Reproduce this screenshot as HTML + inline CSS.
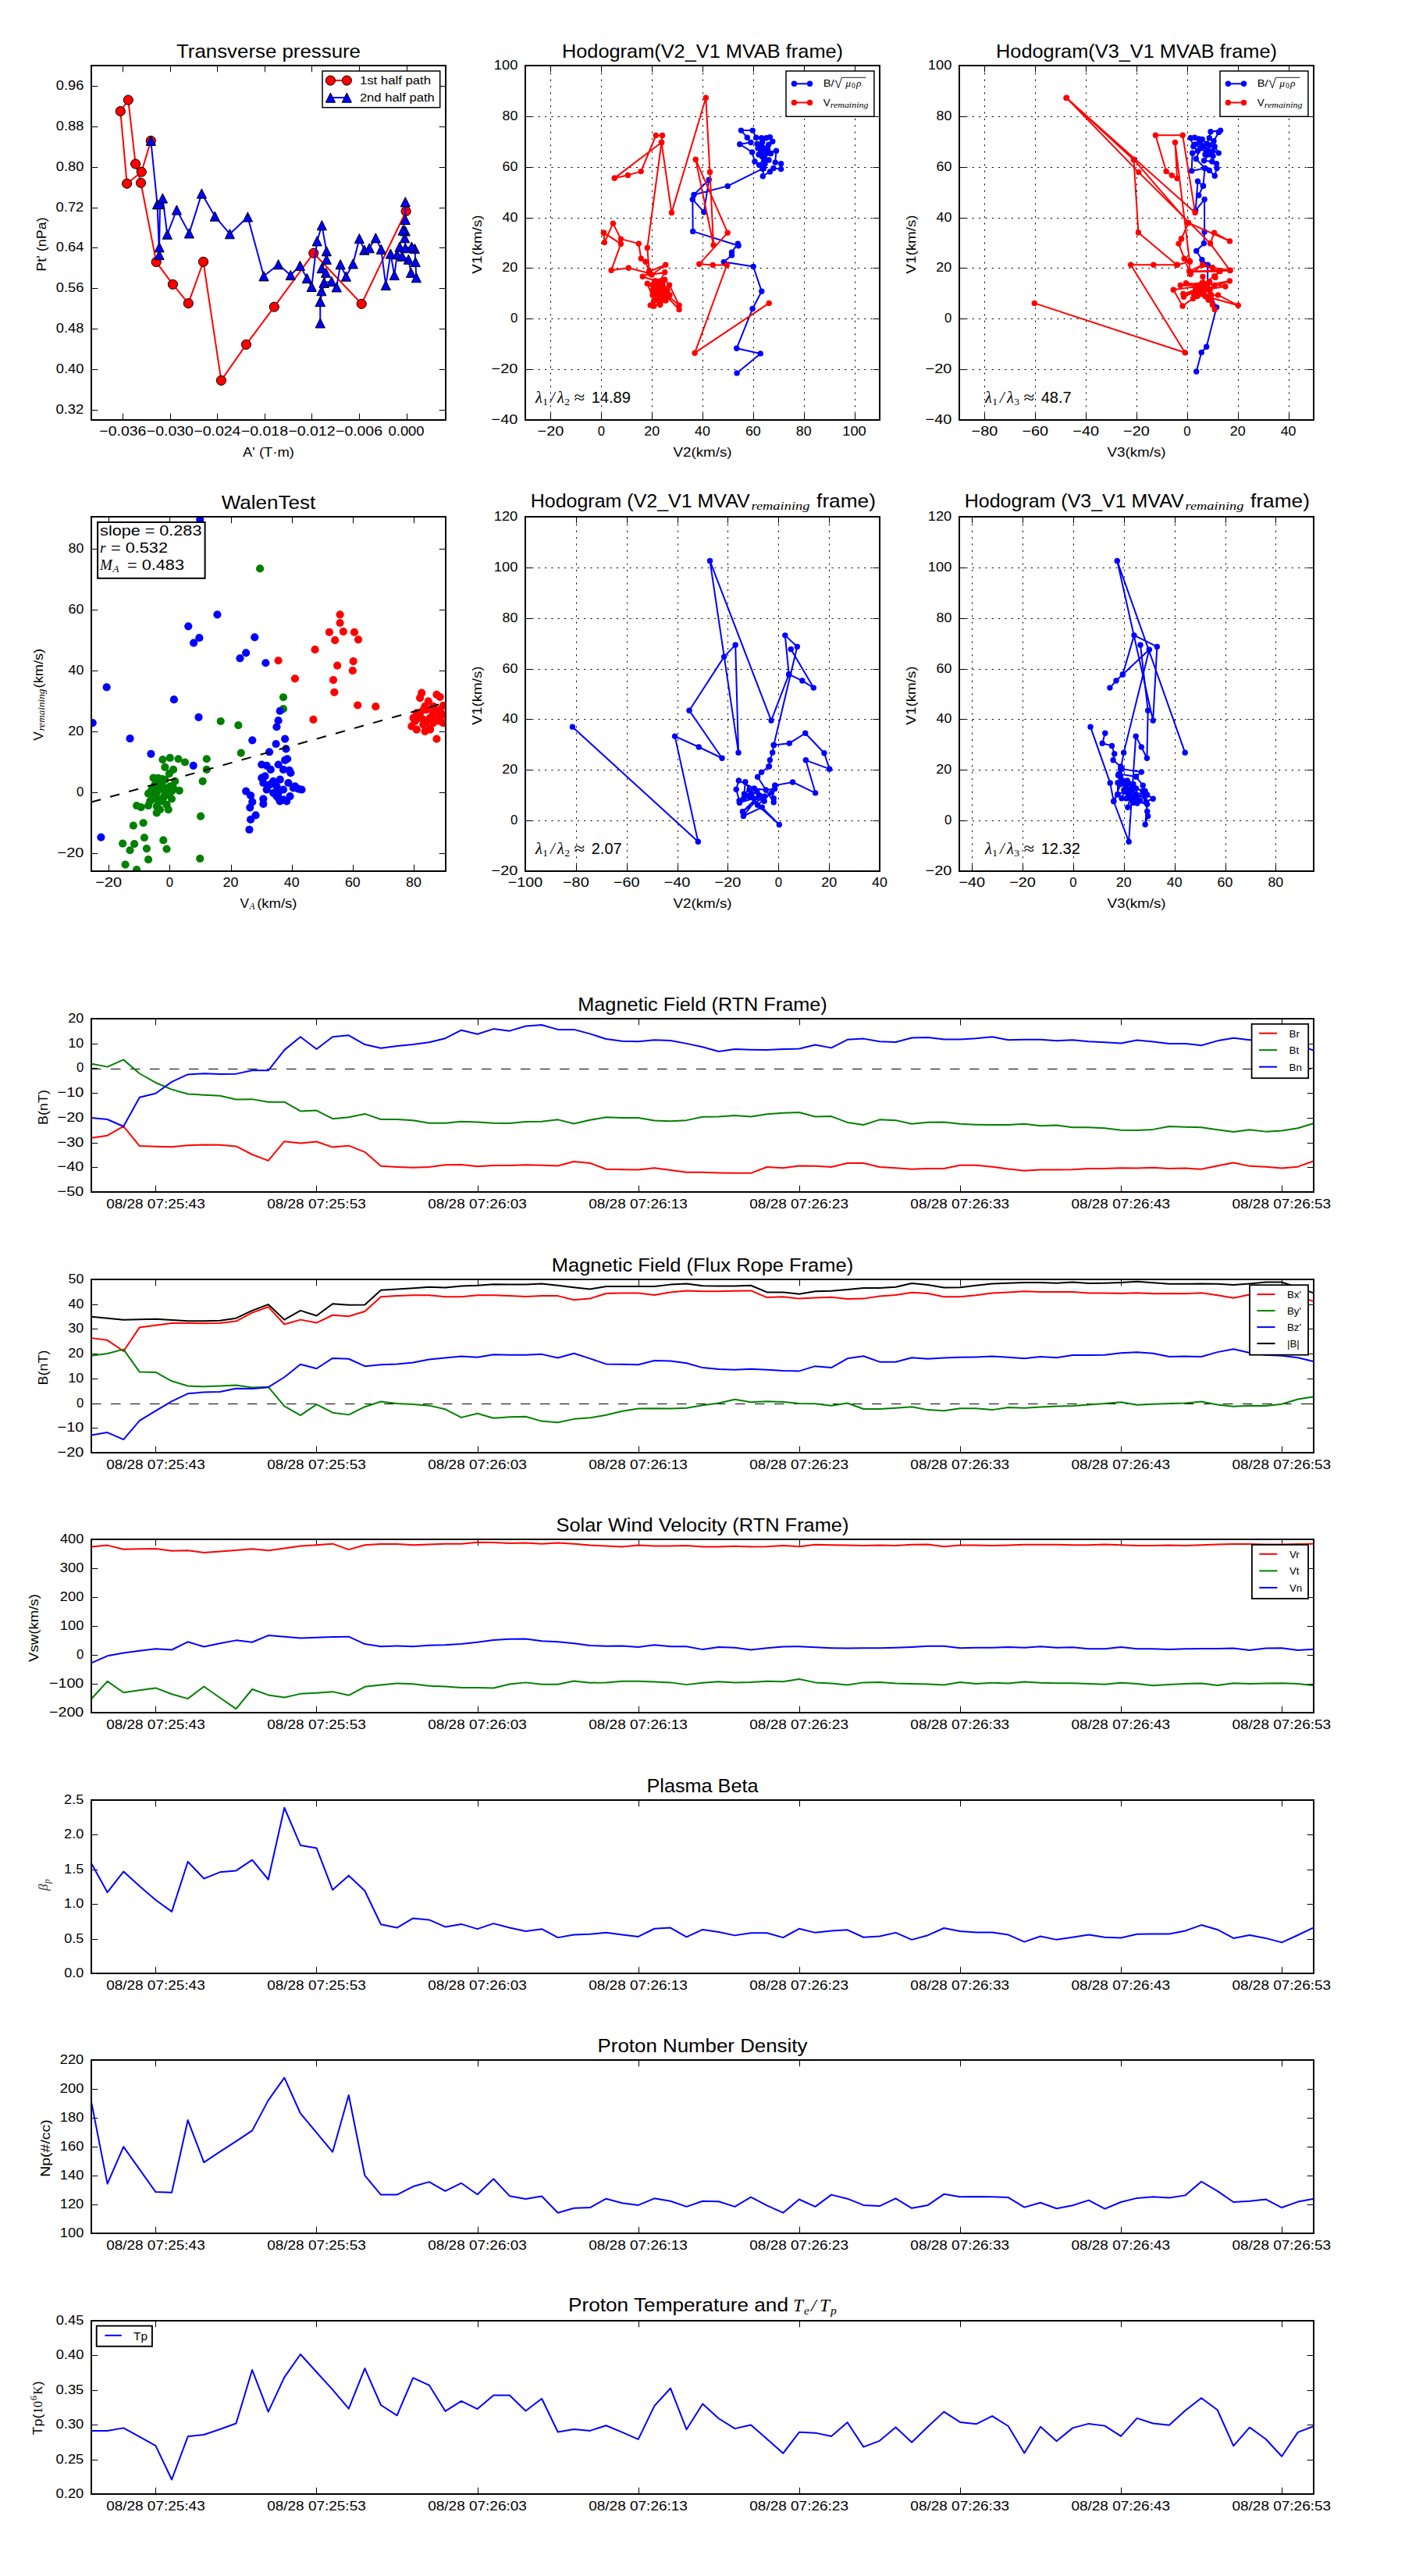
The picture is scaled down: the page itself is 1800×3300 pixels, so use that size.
<!DOCTYPE html><html><head><meta charset="utf-8"><style>html,body{margin:0;padding:0;background:#fff}svg{display:block}svg{font-family:"Liberation Sans",sans-serif}</style></head><body><svg width="1800" height="3300" viewBox="0 0 1800 3300"><defs><clipPath id="c_tp"><rect x="117" y="84" width="454" height="454"/></clipPath><clipPath id="c_h1"><rect x="673" y="84" width="454" height="454"/></clipPath><clipPath id="c_h2"><rect x="1229" y="84" width="454" height="454"/></clipPath><clipPath id="c_wt"><rect x="117" y="662" width="454" height="454"/></clipPath><clipPath id="c_h3"><rect x="673" y="662" width="454" height="454"/></clipPath><clipPath id="c_h4"><rect x="1229" y="662" width="454" height="454"/></clipPath><clipPath id="c_ts0"><rect x="117" y="1305" width="1566" height="222"/></clipPath><clipPath id="c_ts1"><rect x="117" y="1639" width="1566" height="222"/></clipPath><clipPath id="c_ts2"><rect x="117" y="1972" width="1566" height="222"/></clipPath><clipPath id="c_ts3"><rect x="117" y="2306" width="1566" height="222"/></clipPath><clipPath id="c_ts4"><rect x="117" y="2639" width="1566" height="222"/></clipPath><clipPath id="c_ts5"><rect x="117" y="2973" width="1566" height="222"/></clipPath></defs>
<rect x="0" y="0" width="1800" height="3300" fill="#fff"/>
<line x1="157.5" y1="538" x2="157.5" y2="529.7" stroke="#000" stroke-width="1.0" />
<line x1="157.5" y1="84" x2="157.5" y2="92.3" stroke="#000" stroke-width="1.0" />
<line x1="218.5" y1="538" x2="218.5" y2="529.7" stroke="#000" stroke-width="1.0" />
<line x1="218.5" y1="84" x2="218.5" y2="92.3" stroke="#000" stroke-width="1.0" />
<line x1="278.5" y1="538" x2="278.5" y2="529.7" stroke="#000" stroke-width="1.0" />
<line x1="278.5" y1="84" x2="278.5" y2="92.3" stroke="#000" stroke-width="1.0" />
<line x1="339.5" y1="538" x2="339.5" y2="529.7" stroke="#000" stroke-width="1.0" />
<line x1="339.5" y1="84" x2="339.5" y2="92.3" stroke="#000" stroke-width="1.0" />
<line x1="399.5" y1="538" x2="399.5" y2="529.7" stroke="#000" stroke-width="1.0" />
<line x1="399.5" y1="84" x2="399.5" y2="92.3" stroke="#000" stroke-width="1.0" />
<line x1="460.5" y1="538" x2="460.5" y2="529.7" stroke="#000" stroke-width="1.0" />
<line x1="460.5" y1="84" x2="460.5" y2="92.3" stroke="#000" stroke-width="1.0" />
<line x1="521.5" y1="538" x2="521.5" y2="529.7" stroke="#000" stroke-width="1.0" />
<line x1="521.5" y1="84" x2="521.5" y2="92.3" stroke="#000" stroke-width="1.0" />
<line x1="117" y1="525.5" x2="125.3" y2="525.5" stroke="#000" stroke-width="1.0" />
<line x1="571" y1="525.5" x2="562.7" y2="525.5" stroke="#000" stroke-width="1.0" />
<line x1="117" y1="473.5" x2="125.3" y2="473.5" stroke="#000" stroke-width="1.0" />
<line x1="571" y1="473.5" x2="562.7" y2="473.5" stroke="#000" stroke-width="1.0" />
<line x1="117" y1="421.5" x2="125.3" y2="421.5" stroke="#000" stroke-width="1.0" />
<line x1="571" y1="421.5" x2="562.7" y2="421.5" stroke="#000" stroke-width="1.0" />
<line x1="117" y1="369.5" x2="125.3" y2="369.5" stroke="#000" stroke-width="1.0" />
<line x1="571" y1="369.5" x2="562.7" y2="369.5" stroke="#000" stroke-width="1.0" />
<line x1="117" y1="317.5" x2="125.3" y2="317.5" stroke="#000" stroke-width="1.0" />
<line x1="571" y1="317.5" x2="562.7" y2="317.5" stroke="#000" stroke-width="1.0" />
<line x1="117" y1="266.5" x2="125.3" y2="266.5" stroke="#000" stroke-width="1.0" />
<line x1="571" y1="266.5" x2="562.7" y2="266.5" stroke="#000" stroke-width="1.0" />
<line x1="117" y1="214.5" x2="125.3" y2="214.5" stroke="#000" stroke-width="1.0" />
<line x1="571" y1="214.5" x2="562.7" y2="214.5" stroke="#000" stroke-width="1.0" />
<line x1="117" y1="162.5" x2="125.3" y2="162.5" stroke="#000" stroke-width="1.0" />
<line x1="571" y1="162.5" x2="562.7" y2="162.5" stroke="#000" stroke-width="1.0" />
<line x1="117" y1="110.5" x2="125.3" y2="110.5" stroke="#000" stroke-width="1.0" />
<line x1="571" y1="110.5" x2="562.7" y2="110.5" stroke="#000" stroke-width="1.0" />
<text x="157.36" y="558.3" font-size="17" text-anchor="middle" textLength="60.05" lengthAdjust="spacingAndGlyphs">−0.036</text>
<text x="217.89" y="558.3" font-size="17" text-anchor="middle" textLength="60.05" lengthAdjust="spacingAndGlyphs">−0.030</text>
<text x="278.42" y="558.3" font-size="17" text-anchor="middle" textLength="60.05" lengthAdjust="spacingAndGlyphs">−0.024</text>
<text x="338.96" y="558.3" font-size="17" text-anchor="middle" textLength="60.05" lengthAdjust="spacingAndGlyphs">−0.018</text>
<text x="399.49" y="558.3" font-size="17" text-anchor="middle" textLength="60.17" lengthAdjust="spacingAndGlyphs">−0.012</text>
<text x="460.02" y="558.3" font-size="17" text-anchor="middle" textLength="59.92" lengthAdjust="spacingAndGlyphs">−0.006</text>
<text x="520.56" y="558.3" font-size="17" text-anchor="middle" textLength="46.05" lengthAdjust="spacingAndGlyphs">0.000</text>
<text x="107.3" y="530.03" font-size="17" text-anchor="end" textLength="35.8" lengthAdjust="spacingAndGlyphs">0.32</text>
<text x="107.3" y="478.14" font-size="17" text-anchor="end" textLength="35.55" lengthAdjust="spacingAndGlyphs">0.40</text>
<text x="107.3" y="426.26" font-size="17" text-anchor="end" textLength="35.55" lengthAdjust="spacingAndGlyphs">0.48</text>
<text x="107.3" y="374.37" font-size="17" text-anchor="end" textLength="35.55" lengthAdjust="spacingAndGlyphs">0.56</text>
<text x="107.3" y="322.49" font-size="17" text-anchor="end" textLength="35.55" lengthAdjust="spacingAndGlyphs">0.64</text>
<text x="107.3" y="270.6" font-size="17" text-anchor="end" textLength="35.67" lengthAdjust="spacingAndGlyphs">0.72</text>
<text x="107.3" y="218.71" font-size="17" text-anchor="end" textLength="35.55" lengthAdjust="spacingAndGlyphs">0.80</text>
<text x="107.3" y="166.83" font-size="17" text-anchor="end" textLength="35.55" lengthAdjust="spacingAndGlyphs">0.88</text>
<text x="107.3" y="114.94" font-size="17" text-anchor="end" textLength="35.55" lengthAdjust="spacingAndGlyphs">0.96</text>
<text x="344" y="74.2" font-size="24.2" text-anchor="middle" textLength="236" lengthAdjust="spacingAndGlyphs">Transverse pressure</text>
<text x="344" y="585.2" font-size="17.2" text-anchor="middle" textLength="65.88" lengthAdjust="spacingAndGlyphs">A' (T·m)</text>
<text x="59" y="313" font-size="17.2" text-anchor="middle" textLength="69.38" lengthAdjust="spacingAndGlyphs" transform="rotate(-90 59 313)">Pt' (nPa)</text>
<line x1="705.5" y1="538" x2="705.5" y2="84" stroke="#000" stroke-width="1.0" stroke-dasharray="2.1 6.25"/>
<line x1="770.5" y1="538" x2="770.5" y2="84" stroke="#000" stroke-width="1.0" stroke-dasharray="2.1 6.25"/>
<line x1="835.5" y1="538" x2="835.5" y2="84" stroke="#000" stroke-width="1.0" stroke-dasharray="2.1 6.25"/>
<line x1="900.5" y1="538" x2="900.5" y2="84" stroke="#000" stroke-width="1.0" stroke-dasharray="2.1 6.25"/>
<line x1="965.5" y1="538" x2="965.5" y2="84" stroke="#000" stroke-width="1.0" stroke-dasharray="2.1 6.25"/>
<line x1="1030.5" y1="538" x2="1030.5" y2="84" stroke="#000" stroke-width="1.0" stroke-dasharray="2.1 6.25"/>
<line x1="1095.5" y1="538" x2="1095.5" y2="84" stroke="#000" stroke-width="1.0" stroke-dasharray="2.1 6.25"/>
<line x1="673" y1="538.5" x2="1127" y2="538.5" stroke="#000" stroke-width="1.0" stroke-dasharray="2.1 6.25"/>
<line x1="673" y1="473.5" x2="1127" y2="473.5" stroke="#000" stroke-width="1.0" stroke-dasharray="2.1 6.25"/>
<line x1="673" y1="408.5" x2="1127" y2="408.5" stroke="#000" stroke-width="1.0" stroke-dasharray="2.1 6.25"/>
<line x1="673" y1="343.5" x2="1127" y2="343.5" stroke="#000" stroke-width="1.0" stroke-dasharray="2.1 6.25"/>
<line x1="673" y1="279.5" x2="1127" y2="279.5" stroke="#000" stroke-width="1.0" stroke-dasharray="2.1 6.25"/>
<line x1="673" y1="214.5" x2="1127" y2="214.5" stroke="#000" stroke-width="1.0" stroke-dasharray="2.1 6.25"/>
<line x1="673" y1="149.5" x2="1127" y2="149.5" stroke="#000" stroke-width="1.0" stroke-dasharray="2.1 6.25"/>
<line x1="673" y1="84.5" x2="1127" y2="84.5" stroke="#000" stroke-width="1.0" stroke-dasharray="2.1 6.25"/>
<line x1="705.5" y1="538" x2="705.5" y2="529.7" stroke="#000" stroke-width="1.0" />
<line x1="705.5" y1="84" x2="705.5" y2="92.3" stroke="#000" stroke-width="1.0" />
<line x1="770.5" y1="538" x2="770.5" y2="529.7" stroke="#000" stroke-width="1.0" />
<line x1="770.5" y1="84" x2="770.5" y2="92.3" stroke="#000" stroke-width="1.0" />
<line x1="835.5" y1="538" x2="835.5" y2="529.7" stroke="#000" stroke-width="1.0" />
<line x1="835.5" y1="84" x2="835.5" y2="92.3" stroke="#000" stroke-width="1.0" />
<line x1="900.5" y1="538" x2="900.5" y2="529.7" stroke="#000" stroke-width="1.0" />
<line x1="900.5" y1="84" x2="900.5" y2="92.3" stroke="#000" stroke-width="1.0" />
<line x1="965.5" y1="538" x2="965.5" y2="529.7" stroke="#000" stroke-width="1.0" />
<line x1="965.5" y1="84" x2="965.5" y2="92.3" stroke="#000" stroke-width="1.0" />
<line x1="1030.5" y1="538" x2="1030.5" y2="529.7" stroke="#000" stroke-width="1.0" />
<line x1="1030.5" y1="84" x2="1030.5" y2="92.3" stroke="#000" stroke-width="1.0" />
<line x1="1095.5" y1="538" x2="1095.5" y2="529.7" stroke="#000" stroke-width="1.0" />
<line x1="1095.5" y1="84" x2="1095.5" y2="92.3" stroke="#000" stroke-width="1.0" />
<line x1="673" y1="538.5" x2="681.3" y2="538.5" stroke="#000" stroke-width="1.0" />
<line x1="1127" y1="538.5" x2="1118.7" y2="538.5" stroke="#000" stroke-width="1.0" />
<line x1="673" y1="473.5" x2="681.3" y2="473.5" stroke="#000" stroke-width="1.0" />
<line x1="1127" y1="473.5" x2="1118.7" y2="473.5" stroke="#000" stroke-width="1.0" />
<line x1="673" y1="408.5" x2="681.3" y2="408.5" stroke="#000" stroke-width="1.0" />
<line x1="1127" y1="408.5" x2="1118.7" y2="408.5" stroke="#000" stroke-width="1.0" />
<line x1="673" y1="343.5" x2="681.3" y2="343.5" stroke="#000" stroke-width="1.0" />
<line x1="1127" y1="343.5" x2="1118.7" y2="343.5" stroke="#000" stroke-width="1.0" />
<line x1="673" y1="279.5" x2="681.3" y2="279.5" stroke="#000" stroke-width="1.0" />
<line x1="1127" y1="279.5" x2="1118.7" y2="279.5" stroke="#000" stroke-width="1.0" />
<line x1="673" y1="214.5" x2="681.3" y2="214.5" stroke="#000" stroke-width="1.0" />
<line x1="1127" y1="214.5" x2="1118.7" y2="214.5" stroke="#000" stroke-width="1.0" />
<line x1="673" y1="149.5" x2="681.3" y2="149.5" stroke="#000" stroke-width="1.0" />
<line x1="1127" y1="149.5" x2="1118.7" y2="149.5" stroke="#000" stroke-width="1.0" />
<line x1="673" y1="84.5" x2="681.3" y2="84.5" stroke="#000" stroke-width="1.0" />
<line x1="1127" y1="84.5" x2="1118.7" y2="84.5" stroke="#000" stroke-width="1.0" />
<text x="705.43" y="558.3" font-size="17" text-anchor="middle" textLength="33.8" lengthAdjust="spacingAndGlyphs">−20</text>
<text x="770.29" y="558.3" font-size="17" text-anchor="middle" textLength="9.3" lengthAdjust="spacingAndGlyphs">0</text>
<text x="835.14" y="558.3" font-size="17" text-anchor="middle" textLength="19.93" lengthAdjust="spacingAndGlyphs">20</text>
<text x="900" y="558.3" font-size="17" text-anchor="middle" textLength="19.8" lengthAdjust="spacingAndGlyphs">40</text>
<text x="964.86" y="558.3" font-size="17" text-anchor="middle" textLength="19.8" lengthAdjust="spacingAndGlyphs">60</text>
<text x="1029.71" y="558.3" font-size="17" text-anchor="middle" textLength="19.8" lengthAdjust="spacingAndGlyphs">80</text>
<text x="1094.57" y="558.3" font-size="17" text-anchor="middle" textLength="30.43" lengthAdjust="spacingAndGlyphs">100</text>
<text x="663.3" y="543" font-size="17" text-anchor="end" textLength="33.67" lengthAdjust="spacingAndGlyphs">−40</text>
<text x="663.3" y="478.14" font-size="17" text-anchor="end" textLength="33.8" lengthAdjust="spacingAndGlyphs">−20</text>
<text x="663.3" y="413.29" font-size="17" text-anchor="end" textLength="9.3" lengthAdjust="spacingAndGlyphs">0</text>
<text x="663.3" y="348.43" font-size="17" text-anchor="end" textLength="19.93" lengthAdjust="spacingAndGlyphs">20</text>
<text x="663.3" y="283.57" font-size="17" text-anchor="end" textLength="19.8" lengthAdjust="spacingAndGlyphs">40</text>
<text x="663.3" y="218.71" font-size="17" text-anchor="end" textLength="19.8" lengthAdjust="spacingAndGlyphs">60</text>
<text x="663.3" y="153.86" font-size="17" text-anchor="end" textLength="19.8" lengthAdjust="spacingAndGlyphs">80</text>
<text x="663.3" y="89" font-size="17" text-anchor="end" textLength="30.43" lengthAdjust="spacingAndGlyphs">100</text>
<text x="900" y="585.2" font-size="17.2" text-anchor="middle" textLength="75.25" lengthAdjust="spacingAndGlyphs">V2(km/s)</text>
<text x="617" y="313" font-size="17.2" text-anchor="middle" textLength="75.25" lengthAdjust="spacingAndGlyphs" transform="rotate(-90 617 313)">V1(km/s)</text>
<text x="900" y="74.2" font-size="24.2" text-anchor="middle" textLength="360.1" lengthAdjust="spacingAndGlyphs">Hodogram(V2_V1 MVAB frame)</text>
<line x1="1261.5" y1="538" x2="1261.5" y2="84" stroke="#000" stroke-width="1.0" stroke-dasharray="2.1 6.25"/>
<line x1="1326.5" y1="538" x2="1326.5" y2="84" stroke="#000" stroke-width="1.0" stroke-dasharray="2.1 6.25"/>
<line x1="1391.5" y1="538" x2="1391.5" y2="84" stroke="#000" stroke-width="1.0" stroke-dasharray="2.1 6.25"/>
<line x1="1456.5" y1="538" x2="1456.5" y2="84" stroke="#000" stroke-width="1.0" stroke-dasharray="2.1 6.25"/>
<line x1="1521.5" y1="538" x2="1521.5" y2="84" stroke="#000" stroke-width="1.0" stroke-dasharray="2.1 6.25"/>
<line x1="1586.5" y1="538" x2="1586.5" y2="84" stroke="#000" stroke-width="1.0" stroke-dasharray="2.1 6.25"/>
<line x1="1651.5" y1="538" x2="1651.5" y2="84" stroke="#000" stroke-width="1.0" stroke-dasharray="2.1 6.25"/>
<line x1="1229" y1="538.5" x2="1683" y2="538.5" stroke="#000" stroke-width="1.0" stroke-dasharray="2.1 6.25"/>
<line x1="1229" y1="473.5" x2="1683" y2="473.5" stroke="#000" stroke-width="1.0" stroke-dasharray="2.1 6.25"/>
<line x1="1229" y1="408.5" x2="1683" y2="408.5" stroke="#000" stroke-width="1.0" stroke-dasharray="2.1 6.25"/>
<line x1="1229" y1="343.5" x2="1683" y2="343.5" stroke="#000" stroke-width="1.0" stroke-dasharray="2.1 6.25"/>
<line x1="1229" y1="279.5" x2="1683" y2="279.5" stroke="#000" stroke-width="1.0" stroke-dasharray="2.1 6.25"/>
<line x1="1229" y1="214.5" x2="1683" y2="214.5" stroke="#000" stroke-width="1.0" stroke-dasharray="2.1 6.25"/>
<line x1="1229" y1="149.5" x2="1683" y2="149.5" stroke="#000" stroke-width="1.0" stroke-dasharray="2.1 6.25"/>
<line x1="1229" y1="84.5" x2="1683" y2="84.5" stroke="#000" stroke-width="1.0" stroke-dasharray="2.1 6.25"/>
<line x1="1261.5" y1="538" x2="1261.5" y2="529.7" stroke="#000" stroke-width="1.0" />
<line x1="1261.5" y1="84" x2="1261.5" y2="92.3" stroke="#000" stroke-width="1.0" />
<line x1="1326.5" y1="538" x2="1326.5" y2="529.7" stroke="#000" stroke-width="1.0" />
<line x1="1326.5" y1="84" x2="1326.5" y2="92.3" stroke="#000" stroke-width="1.0" />
<line x1="1391.5" y1="538" x2="1391.5" y2="529.7" stroke="#000" stroke-width="1.0" />
<line x1="1391.5" y1="84" x2="1391.5" y2="92.3" stroke="#000" stroke-width="1.0" />
<line x1="1456.5" y1="538" x2="1456.5" y2="529.7" stroke="#000" stroke-width="1.0" />
<line x1="1456.5" y1="84" x2="1456.5" y2="92.3" stroke="#000" stroke-width="1.0" />
<line x1="1521.5" y1="538" x2="1521.5" y2="529.7" stroke="#000" stroke-width="1.0" />
<line x1="1521.5" y1="84" x2="1521.5" y2="92.3" stroke="#000" stroke-width="1.0" />
<line x1="1586.5" y1="538" x2="1586.5" y2="529.7" stroke="#000" stroke-width="1.0" />
<line x1="1586.5" y1="84" x2="1586.5" y2="92.3" stroke="#000" stroke-width="1.0" />
<line x1="1651.5" y1="538" x2="1651.5" y2="529.7" stroke="#000" stroke-width="1.0" />
<line x1="1651.5" y1="84" x2="1651.5" y2="92.3" stroke="#000" stroke-width="1.0" />
<line x1="1229" y1="538.5" x2="1237.3" y2="538.5" stroke="#000" stroke-width="1.0" />
<line x1="1683" y1="538.5" x2="1674.7" y2="538.5" stroke="#000" stroke-width="1.0" />
<line x1="1229" y1="473.5" x2="1237.3" y2="473.5" stroke="#000" stroke-width="1.0" />
<line x1="1683" y1="473.5" x2="1674.7" y2="473.5" stroke="#000" stroke-width="1.0" />
<line x1="1229" y1="408.5" x2="1237.3" y2="408.5" stroke="#000" stroke-width="1.0" />
<line x1="1683" y1="408.5" x2="1674.7" y2="408.5" stroke="#000" stroke-width="1.0" />
<line x1="1229" y1="343.5" x2="1237.3" y2="343.5" stroke="#000" stroke-width="1.0" />
<line x1="1683" y1="343.5" x2="1674.7" y2="343.5" stroke="#000" stroke-width="1.0" />
<line x1="1229" y1="279.5" x2="1237.3" y2="279.5" stroke="#000" stroke-width="1.0" />
<line x1="1683" y1="279.5" x2="1674.7" y2="279.5" stroke="#000" stroke-width="1.0" />
<line x1="1229" y1="214.5" x2="1237.3" y2="214.5" stroke="#000" stroke-width="1.0" />
<line x1="1683" y1="214.5" x2="1674.7" y2="214.5" stroke="#000" stroke-width="1.0" />
<line x1="1229" y1="149.5" x2="1237.3" y2="149.5" stroke="#000" stroke-width="1.0" />
<line x1="1683" y1="149.5" x2="1674.7" y2="149.5" stroke="#000" stroke-width="1.0" />
<line x1="1229" y1="84.5" x2="1237.3" y2="84.5" stroke="#000" stroke-width="1.0" />
<line x1="1683" y1="84.5" x2="1674.7" y2="84.5" stroke="#000" stroke-width="1.0" />
<text x="1261.43" y="558.3" font-size="17" text-anchor="middle" textLength="33.67" lengthAdjust="spacingAndGlyphs">−80</text>
<text x="1326.29" y="558.3" font-size="17" text-anchor="middle" textLength="33.67" lengthAdjust="spacingAndGlyphs">−60</text>
<text x="1391.14" y="558.3" font-size="17" text-anchor="middle" textLength="33.67" lengthAdjust="spacingAndGlyphs">−40</text>
<text x="1456" y="558.3" font-size="17" text-anchor="middle" textLength="33.8" lengthAdjust="spacingAndGlyphs">−20</text>
<text x="1520.86" y="558.3" font-size="17" text-anchor="middle" textLength="9.3" lengthAdjust="spacingAndGlyphs">0</text>
<text x="1585.71" y="558.3" font-size="17" text-anchor="middle" textLength="19.93" lengthAdjust="spacingAndGlyphs">20</text>
<text x="1650.57" y="558.3" font-size="17" text-anchor="middle" textLength="19.8" lengthAdjust="spacingAndGlyphs">40</text>
<text x="1219.3" y="543" font-size="17" text-anchor="end" textLength="33.67" lengthAdjust="spacingAndGlyphs">−40</text>
<text x="1219.3" y="478.14" font-size="17" text-anchor="end" textLength="33.8" lengthAdjust="spacingAndGlyphs">−20</text>
<text x="1219.3" y="413.29" font-size="17" text-anchor="end" textLength="9.3" lengthAdjust="spacingAndGlyphs">0</text>
<text x="1219.3" y="348.43" font-size="17" text-anchor="end" textLength="19.93" lengthAdjust="spacingAndGlyphs">20</text>
<text x="1219.3" y="283.57" font-size="17" text-anchor="end" textLength="19.8" lengthAdjust="spacingAndGlyphs">40</text>
<text x="1219.3" y="218.71" font-size="17" text-anchor="end" textLength="19.8" lengthAdjust="spacingAndGlyphs">60</text>
<text x="1219.3" y="153.86" font-size="17" text-anchor="end" textLength="19.8" lengthAdjust="spacingAndGlyphs">80</text>
<text x="1219.3" y="89" font-size="17" text-anchor="end" textLength="30.43" lengthAdjust="spacingAndGlyphs">100</text>
<text x="1456" y="585.2" font-size="17.2" text-anchor="middle" textLength="75.25" lengthAdjust="spacingAndGlyphs">V3(km/s)</text>
<text x="1173" y="313" font-size="17.2" text-anchor="middle" textLength="75.25" lengthAdjust="spacingAndGlyphs" transform="rotate(-90 1173 313)">V1(km/s)</text>
<text x="1456" y="74.2" font-size="24.2" text-anchor="middle" textLength="359.9" lengthAdjust="spacingAndGlyphs">Hodogram(V3_V1 MVAB frame)</text>
<line x1="139.5" y1="1116" x2="139.5" y2="1107.7" stroke="#000" stroke-width="1.0" />
<line x1="139.5" y1="662" x2="139.5" y2="670.3" stroke="#000" stroke-width="1.0" />
<line x1="217.5" y1="1116" x2="217.5" y2="1107.7" stroke="#000" stroke-width="1.0" />
<line x1="217.5" y1="662" x2="217.5" y2="670.3" stroke="#000" stroke-width="1.0" />
<line x1="296.5" y1="1116" x2="296.5" y2="1107.7" stroke="#000" stroke-width="1.0" />
<line x1="296.5" y1="662" x2="296.5" y2="670.3" stroke="#000" stroke-width="1.0" />
<line x1="374.5" y1="1116" x2="374.5" y2="1107.7" stroke="#000" stroke-width="1.0" />
<line x1="374.5" y1="662" x2="374.5" y2="670.3" stroke="#000" stroke-width="1.0" />
<line x1="452.5" y1="1116" x2="452.5" y2="1107.7" stroke="#000" stroke-width="1.0" />
<line x1="452.5" y1="662" x2="452.5" y2="670.3" stroke="#000" stroke-width="1.0" />
<line x1="530.5" y1="1116" x2="530.5" y2="1107.7" stroke="#000" stroke-width="1.0" />
<line x1="530.5" y1="662" x2="530.5" y2="670.3" stroke="#000" stroke-width="1.0" />
<line x1="117" y1="1093.5" x2="125.3" y2="1093.5" stroke="#000" stroke-width="1.0" />
<line x1="571" y1="1093.5" x2="562.7" y2="1093.5" stroke="#000" stroke-width="1.0" />
<line x1="117" y1="1015.5" x2="125.3" y2="1015.5" stroke="#000" stroke-width="1.0" />
<line x1="571" y1="1015.5" x2="562.7" y2="1015.5" stroke="#000" stroke-width="1.0" />
<line x1="117" y1="937.5" x2="125.3" y2="937.5" stroke="#000" stroke-width="1.0" />
<line x1="571" y1="937.5" x2="562.7" y2="937.5" stroke="#000" stroke-width="1.0" />
<line x1="117" y1="859.5" x2="125.3" y2="859.5" stroke="#000" stroke-width="1.0" />
<line x1="571" y1="859.5" x2="562.7" y2="859.5" stroke="#000" stroke-width="1.0" />
<line x1="117" y1="781.5" x2="125.3" y2="781.5" stroke="#000" stroke-width="1.0" />
<line x1="571" y1="781.5" x2="562.7" y2="781.5" stroke="#000" stroke-width="1.0" />
<line x1="117" y1="703.5" x2="125.3" y2="703.5" stroke="#000" stroke-width="1.0" />
<line x1="571" y1="703.5" x2="562.7" y2="703.5" stroke="#000" stroke-width="1.0" />
<text x="139.27" y="1136.3" font-size="17" text-anchor="middle" textLength="33.8" lengthAdjust="spacingAndGlyphs">−20</text>
<text x="217.41" y="1136.3" font-size="17" text-anchor="middle" textLength="9.3" lengthAdjust="spacingAndGlyphs">0</text>
<text x="295.55" y="1136.3" font-size="17" text-anchor="middle" textLength="19.93" lengthAdjust="spacingAndGlyphs">20</text>
<text x="373.69" y="1136.3" font-size="17" text-anchor="middle" textLength="19.8" lengthAdjust="spacingAndGlyphs">40</text>
<text x="451.83" y="1136.3" font-size="17" text-anchor="middle" textLength="19.8" lengthAdjust="spacingAndGlyphs">60</text>
<text x="529.98" y="1136.3" font-size="17" text-anchor="middle" textLength="19.8" lengthAdjust="spacingAndGlyphs">80</text>
<text x="107.3" y="1097.6" font-size="17" text-anchor="end" textLength="33.8" lengthAdjust="spacingAndGlyphs">−20</text>
<text x="107.3" y="1019.59" font-size="17" text-anchor="end" textLength="9.3" lengthAdjust="spacingAndGlyphs">0</text>
<text x="107.3" y="941.58" font-size="17" text-anchor="end" textLength="19.93" lengthAdjust="spacingAndGlyphs">20</text>
<text x="107.3" y="863.58" font-size="17" text-anchor="end" textLength="19.8" lengthAdjust="spacingAndGlyphs">40</text>
<text x="107.3" y="785.57" font-size="17" text-anchor="end" textLength="19.8" lengthAdjust="spacingAndGlyphs">60</text>
<text x="107.3" y="707.56" font-size="17" text-anchor="end" textLength="19.8" lengthAdjust="spacingAndGlyphs">80</text>
<text x="344" y="652.2" font-size="24.2" text-anchor="middle" textLength="120.6" lengthAdjust="spacingAndGlyphs">WalenTest</text>
<line x1="738.5" y1="1116" x2="738.5" y2="662" stroke="#000" stroke-width="1.0" stroke-dasharray="2.1 6.25"/>
<line x1="803.5" y1="1116" x2="803.5" y2="662" stroke="#000" stroke-width="1.0" stroke-dasharray="2.1 6.25"/>
<line x1="868.5" y1="1116" x2="868.5" y2="662" stroke="#000" stroke-width="1.0" stroke-dasharray="2.1 6.25"/>
<line x1="932.5" y1="1116" x2="932.5" y2="662" stroke="#000" stroke-width="1.0" stroke-dasharray="2.1 6.25"/>
<line x1="997.5" y1="1116" x2="997.5" y2="662" stroke="#000" stroke-width="1.0" stroke-dasharray="2.1 6.25"/>
<line x1="1062.5" y1="1116" x2="1062.5" y2="662" stroke="#000" stroke-width="1.0" stroke-dasharray="2.1 6.25"/>
<line x1="673" y1="1116.5" x2="1127" y2="1116.5" stroke="#000" stroke-width="1.0" stroke-dasharray="2.1 6.25"/>
<line x1="673" y1="1051.5" x2="1127" y2="1051.5" stroke="#000" stroke-width="1.0" stroke-dasharray="2.1 6.25"/>
<line x1="673" y1="986.5" x2="1127" y2="986.5" stroke="#000" stroke-width="1.0" stroke-dasharray="2.1 6.25"/>
<line x1="673" y1="921.5" x2="1127" y2="921.5" stroke="#000" stroke-width="1.0" stroke-dasharray="2.1 6.25"/>
<line x1="673" y1="857.5" x2="1127" y2="857.5" stroke="#000" stroke-width="1.0" stroke-dasharray="2.1 6.25"/>
<line x1="673" y1="792.5" x2="1127" y2="792.5" stroke="#000" stroke-width="1.0" stroke-dasharray="2.1 6.25"/>
<line x1="673" y1="727.5" x2="1127" y2="727.5" stroke="#000" stroke-width="1.0" stroke-dasharray="2.1 6.25"/>
<line x1="673" y1="662.5" x2="1127" y2="662.5" stroke="#000" stroke-width="1.0" stroke-dasharray="2.1 6.25"/>
<line x1="673.5" y1="1116" x2="673.5" y2="1107.7" stroke="#000" stroke-width="1.0" />
<line x1="673.5" y1="662" x2="673.5" y2="670.3" stroke="#000" stroke-width="1.0" />
<line x1="738.5" y1="1116" x2="738.5" y2="1107.7" stroke="#000" stroke-width="1.0" />
<line x1="738.5" y1="662" x2="738.5" y2="670.3" stroke="#000" stroke-width="1.0" />
<line x1="803.5" y1="1116" x2="803.5" y2="1107.7" stroke="#000" stroke-width="1.0" />
<line x1="803.5" y1="662" x2="803.5" y2="670.3" stroke="#000" stroke-width="1.0" />
<line x1="868.5" y1="1116" x2="868.5" y2="1107.7" stroke="#000" stroke-width="1.0" />
<line x1="868.5" y1="662" x2="868.5" y2="670.3" stroke="#000" stroke-width="1.0" />
<line x1="932.5" y1="1116" x2="932.5" y2="1107.7" stroke="#000" stroke-width="1.0" />
<line x1="932.5" y1="662" x2="932.5" y2="670.3" stroke="#000" stroke-width="1.0" />
<line x1="997.5" y1="1116" x2="997.5" y2="1107.7" stroke="#000" stroke-width="1.0" />
<line x1="997.5" y1="662" x2="997.5" y2="670.3" stroke="#000" stroke-width="1.0" />
<line x1="1062.5" y1="1116" x2="1062.5" y2="1107.7" stroke="#000" stroke-width="1.0" />
<line x1="1062.5" y1="662" x2="1062.5" y2="670.3" stroke="#000" stroke-width="1.0" />
<line x1="1127.5" y1="1116" x2="1127.5" y2="1107.7" stroke="#000" stroke-width="1.0" />
<line x1="1127.5" y1="662" x2="1127.5" y2="670.3" stroke="#000" stroke-width="1.0" />
<line x1="673" y1="1116.5" x2="681.3" y2="1116.5" stroke="#000" stroke-width="1.0" />
<line x1="1127" y1="1116.5" x2="1118.7" y2="1116.5" stroke="#000" stroke-width="1.0" />
<line x1="673" y1="1051.5" x2="681.3" y2="1051.5" stroke="#000" stroke-width="1.0" />
<line x1="1127" y1="1051.5" x2="1118.7" y2="1051.5" stroke="#000" stroke-width="1.0" />
<line x1="673" y1="986.5" x2="681.3" y2="986.5" stroke="#000" stroke-width="1.0" />
<line x1="1127" y1="986.5" x2="1118.7" y2="986.5" stroke="#000" stroke-width="1.0" />
<line x1="673" y1="921.5" x2="681.3" y2="921.5" stroke="#000" stroke-width="1.0" />
<line x1="1127" y1="921.5" x2="1118.7" y2="921.5" stroke="#000" stroke-width="1.0" />
<line x1="673" y1="857.5" x2="681.3" y2="857.5" stroke="#000" stroke-width="1.0" />
<line x1="1127" y1="857.5" x2="1118.7" y2="857.5" stroke="#000" stroke-width="1.0" />
<line x1="673" y1="792.5" x2="681.3" y2="792.5" stroke="#000" stroke-width="1.0" />
<line x1="1127" y1="792.5" x2="1118.7" y2="792.5" stroke="#000" stroke-width="1.0" />
<line x1="673" y1="727.5" x2="681.3" y2="727.5" stroke="#000" stroke-width="1.0" />
<line x1="1127" y1="727.5" x2="1118.7" y2="727.5" stroke="#000" stroke-width="1.0" />
<line x1="673" y1="662.5" x2="681.3" y2="662.5" stroke="#000" stroke-width="1.0" />
<line x1="1127" y1="662.5" x2="1118.7" y2="662.5" stroke="#000" stroke-width="1.0" />
<text x="673" y="1136.3" font-size="17" text-anchor="middle" textLength="44.3" lengthAdjust="spacingAndGlyphs">−100</text>
<text x="737.86" y="1136.3" font-size="17" text-anchor="middle" textLength="33.67" lengthAdjust="spacingAndGlyphs">−80</text>
<text x="802.71" y="1136.3" font-size="17" text-anchor="middle" textLength="33.67" lengthAdjust="spacingAndGlyphs">−60</text>
<text x="867.57" y="1136.3" font-size="17" text-anchor="middle" textLength="33.67" lengthAdjust="spacingAndGlyphs">−40</text>
<text x="932.43" y="1136.3" font-size="17" text-anchor="middle" textLength="33.8" lengthAdjust="spacingAndGlyphs">−20</text>
<text x="997.29" y="1136.3" font-size="17" text-anchor="middle" textLength="9.3" lengthAdjust="spacingAndGlyphs">0</text>
<text x="1062.14" y="1136.3" font-size="17" text-anchor="middle" textLength="19.93" lengthAdjust="spacingAndGlyphs">20</text>
<text x="1127" y="1136.3" font-size="17" text-anchor="middle" textLength="19.8" lengthAdjust="spacingAndGlyphs">40</text>
<text x="663.3" y="1121" font-size="17" text-anchor="end" textLength="33.8" lengthAdjust="spacingAndGlyphs">−20</text>
<text x="663.3" y="1056.14" font-size="17" text-anchor="end" textLength="9.3" lengthAdjust="spacingAndGlyphs">0</text>
<text x="663.3" y="991.29" font-size="17" text-anchor="end" textLength="19.93" lengthAdjust="spacingAndGlyphs">20</text>
<text x="663.3" y="926.43" font-size="17" text-anchor="end" textLength="19.8" lengthAdjust="spacingAndGlyphs">40</text>
<text x="663.3" y="861.57" font-size="17" text-anchor="end" textLength="19.8" lengthAdjust="spacingAndGlyphs">60</text>
<text x="663.3" y="796.71" font-size="17" text-anchor="end" textLength="19.8" lengthAdjust="spacingAndGlyphs">80</text>
<text x="663.3" y="731.86" font-size="17" text-anchor="end" textLength="30.43" lengthAdjust="spacingAndGlyphs">100</text>
<text x="663.3" y="667" font-size="17" text-anchor="end" textLength="30.55" lengthAdjust="spacingAndGlyphs">120</text>
<text x="900" y="1163.2" font-size="17.2" text-anchor="middle" textLength="75.25" lengthAdjust="spacingAndGlyphs">V2(km/s)</text>
<text x="617" y="891" font-size="17.2" text-anchor="middle" textLength="75.25" lengthAdjust="spacingAndGlyphs" transform="rotate(-90 617 891)">V1(km/s)</text>
<line x1="1245.5" y1="1116" x2="1245.5" y2="662" stroke="#000" stroke-width="1.0" stroke-dasharray="2.1 6.25"/>
<line x1="1310.5" y1="1116" x2="1310.5" y2="662" stroke="#000" stroke-width="1.0" stroke-dasharray="2.1 6.25"/>
<line x1="1375.5" y1="1116" x2="1375.5" y2="662" stroke="#000" stroke-width="1.0" stroke-dasharray="2.1 6.25"/>
<line x1="1440.5" y1="1116" x2="1440.5" y2="662" stroke="#000" stroke-width="1.0" stroke-dasharray="2.1 6.25"/>
<line x1="1505.5" y1="1116" x2="1505.5" y2="662" stroke="#000" stroke-width="1.0" stroke-dasharray="2.1 6.25"/>
<line x1="1570.5" y1="1116" x2="1570.5" y2="662" stroke="#000" stroke-width="1.0" stroke-dasharray="2.1 6.25"/>
<line x1="1634.5" y1="1116" x2="1634.5" y2="662" stroke="#000" stroke-width="1.0" stroke-dasharray="2.1 6.25"/>
<line x1="1229" y1="1116.5" x2="1683" y2="1116.5" stroke="#000" stroke-width="1.0" stroke-dasharray="2.1 6.25"/>
<line x1="1229" y1="1051.5" x2="1683" y2="1051.5" stroke="#000" stroke-width="1.0" stroke-dasharray="2.1 6.25"/>
<line x1="1229" y1="986.5" x2="1683" y2="986.5" stroke="#000" stroke-width="1.0" stroke-dasharray="2.1 6.25"/>
<line x1="1229" y1="921.5" x2="1683" y2="921.5" stroke="#000" stroke-width="1.0" stroke-dasharray="2.1 6.25"/>
<line x1="1229" y1="857.5" x2="1683" y2="857.5" stroke="#000" stroke-width="1.0" stroke-dasharray="2.1 6.25"/>
<line x1="1229" y1="792.5" x2="1683" y2="792.5" stroke="#000" stroke-width="1.0" stroke-dasharray="2.1 6.25"/>
<line x1="1229" y1="727.5" x2="1683" y2="727.5" stroke="#000" stroke-width="1.0" stroke-dasharray="2.1 6.25"/>
<line x1="1229" y1="662.5" x2="1683" y2="662.5" stroke="#000" stroke-width="1.0" stroke-dasharray="2.1 6.25"/>
<line x1="1245.5" y1="1116" x2="1245.5" y2="1107.7" stroke="#000" stroke-width="1.0" />
<line x1="1245.5" y1="662" x2="1245.5" y2="670.3" stroke="#000" stroke-width="1.0" />
<line x1="1310.5" y1="1116" x2="1310.5" y2="1107.7" stroke="#000" stroke-width="1.0" />
<line x1="1310.5" y1="662" x2="1310.5" y2="670.3" stroke="#000" stroke-width="1.0" />
<line x1="1375.5" y1="1116" x2="1375.5" y2="1107.7" stroke="#000" stroke-width="1.0" />
<line x1="1375.5" y1="662" x2="1375.5" y2="670.3" stroke="#000" stroke-width="1.0" />
<line x1="1440.5" y1="1116" x2="1440.5" y2="1107.7" stroke="#000" stroke-width="1.0" />
<line x1="1440.5" y1="662" x2="1440.5" y2="670.3" stroke="#000" stroke-width="1.0" />
<line x1="1505.5" y1="1116" x2="1505.5" y2="1107.7" stroke="#000" stroke-width="1.0" />
<line x1="1505.5" y1="662" x2="1505.5" y2="670.3" stroke="#000" stroke-width="1.0" />
<line x1="1570.5" y1="1116" x2="1570.5" y2="1107.7" stroke="#000" stroke-width="1.0" />
<line x1="1570.5" y1="662" x2="1570.5" y2="670.3" stroke="#000" stroke-width="1.0" />
<line x1="1634.5" y1="1116" x2="1634.5" y2="1107.7" stroke="#000" stroke-width="1.0" />
<line x1="1634.5" y1="662" x2="1634.5" y2="670.3" stroke="#000" stroke-width="1.0" />
<line x1="1229" y1="1116.5" x2="1237.3" y2="1116.5" stroke="#000" stroke-width="1.0" />
<line x1="1683" y1="1116.5" x2="1674.7" y2="1116.5" stroke="#000" stroke-width="1.0" />
<line x1="1229" y1="1051.5" x2="1237.3" y2="1051.5" stroke="#000" stroke-width="1.0" />
<line x1="1683" y1="1051.5" x2="1674.7" y2="1051.5" stroke="#000" stroke-width="1.0" />
<line x1="1229" y1="986.5" x2="1237.3" y2="986.5" stroke="#000" stroke-width="1.0" />
<line x1="1683" y1="986.5" x2="1674.7" y2="986.5" stroke="#000" stroke-width="1.0" />
<line x1="1229" y1="921.5" x2="1237.3" y2="921.5" stroke="#000" stroke-width="1.0" />
<line x1="1683" y1="921.5" x2="1674.7" y2="921.5" stroke="#000" stroke-width="1.0" />
<line x1="1229" y1="857.5" x2="1237.3" y2="857.5" stroke="#000" stroke-width="1.0" />
<line x1="1683" y1="857.5" x2="1674.7" y2="857.5" stroke="#000" stroke-width="1.0" />
<line x1="1229" y1="792.5" x2="1237.3" y2="792.5" stroke="#000" stroke-width="1.0" />
<line x1="1683" y1="792.5" x2="1674.7" y2="792.5" stroke="#000" stroke-width="1.0" />
<line x1="1229" y1="727.5" x2="1237.3" y2="727.5" stroke="#000" stroke-width="1.0" />
<line x1="1683" y1="727.5" x2="1674.7" y2="727.5" stroke="#000" stroke-width="1.0" />
<line x1="1229" y1="662.5" x2="1237.3" y2="662.5" stroke="#000" stroke-width="1.0" />
<line x1="1683" y1="662.5" x2="1674.7" y2="662.5" stroke="#000" stroke-width="1.0" />
<text x="1245.21" y="1136.3" font-size="17" text-anchor="middle" textLength="33.67" lengthAdjust="spacingAndGlyphs">−40</text>
<text x="1310.07" y="1136.3" font-size="17" text-anchor="middle" textLength="33.8" lengthAdjust="spacingAndGlyphs">−20</text>
<text x="1374.93" y="1136.3" font-size="17" text-anchor="middle" textLength="9.3" lengthAdjust="spacingAndGlyphs">0</text>
<text x="1439.79" y="1136.3" font-size="17" text-anchor="middle" textLength="19.93" lengthAdjust="spacingAndGlyphs">20</text>
<text x="1504.64" y="1136.3" font-size="17" text-anchor="middle" textLength="19.8" lengthAdjust="spacingAndGlyphs">40</text>
<text x="1569.5" y="1136.3" font-size="17" text-anchor="middle" textLength="19.8" lengthAdjust="spacingAndGlyphs">60</text>
<text x="1634.36" y="1136.3" font-size="17" text-anchor="middle" textLength="19.8" lengthAdjust="spacingAndGlyphs">80</text>
<text x="1219.3" y="1121" font-size="17" text-anchor="end" textLength="33.8" lengthAdjust="spacingAndGlyphs">−20</text>
<text x="1219.3" y="1056.14" font-size="17" text-anchor="end" textLength="9.3" lengthAdjust="spacingAndGlyphs">0</text>
<text x="1219.3" y="991.29" font-size="17" text-anchor="end" textLength="19.93" lengthAdjust="spacingAndGlyphs">20</text>
<text x="1219.3" y="926.43" font-size="17" text-anchor="end" textLength="19.8" lengthAdjust="spacingAndGlyphs">40</text>
<text x="1219.3" y="861.57" font-size="17" text-anchor="end" textLength="19.8" lengthAdjust="spacingAndGlyphs">60</text>
<text x="1219.3" y="796.71" font-size="17" text-anchor="end" textLength="19.8" lengthAdjust="spacingAndGlyphs">80</text>
<text x="1219.3" y="731.86" font-size="17" text-anchor="end" textLength="30.43" lengthAdjust="spacingAndGlyphs">100</text>
<text x="1219.3" y="667" font-size="17" text-anchor="end" textLength="30.55" lengthAdjust="spacingAndGlyphs">120</text>
<text x="1456" y="1163.2" font-size="17.2" text-anchor="middle" textLength="75.25" lengthAdjust="spacingAndGlyphs">V3(km/s)</text>
<text x="1173" y="891" font-size="17.2" text-anchor="middle" textLength="75.25" lengthAdjust="spacingAndGlyphs" transform="rotate(-90 1173 891)">V1(km/s)</text>
<line x1="199.5" y1="1527" x2="199.5" y2="1518.7" stroke="#000" stroke-width="1.0" />
<line x1="199.5" y1="1305" x2="199.5" y2="1313.3" stroke="#000" stroke-width="1.0" />
<line x1="405.5" y1="1527" x2="405.5" y2="1518.7" stroke="#000" stroke-width="1.0" />
<line x1="405.5" y1="1305" x2="405.5" y2="1313.3" stroke="#000" stroke-width="1.0" />
<line x1="612.5" y1="1527" x2="612.5" y2="1518.7" stroke="#000" stroke-width="1.0" />
<line x1="612.5" y1="1305" x2="612.5" y2="1313.3" stroke="#000" stroke-width="1.0" />
<line x1="818.5" y1="1527" x2="818.5" y2="1518.7" stroke="#000" stroke-width="1.0" />
<line x1="818.5" y1="1305" x2="818.5" y2="1313.3" stroke="#000" stroke-width="1.0" />
<line x1="1024.5" y1="1527" x2="1024.5" y2="1518.7" stroke="#000" stroke-width="1.0" />
<line x1="1024.5" y1="1305" x2="1024.5" y2="1313.3" stroke="#000" stroke-width="1.0" />
<line x1="1230.5" y1="1527" x2="1230.5" y2="1518.7" stroke="#000" stroke-width="1.0" />
<line x1="1230.5" y1="1305" x2="1230.5" y2="1313.3" stroke="#000" stroke-width="1.0" />
<line x1="1436.5" y1="1527" x2="1436.5" y2="1518.7" stroke="#000" stroke-width="1.0" />
<line x1="1436.5" y1="1305" x2="1436.5" y2="1313.3" stroke="#000" stroke-width="1.0" />
<line x1="1642.5" y1="1527" x2="1642.5" y2="1518.7" stroke="#000" stroke-width="1.0" />
<line x1="1642.5" y1="1305" x2="1642.5" y2="1313.3" stroke="#000" stroke-width="1.0" />
<line x1="117" y1="1527.5" x2="125.3" y2="1527.5" stroke="#000" stroke-width="1.0" />
<line x1="1683" y1="1527.5" x2="1674.7" y2="1527.5" stroke="#000" stroke-width="1.0" />
<line x1="117" y1="1495.5" x2="125.3" y2="1495.5" stroke="#000" stroke-width="1.0" />
<line x1="1683" y1="1495.5" x2="1674.7" y2="1495.5" stroke="#000" stroke-width="1.0" />
<line x1="117" y1="1464.5" x2="125.3" y2="1464.5" stroke="#000" stroke-width="1.0" />
<line x1="1683" y1="1464.5" x2="1674.7" y2="1464.5" stroke="#000" stroke-width="1.0" />
<line x1="117" y1="1432.5" x2="125.3" y2="1432.5" stroke="#000" stroke-width="1.0" />
<line x1="1683" y1="1432.5" x2="1674.7" y2="1432.5" stroke="#000" stroke-width="1.0" />
<line x1="117" y1="1400.5" x2="125.3" y2="1400.5" stroke="#000" stroke-width="1.0" />
<line x1="1683" y1="1400.5" x2="1674.7" y2="1400.5" stroke="#000" stroke-width="1.0" />
<line x1="117" y1="1368.5" x2="125.3" y2="1368.5" stroke="#000" stroke-width="1.0" />
<line x1="1683" y1="1368.5" x2="1674.7" y2="1368.5" stroke="#000" stroke-width="1.0" />
<line x1="117" y1="1337.5" x2="125.3" y2="1337.5" stroke="#000" stroke-width="1.0" />
<line x1="1683" y1="1337.5" x2="1674.7" y2="1337.5" stroke="#000" stroke-width="1.0" />
<line x1="117" y1="1305.5" x2="125.3" y2="1305.5" stroke="#000" stroke-width="1.0" />
<line x1="1683" y1="1305.5" x2="1674.7" y2="1305.5" stroke="#000" stroke-width="1.0" />
<text x="199.42" y="1547.8" font-size="17" text-anchor="middle" textLength="126.55" lengthAdjust="spacingAndGlyphs">08/28 07:25:43</text>
<text x="405.47" y="1547.8" font-size="17" text-anchor="middle" textLength="126.55" lengthAdjust="spacingAndGlyphs">08/28 07:25:53</text>
<text x="611.53" y="1547.8" font-size="17" text-anchor="middle" textLength="126.55" lengthAdjust="spacingAndGlyphs">08/28 07:26:03</text>
<text x="817.58" y="1547.8" font-size="17" text-anchor="middle" textLength="126.67" lengthAdjust="spacingAndGlyphs">08/28 07:26:13</text>
<text x="1023.63" y="1547.8" font-size="17" text-anchor="middle" textLength="126.67" lengthAdjust="spacingAndGlyphs">08/28 07:26:23</text>
<text x="1229.68" y="1547.8" font-size="17" text-anchor="middle" textLength="126.67" lengthAdjust="spacingAndGlyphs">08/28 07:26:33</text>
<text x="1435.74" y="1547.8" font-size="17" text-anchor="middle" textLength="126.55" lengthAdjust="spacingAndGlyphs">08/28 07:26:43</text>
<text x="1641.79" y="1547.8" font-size="17" text-anchor="middle" textLength="126.55" lengthAdjust="spacingAndGlyphs">08/28 07:26:53</text>
<text x="107.3" y="1532" font-size="17" text-anchor="end" textLength="33.67" lengthAdjust="spacingAndGlyphs">−50</text>
<text x="107.3" y="1500.29" font-size="17" text-anchor="end" textLength="33.67" lengthAdjust="spacingAndGlyphs">−40</text>
<text x="107.3" y="1468.57" font-size="17" text-anchor="end" textLength="33.8" lengthAdjust="spacingAndGlyphs">−30</text>
<text x="107.3" y="1436.86" font-size="17" text-anchor="end" textLength="33.8" lengthAdjust="spacingAndGlyphs">−20</text>
<text x="107.3" y="1405.14" font-size="17" text-anchor="end" textLength="33.8" lengthAdjust="spacingAndGlyphs">−10</text>
<text x="107.3" y="1373.43" font-size="17" text-anchor="end" textLength="9.3" lengthAdjust="spacingAndGlyphs">0</text>
<text x="107.3" y="1341.71" font-size="17" text-anchor="end" textLength="19.93" lengthAdjust="spacingAndGlyphs">10</text>
<text x="107.3" y="1310" font-size="17" text-anchor="end" textLength="19.93" lengthAdjust="spacingAndGlyphs">20</text>
<text x="900" y="1295.2" font-size="24.2" text-anchor="middle" textLength="319.4" lengthAdjust="spacingAndGlyphs">Magnetic Field (RTN Frame)</text>
<line x1="117" y1="1369.5" x2="1683" y2="1369.5" stroke="#000" stroke-width="1.0" stroke-dasharray="12.5 12.5"/>
<polyline points="117,1457.85 137.61,1454.72 158.22,1442.97 178.83,1468.03 199.44,1468.81 220.05,1469.2 240.66,1467.25 261.27,1466.46 281.88,1466.85 302.49,1468.42 323.1,1478.99 343.71,1486.82 364.32,1462.16 384.93,1464.5 405.54,1462.55 426.15,1469.59 446.76,1467.64 467.37,1475.86 487.98,1493.86 508.59,1495.04 529.2,1495.82 549.81,1495.04 570.42,1492.3 591.03,1491.91 611.64,1494.26 632.25,1493.08 652.86,1492.89 673.47,1492.3 694.08,1492.69 714.69,1493.47 735.3,1487.99 755.91,1489.95 776.52,1497.78 797.13,1498.17 817.74,1498.56 838.35,1496.21 858.96,1498.95 879.57,1501.69 900.18,1501.69 920.79,1502.48 941.4,1502.87 962.01,1502.87 982.62,1495.04 1003.23,1496.21 1023.84,1493.47 1044.45,1493.86 1065.06,1495.04 1085.67,1489.95 1106.28,1489.95 1126.89,1495.04 1147.5,1496.21 1168.11,1497.78 1188.72,1497 1209.33,1497 1229.94,1492.69 1250.55,1492.69 1271.16,1494.65 1291.77,1497.39 1312.38,1499.74 1332.99,1498.56 1353.6,1498.56 1374.21,1498.17 1394.82,1497 1415.43,1497 1436.04,1496.21 1456.65,1496.61 1477.26,1495.82 1497.87,1497 1518.48,1496.61 1539.09,1497.78 1559.7,1493.47 1580.31,1489.56 1600.92,1493.86 1621.53,1494.65 1642.14,1496.61 1662.75,1494.65 1683.36,1487.21" fill="none" stroke="#ff0000" stroke-width="2.0" stroke-linejoin="round" />
<polyline points="117,1362.72 137.61,1366.64 158.22,1357.63 178.83,1375.25 199.44,1386.99 220.05,1395.61 240.66,1401.48 261.27,1402.65 281.88,1403.83 302.49,1408.53 323.1,1408.13 343.71,1411.66 364.32,1411.66 384.93,1423.4 405.54,1422.62 426.15,1433.19 446.76,1431.23 467.37,1426.92 487.98,1433.97 508.59,1433.97 529.2,1435.14 549.81,1438.67 570.42,1438.67 591.03,1436.71 611.64,1437.49 632.25,1438.67 652.86,1439.06 673.47,1437.1 694.08,1436.71 714.69,1434.36 735.3,1439.45 755.91,1434.75 776.52,1431.23 797.13,1432.01 817.74,1432.01 838.35,1435.54 858.96,1436.32 879.57,1435.14 900.18,1430.84 920.79,1430.45 941.4,1428.88 962.01,1430.45 982.62,1427.32 1003.23,1425.75 1023.84,1424.97 1044.45,1430.45 1065.06,1430.06 1085.67,1437.89 1106.28,1441.02 1126.89,1434.36 1147.5,1435.14 1168.11,1439.84 1188.72,1437.69 1209.33,1437.49 1229.94,1439.84 1250.55,1440.63 1271.16,1441.02 1291.77,1441.02 1312.38,1439.84 1332.99,1442.19 1353.6,1441.41 1374.21,1444.15 1394.82,1444.15 1415.43,1445.32 1436.04,1447.67 1456.65,1448.06 1477.26,1446.89 1497.87,1442.97 1518.48,1443.76 1539.09,1444.15 1559.7,1447.28 1580.31,1450.02 1600.92,1447.28 1621.53,1449.63 1642.14,1448.45 1662.75,1445.32 1683.36,1439.06" fill="none" stroke="#008000" stroke-width="2.0" stroke-linejoin="round" />
<polyline points="117,1432.01 137.61,1433.97 158.22,1442.97 178.83,1405.78 199.44,1400.7 220.05,1385.82 240.66,1376.42 261.27,1375.25 281.88,1376.03 302.49,1375.64 323.1,1371.34 343.71,1371.34 364.32,1345.11 384.93,1328.27 405.54,1343.93 426.15,1328.27 446.76,1326.32 467.37,1338.06 487.98,1342.76 508.59,1340.02 529.2,1338.06 549.81,1335.32 570.42,1330.23 591.03,1319.66 611.64,1324.75 632.25,1318.1 652.86,1320.64 673.47,1314.57 694.08,1313.01 714.69,1318.88 735.3,1318.88 755.91,1324.36 776.52,1331.01 797.13,1333.76 817.74,1334.15 838.35,1332.19 858.96,1332.97 879.57,1336.89 900.18,1341.19 920.79,1347.06 941.4,1343.93 962.01,1344.72 982.62,1345.11 1003.23,1343.93 1023.84,1343.54 1044.45,1338.45 1065.06,1342.37 1085.67,1331.8 1106.28,1330.62 1126.89,1334.15 1147.5,1334.93 1168.11,1329.45 1188.72,1329.06 1209.33,1331.41 1229.94,1331.41 1250.55,1330.23 1271.16,1328.27 1291.77,1332.19 1312.38,1331.8 1332.99,1331.8 1353.6,1333.36 1374.21,1332.19 1394.82,1334.15 1415.43,1335.32 1436.04,1336.5 1456.65,1332.58 1477.26,1334.54 1497.87,1336.89 1518.48,1336.89 1539.09,1339.24 1559.7,1333.36 1580.31,1329.84 1600.92,1332.19 1621.53,1331.41 1642.14,1331.41 1662.75,1338.06 1683.36,1345.89" fill="none" stroke="#0000ff" stroke-width="2.0" stroke-linejoin="round" />
<line x1="199.5" y1="1861" x2="199.5" y2="1852.7" stroke="#000" stroke-width="1.0" />
<line x1="199.5" y1="1639" x2="199.5" y2="1647.3" stroke="#000" stroke-width="1.0" />
<line x1="405.5" y1="1861" x2="405.5" y2="1852.7" stroke="#000" stroke-width="1.0" />
<line x1="405.5" y1="1639" x2="405.5" y2="1647.3" stroke="#000" stroke-width="1.0" />
<line x1="612.5" y1="1861" x2="612.5" y2="1852.7" stroke="#000" stroke-width="1.0" />
<line x1="612.5" y1="1639" x2="612.5" y2="1647.3" stroke="#000" stroke-width="1.0" />
<line x1="818.5" y1="1861" x2="818.5" y2="1852.7" stroke="#000" stroke-width="1.0" />
<line x1="818.5" y1="1639" x2="818.5" y2="1647.3" stroke="#000" stroke-width="1.0" />
<line x1="1024.5" y1="1861" x2="1024.5" y2="1852.7" stroke="#000" stroke-width="1.0" />
<line x1="1024.5" y1="1639" x2="1024.5" y2="1647.3" stroke="#000" stroke-width="1.0" />
<line x1="1230.5" y1="1861" x2="1230.5" y2="1852.7" stroke="#000" stroke-width="1.0" />
<line x1="1230.5" y1="1639" x2="1230.5" y2="1647.3" stroke="#000" stroke-width="1.0" />
<line x1="1436.5" y1="1861" x2="1436.5" y2="1852.7" stroke="#000" stroke-width="1.0" />
<line x1="1436.5" y1="1639" x2="1436.5" y2="1647.3" stroke="#000" stroke-width="1.0" />
<line x1="1642.5" y1="1861" x2="1642.5" y2="1852.7" stroke="#000" stroke-width="1.0" />
<line x1="1642.5" y1="1639" x2="1642.5" y2="1647.3" stroke="#000" stroke-width="1.0" />
<line x1="117" y1="1861.5" x2="125.3" y2="1861.5" stroke="#000" stroke-width="1.0" />
<line x1="1683" y1="1861.5" x2="1674.7" y2="1861.5" stroke="#000" stroke-width="1.0" />
<line x1="117" y1="1829.5" x2="125.3" y2="1829.5" stroke="#000" stroke-width="1.0" />
<line x1="1683" y1="1829.5" x2="1674.7" y2="1829.5" stroke="#000" stroke-width="1.0" />
<line x1="117" y1="1798.5" x2="125.3" y2="1798.5" stroke="#000" stroke-width="1.0" />
<line x1="1683" y1="1798.5" x2="1674.7" y2="1798.5" stroke="#000" stroke-width="1.0" />
<line x1="117" y1="1766.5" x2="125.3" y2="1766.5" stroke="#000" stroke-width="1.0" />
<line x1="1683" y1="1766.5" x2="1674.7" y2="1766.5" stroke="#000" stroke-width="1.0" />
<line x1="117" y1="1734.5" x2="125.3" y2="1734.5" stroke="#000" stroke-width="1.0" />
<line x1="1683" y1="1734.5" x2="1674.7" y2="1734.5" stroke="#000" stroke-width="1.0" />
<line x1="117" y1="1702.5" x2="125.3" y2="1702.5" stroke="#000" stroke-width="1.0" />
<line x1="1683" y1="1702.5" x2="1674.7" y2="1702.5" stroke="#000" stroke-width="1.0" />
<line x1="117" y1="1671.5" x2="125.3" y2="1671.5" stroke="#000" stroke-width="1.0" />
<line x1="1683" y1="1671.5" x2="1674.7" y2="1671.5" stroke="#000" stroke-width="1.0" />
<line x1="117" y1="1639.5" x2="125.3" y2="1639.5" stroke="#000" stroke-width="1.0" />
<line x1="1683" y1="1639.5" x2="1674.7" y2="1639.5" stroke="#000" stroke-width="1.0" />
<text x="199.42" y="1881.8" font-size="17" text-anchor="middle" textLength="126.55" lengthAdjust="spacingAndGlyphs">08/28 07:25:43</text>
<text x="405.47" y="1881.8" font-size="17" text-anchor="middle" textLength="126.55" lengthAdjust="spacingAndGlyphs">08/28 07:25:53</text>
<text x="611.53" y="1881.8" font-size="17" text-anchor="middle" textLength="126.55" lengthAdjust="spacingAndGlyphs">08/28 07:26:03</text>
<text x="817.58" y="1881.8" font-size="17" text-anchor="middle" textLength="126.67" lengthAdjust="spacingAndGlyphs">08/28 07:26:13</text>
<text x="1023.63" y="1881.8" font-size="17" text-anchor="middle" textLength="126.67" lengthAdjust="spacingAndGlyphs">08/28 07:26:23</text>
<text x="1229.68" y="1881.8" font-size="17" text-anchor="middle" textLength="126.67" lengthAdjust="spacingAndGlyphs">08/28 07:26:33</text>
<text x="1435.74" y="1881.8" font-size="17" text-anchor="middle" textLength="126.55" lengthAdjust="spacingAndGlyphs">08/28 07:26:43</text>
<text x="1641.79" y="1881.8" font-size="17" text-anchor="middle" textLength="126.55" lengthAdjust="spacingAndGlyphs">08/28 07:26:53</text>
<text x="107.3" y="1866" font-size="17" text-anchor="end" textLength="33.8" lengthAdjust="spacingAndGlyphs">−20</text>
<text x="107.3" y="1834.29" font-size="17" text-anchor="end" textLength="33.8" lengthAdjust="spacingAndGlyphs">−10</text>
<text x="107.3" y="1802.57" font-size="17" text-anchor="end" textLength="9.3" lengthAdjust="spacingAndGlyphs">0</text>
<text x="107.3" y="1770.86" font-size="17" text-anchor="end" textLength="19.93" lengthAdjust="spacingAndGlyphs">10</text>
<text x="107.3" y="1739.14" font-size="17" text-anchor="end" textLength="19.93" lengthAdjust="spacingAndGlyphs">20</text>
<text x="107.3" y="1707.43" font-size="17" text-anchor="end" textLength="19.93" lengthAdjust="spacingAndGlyphs">30</text>
<text x="107.3" y="1675.71" font-size="17" text-anchor="end" textLength="19.8" lengthAdjust="spacingAndGlyphs">40</text>
<text x="107.3" y="1644" font-size="17" text-anchor="end" textLength="19.8" lengthAdjust="spacingAndGlyphs">50</text>
<text x="900" y="1629.2" font-size="24.2" text-anchor="middle" textLength="386.3" lengthAdjust="spacingAndGlyphs">Magnetic Field (Flux Rope Frame)</text>
<line x1="117" y1="1798.5" x2="1683" y2="1798.5" stroke="#000" stroke-width="1.0" stroke-dasharray="12.5 12.5"/>
<polyline points="117,1714.12 137.61,1716.86 158.22,1730.96 178.83,1700.42 199.44,1697.68 220.05,1694.94 240.66,1694.94 261.27,1695.33 281.88,1694.94 302.49,1692.59 323.1,1681.63 343.71,1674.19 364.32,1696.51 384.93,1690.63 405.54,1694.55 426.15,1684.76 446.76,1686.33 467.37,1680.06 487.98,1661.27 508.59,1660.1 529.2,1659.32 549.81,1659.32 570.42,1661.27 591.03,1661.27 611.64,1659.32 632.25,1659.32 652.86,1660.1 673.47,1660.88 694.08,1660.1 714.69,1660.1 735.3,1665.19 755.91,1663.62 776.52,1656.97 797.13,1656.58 817.74,1656.58 838.35,1658.93 858.96,1655.4 879.57,1653.45 900.18,1654.23 920.79,1654.23 941.4,1653.84 962.01,1653.45 982.62,1662.06 1003.23,1661.27 1023.84,1663.62 1044.45,1662.45 1065.06,1661.67 1085.67,1664.01 1106.28,1663.62 1126.89,1660.49 1147.5,1658.93 1168.11,1655.79 1188.72,1656.97 1209.33,1661.27 1229.94,1661.27 1250.55,1659.32 1271.16,1656.58 1291.77,1655.4 1312.38,1654.23 1332.99,1655.01 1353.6,1655.01 1374.21,1655.01 1394.82,1656.58 1415.43,1656.58 1436.04,1656.97 1456.65,1656.19 1477.26,1657.36 1497.87,1656.97 1518.48,1657.36 1539.09,1656.19 1559.7,1659.32 1580.31,1662.84 1600.92,1658.53 1621.53,1656.19 1642.14,1656.97 1662.75,1661.27 1683.36,1667.15" fill="none" stroke="#ff0000" stroke-width="2.0" stroke-linejoin="round" />
<polyline points="117,1736.83 137.61,1734.09 158.22,1728.61 178.83,1757.58 199.44,1757.97 220.05,1769.32 240.66,1775.58 261.27,1776.37 281.88,1775.58 302.49,1774.41 323.1,1777.54 343.71,1776.76 364.32,1801.42 384.93,1813.16 405.54,1799.07 426.15,1809.64 446.76,1812.38 467.37,1802.2 487.98,1795.55 508.59,1797.9 529.2,1799.07 549.81,1800.64 570.42,1805.33 591.03,1815.9 611.64,1810.81 632.25,1816.69 652.86,1815.32 673.47,1814.73 694.08,1820.6 714.69,1822.17 735.3,1817.86 755.91,1816.3 776.52,1812.77 797.13,1807.68 817.74,1804.55 838.35,1804.16 858.96,1804.55 879.57,1803.77 900.18,1800.25 920.79,1797.5 941.4,1792.81 962.01,1796.33 982.62,1795.16 1003.23,1795.94 1023.84,1797.9 1044.45,1798.29 1065.06,1800.64 1085.67,1797.5 1106.28,1804.94 1126.89,1804.94 1147.5,1803.77 1168.11,1802.2 1188.72,1806.12 1209.33,1807.29 1229.94,1804.16 1250.55,1804.16 1271.16,1806.12 1291.77,1802.99 1312.38,1803.77 1332.99,1802.59 1353.6,1801.42 1374.21,1801.03 1394.82,1799.46 1415.43,1797.9 1436.04,1796.33 1456.65,1799.85 1477.26,1798.68 1497.87,1797.9 1518.48,1797.5 1539.09,1795.55 1559.7,1799.46 1580.31,1801.81 1600.92,1800.64 1621.53,1801.03 1642.14,1798.68 1662.75,1792.42 1683.36,1789.28" fill="none" stroke="#008000" stroke-width="2.0" stroke-linejoin="round" />
<polyline points="117,1838.61 137.61,1835.09 158.22,1844.09 178.83,1819.82 199.44,1807.29 220.05,1795.16 240.66,1785.37 261.27,1783.41 281.88,1783.02 302.49,1778.71 323.1,1779.11 343.71,1777.15 364.32,1764.23 384.93,1747.79 405.54,1753.27 426.15,1739.96 446.76,1740.74 467.37,1750.14 487.98,1748.18 508.59,1747.4 529.2,1745.44 549.81,1741.53 570.42,1739.57 591.03,1737.61 611.64,1738.78 632.25,1735.26 652.86,1735.65 673.47,1735.65 694.08,1734.87 714.69,1739.57 735.3,1733.7 755.91,1740.35 776.52,1747.4 797.13,1747.79 817.74,1748.18 838.35,1743.09 858.96,1743.48 879.57,1746.22 900.18,1752.09 920.79,1754.05 941.4,1754.83 962.01,1753.66 982.62,1754.83 1003.23,1756.01 1023.84,1756.4 1044.45,1750.14 1065.06,1752.09 1085.67,1740.35 1106.28,1737.22 1126.89,1744.66 1147.5,1744.66 1168.11,1739.18 1188.72,1740.74 1209.33,1739.57 1229.94,1738.78 1250.55,1738.39 1271.16,1737.61 1291.77,1738.78 1312.38,1740.35 1332.99,1738 1353.6,1739.18 1374.21,1736.04 1394.82,1736.04 1415.43,1735.65 1436.04,1733.3 1456.65,1732.13 1477.26,1733.7 1497.87,1738 1518.48,1737.61 1539.09,1738 1559.7,1732.13 1580.31,1728.22 1600.92,1732.91 1621.53,1735.65 1642.14,1736.83 1662.75,1739.18 1683.36,1744.27" fill="none" stroke="#0000ff" stroke-width="2.0" stroke-linejoin="round" />
<polyline points="117,1686.72 137.61,1688.68 158.22,1690.63 178.83,1690.24 199.44,1689.85 220.05,1691.03 240.66,1692.2 261.27,1692.2 281.88,1691.81 302.49,1688.68 323.1,1678.89 343.71,1671.06 364.32,1690.63 384.93,1678.89 405.54,1685.55 426.15,1670.28 446.76,1671.84 467.37,1671.45 487.98,1652.66 508.59,1651.49 529.2,1650.31 549.81,1648.75 570.42,1649.53 591.03,1647.57 611.64,1646.79 632.25,1645.22 652.86,1645.62 673.47,1645.62 694.08,1644.44 714.69,1646.79 735.3,1649.14 755.91,1651.49 776.52,1647.96 797.13,1647.96 817.74,1647.96 838.35,1647.96 858.96,1645.62 879.57,1644.44 900.18,1647.18 920.79,1647.57 941.4,1647.57 962.01,1646.79 982.62,1655.4 1003.23,1655.4 1023.84,1657.75 1044.45,1654.23 1065.06,1653.84 1085.67,1651.88 1106.28,1649.92 1126.89,1649.92 1147.5,1648.75 1168.11,1644.05 1188.72,1646.01 1209.33,1649.53 1229.94,1649.14 1250.55,1646.79 1271.16,1644.44 1291.77,1643.66 1312.38,1642.88 1332.99,1642.88 1353.6,1643.66 1374.21,1642.48 1394.82,1644.05 1415.43,1643.66 1436.04,1642.88 1456.65,1641.7 1477.26,1643.27 1497.87,1644.83 1518.48,1644.83 1539.09,1644.44 1559.7,1644.83 1580.31,1646.01 1600.92,1644.44 1621.53,1642.48 1642.14,1642.48 1662.75,1649.53 1683.36,1656.58" fill="none" stroke="#000000" stroke-width="2.0" stroke-linejoin="round" />
<line x1="199.5" y1="2194" x2="199.5" y2="2185.7" stroke="#000" stroke-width="1.0" />
<line x1="199.5" y1="1972" x2="199.5" y2="1980.3" stroke="#000" stroke-width="1.0" />
<line x1="405.5" y1="2194" x2="405.5" y2="2185.7" stroke="#000" stroke-width="1.0" />
<line x1="405.5" y1="1972" x2="405.5" y2="1980.3" stroke="#000" stroke-width="1.0" />
<line x1="612.5" y1="2194" x2="612.5" y2="2185.7" stroke="#000" stroke-width="1.0" />
<line x1="612.5" y1="1972" x2="612.5" y2="1980.3" stroke="#000" stroke-width="1.0" />
<line x1="818.5" y1="2194" x2="818.5" y2="2185.7" stroke="#000" stroke-width="1.0" />
<line x1="818.5" y1="1972" x2="818.5" y2="1980.3" stroke="#000" stroke-width="1.0" />
<line x1="1024.5" y1="2194" x2="1024.5" y2="2185.7" stroke="#000" stroke-width="1.0" />
<line x1="1024.5" y1="1972" x2="1024.5" y2="1980.3" stroke="#000" stroke-width="1.0" />
<line x1="1230.5" y1="2194" x2="1230.5" y2="2185.7" stroke="#000" stroke-width="1.0" />
<line x1="1230.5" y1="1972" x2="1230.5" y2="1980.3" stroke="#000" stroke-width="1.0" />
<line x1="1436.5" y1="2194" x2="1436.5" y2="2185.7" stroke="#000" stroke-width="1.0" />
<line x1="1436.5" y1="1972" x2="1436.5" y2="1980.3" stroke="#000" stroke-width="1.0" />
<line x1="1642.5" y1="2194" x2="1642.5" y2="2185.7" stroke="#000" stroke-width="1.0" />
<line x1="1642.5" y1="1972" x2="1642.5" y2="1980.3" stroke="#000" stroke-width="1.0" />
<line x1="117" y1="2194.5" x2="125.3" y2="2194.5" stroke="#000" stroke-width="1.0" />
<line x1="1683" y1="2194.5" x2="1674.7" y2="2194.5" stroke="#000" stroke-width="1.0" />
<line x1="117" y1="2157.5" x2="125.3" y2="2157.5" stroke="#000" stroke-width="1.0" />
<line x1="1683" y1="2157.5" x2="1674.7" y2="2157.5" stroke="#000" stroke-width="1.0" />
<line x1="117" y1="2120.5" x2="125.3" y2="2120.5" stroke="#000" stroke-width="1.0" />
<line x1="1683" y1="2120.5" x2="1674.7" y2="2120.5" stroke="#000" stroke-width="1.0" />
<line x1="117" y1="2083.5" x2="125.3" y2="2083.5" stroke="#000" stroke-width="1.0" />
<line x1="1683" y1="2083.5" x2="1674.7" y2="2083.5" stroke="#000" stroke-width="1.0" />
<line x1="117" y1="2046.5" x2="125.3" y2="2046.5" stroke="#000" stroke-width="1.0" />
<line x1="1683" y1="2046.5" x2="1674.7" y2="2046.5" stroke="#000" stroke-width="1.0" />
<line x1="117" y1="2009.5" x2="125.3" y2="2009.5" stroke="#000" stroke-width="1.0" />
<line x1="1683" y1="2009.5" x2="1674.7" y2="2009.5" stroke="#000" stroke-width="1.0" />
<line x1="117" y1="1972.5" x2="125.3" y2="1972.5" stroke="#000" stroke-width="1.0" />
<line x1="1683" y1="1972.5" x2="1674.7" y2="1972.5" stroke="#000" stroke-width="1.0" />
<text x="199.42" y="2214.8" font-size="17" text-anchor="middle" textLength="126.55" lengthAdjust="spacingAndGlyphs">08/28 07:25:43</text>
<text x="405.47" y="2214.8" font-size="17" text-anchor="middle" textLength="126.55" lengthAdjust="spacingAndGlyphs">08/28 07:25:53</text>
<text x="611.53" y="2214.8" font-size="17" text-anchor="middle" textLength="126.55" lengthAdjust="spacingAndGlyphs">08/28 07:26:03</text>
<text x="817.58" y="2214.8" font-size="17" text-anchor="middle" textLength="126.67" lengthAdjust="spacingAndGlyphs">08/28 07:26:13</text>
<text x="1023.63" y="2214.8" font-size="17" text-anchor="middle" textLength="126.67" lengthAdjust="spacingAndGlyphs">08/28 07:26:23</text>
<text x="1229.68" y="2214.8" font-size="17" text-anchor="middle" textLength="126.67" lengthAdjust="spacingAndGlyphs">08/28 07:26:33</text>
<text x="1435.74" y="2214.8" font-size="17" text-anchor="middle" textLength="126.55" lengthAdjust="spacingAndGlyphs">08/28 07:26:43</text>
<text x="1641.79" y="2214.8" font-size="17" text-anchor="middle" textLength="126.55" lengthAdjust="spacingAndGlyphs">08/28 07:26:53</text>
<text x="107.3" y="2199" font-size="17" text-anchor="end" textLength="44.3" lengthAdjust="spacingAndGlyphs">−200</text>
<text x="107.3" y="2162" font-size="17" text-anchor="end" textLength="44.3" lengthAdjust="spacingAndGlyphs">−100</text>
<text x="107.3" y="2125" font-size="17" text-anchor="end" textLength="9.3" lengthAdjust="spacingAndGlyphs">0</text>
<text x="107.3" y="2088" font-size="17" text-anchor="end" textLength="30.43" lengthAdjust="spacingAndGlyphs">100</text>
<text x="107.3" y="2051" font-size="17" text-anchor="end" textLength="30.43" lengthAdjust="spacingAndGlyphs">200</text>
<text x="107.3" y="2014" font-size="17" text-anchor="end" textLength="30.43" lengthAdjust="spacingAndGlyphs">300</text>
<text x="107.3" y="1977" font-size="17" text-anchor="end" textLength="30.3" lengthAdjust="spacingAndGlyphs">400</text>
<text x="900" y="1962.2" font-size="24.2" text-anchor="middle" textLength="374.9" lengthAdjust="spacingAndGlyphs">Solar Wind Velocity (RTN Frame)</text>
<polyline points="117,1981.57 137.61,1979.62 158.22,1984.71 178.83,1984.31 199.44,1983.92 220.05,1986.66 240.66,1986.27 261.27,1989.01 281.88,1987.45 302.49,1985.88 323.1,1984.31 343.71,1986.27 364.32,1983.53 384.93,1980.4 405.54,1979.22 426.15,1977.66 446.76,1985.1 467.37,1979.22 487.98,1978.05 508.59,1978.05 529.2,1979.22 549.81,1978.44 570.42,1977.66 591.03,1977.66 611.64,1975.7 632.25,1976.09 652.86,1976.88 673.47,1976.48 694.08,1977.66 714.69,1976.48 735.3,1977.66 755.91,1979.62 776.52,1980.4 797.13,1981.57 817.74,1979.62 838.35,1980.4 858.96,1980.4 879.57,1980.01 900.18,1981.57 920.79,1981.57 941.4,1980.79 962.01,1981.57 982.62,1981.18 1003.23,1980.01 1023.84,1981.18 1044.45,1978.83 1065.06,1979.22 1085.67,1979.62 1106.28,1980.01 1126.89,1979.62 1147.5,1980.01 1168.11,1978.83 1188.72,1978.44 1209.33,1981.18 1229.94,1979.62 1250.55,1979.62 1271.16,1980.01 1291.77,1979.62 1312.38,1978.83 1332.99,1978.83 1353.6,1978.83 1374.21,1979.22 1394.82,1979.22 1415.43,1978.44 1436.04,1979.22 1456.65,1980.01 1477.26,1980.01 1497.87,1979.62 1518.48,1980.01 1539.09,1979.22 1559.7,1978.44 1580.31,1978.05 1600.92,1978.05 1621.53,1978.44 1642.14,1978.44 1662.75,1978.05 1683.36,1977.66" fill="none" stroke="#ff0000" stroke-width="2.0" stroke-linejoin="round" />
<polyline points="117,2176.52 137.61,2153.82 158.22,2168.3 178.83,2165.17 199.44,2162.43 220.05,2170.26 240.66,2176.13 261.27,2160.47 281.88,2174.96 302.49,2189.05 323.1,2164 343.71,2171.43 364.32,2174.57 384.93,2169.87 405.54,2168.69 426.15,2167.13 446.76,2171.83 467.37,2160.86 487.98,2158.52 508.59,2156.56 529.2,2157.34 549.81,2159.69 570.42,2160.47 591.03,2162.04 611.64,2162.04 632.25,2162.43 652.86,2157.54 673.47,2155.38 694.08,2157.73 714.69,2157.73 735.3,2153.43 755.91,2155.78 776.52,2155.38 797.13,2153.82 817.74,2153.82 838.35,2154.6 858.96,2155.38 879.57,2158.12 900.18,2155.78 920.79,2154.21 941.4,2155.38 962.01,2154.99 982.62,2153.82 1003.23,2154.21 1023.84,2151.08 1044.45,2155.38 1065.06,2156.56 1085.67,2158.52 1106.28,2155.38 1126.89,2154.99 1147.5,2156.56 1168.11,2156.95 1188.72,2157.54 1209.33,2158.52 1229.94,2154.99 1250.55,2156.95 1271.16,2155.78 1291.77,2156.56 1312.38,2154.6 1332.99,2155.78 1353.6,2156.17 1374.21,2156.17 1394.82,2156.95 1415.43,2157.73 1436.04,2155.78 1456.65,2156.95 1477.26,2159.3 1497.87,2158.12 1518.48,2156.95 1539.09,2156.56 1559.7,2158.91 1580.31,2156.17 1600.92,2156.95 1621.53,2156.56 1642.14,2156.17 1662.75,2156.95 1683.36,2159.3" fill="none" stroke="#008000" stroke-width="2.0" stroke-linejoin="round" />
<polyline points="117,2130.33 137.61,2121.33 158.22,2117.41 178.83,2114.67 199.44,2112.32 220.05,2113.5 240.66,2103.32 261.27,2109.58 281.88,2105.28 302.49,2101.36 323.1,2103.71 343.71,2095.1 364.32,2096.66 384.93,2098.62 405.54,2097.84 426.15,2097.06 446.76,2096.66 467.37,2106.06 487.98,2109.19 508.59,2108.41 529.2,2109.19 549.81,2107.63 570.42,2107.23 591.03,2106.06 611.64,2103.71 632.25,2100.97 652.86,2099.8 673.47,2099.4 694.08,2102.14 714.69,2103.32 735.3,2105.28 755.91,2108.02 776.52,2108.8 797.13,2108.41 817.74,2109.97 838.35,2107.23 858.96,2109.19 879.57,2109.19 900.18,2113.11 920.79,2109.97 941.4,2110.76 962.01,2113.5 982.62,2111.15 1003.23,2109.58 1023.84,2109.19 1044.45,2110.37 1065.06,2111.15 1085.67,2111.54 1106.28,2111.15 1126.89,2111.15 1147.5,2110.76 1168.11,2109.97 1188.72,2108.8 1209.33,2108.8 1229.94,2111.15 1250.55,2110.76 1271.16,2110.76 1291.77,2109.97 1312.38,2110.76 1332.99,2109.19 1353.6,2110.76 1374.21,2110.37 1394.82,2112.32 1415.43,2112.32 1436.04,2109.97 1456.65,2112.32 1477.26,2112.32 1497.87,2113.11 1518.48,2112.32 1539.09,2111.93 1559.7,2111.93 1580.31,2111.54 1600.92,2113.89 1621.53,2111.54 1642.14,2111.15 1662.75,2113.89 1683.36,2112.71" fill="none" stroke="#0000ff" stroke-width="2.0" stroke-linejoin="round" />
<line x1="199.5" y1="2528" x2="199.5" y2="2519.7" stroke="#000" stroke-width="1.0" />
<line x1="199.5" y1="2306" x2="199.5" y2="2314.3" stroke="#000" stroke-width="1.0" />
<line x1="405.5" y1="2528" x2="405.5" y2="2519.7" stroke="#000" stroke-width="1.0" />
<line x1="405.5" y1="2306" x2="405.5" y2="2314.3" stroke="#000" stroke-width="1.0" />
<line x1="612.5" y1="2528" x2="612.5" y2="2519.7" stroke="#000" stroke-width="1.0" />
<line x1="612.5" y1="2306" x2="612.5" y2="2314.3" stroke="#000" stroke-width="1.0" />
<line x1="818.5" y1="2528" x2="818.5" y2="2519.7" stroke="#000" stroke-width="1.0" />
<line x1="818.5" y1="2306" x2="818.5" y2="2314.3" stroke="#000" stroke-width="1.0" />
<line x1="1024.5" y1="2528" x2="1024.5" y2="2519.7" stroke="#000" stroke-width="1.0" />
<line x1="1024.5" y1="2306" x2="1024.5" y2="2314.3" stroke="#000" stroke-width="1.0" />
<line x1="1230.5" y1="2528" x2="1230.5" y2="2519.7" stroke="#000" stroke-width="1.0" />
<line x1="1230.5" y1="2306" x2="1230.5" y2="2314.3" stroke="#000" stroke-width="1.0" />
<line x1="1436.5" y1="2528" x2="1436.5" y2="2519.7" stroke="#000" stroke-width="1.0" />
<line x1="1436.5" y1="2306" x2="1436.5" y2="2314.3" stroke="#000" stroke-width="1.0" />
<line x1="1642.5" y1="2528" x2="1642.5" y2="2519.7" stroke="#000" stroke-width="1.0" />
<line x1="1642.5" y1="2306" x2="1642.5" y2="2314.3" stroke="#000" stroke-width="1.0" />
<line x1="117" y1="2528.5" x2="125.3" y2="2528.5" stroke="#000" stroke-width="1.0" />
<line x1="1683" y1="2528.5" x2="1674.7" y2="2528.5" stroke="#000" stroke-width="1.0" />
<line x1="117" y1="2484.5" x2="125.3" y2="2484.5" stroke="#000" stroke-width="1.0" />
<line x1="1683" y1="2484.5" x2="1674.7" y2="2484.5" stroke="#000" stroke-width="1.0" />
<line x1="117" y1="2439.5" x2="125.3" y2="2439.5" stroke="#000" stroke-width="1.0" />
<line x1="1683" y1="2439.5" x2="1674.7" y2="2439.5" stroke="#000" stroke-width="1.0" />
<line x1="117" y1="2395.5" x2="125.3" y2="2395.5" stroke="#000" stroke-width="1.0" />
<line x1="1683" y1="2395.5" x2="1674.7" y2="2395.5" stroke="#000" stroke-width="1.0" />
<line x1="117" y1="2350.5" x2="125.3" y2="2350.5" stroke="#000" stroke-width="1.0" />
<line x1="1683" y1="2350.5" x2="1674.7" y2="2350.5" stroke="#000" stroke-width="1.0" />
<line x1="117" y1="2306.5" x2="125.3" y2="2306.5" stroke="#000" stroke-width="1.0" />
<line x1="1683" y1="2306.5" x2="1674.7" y2="2306.5" stroke="#000" stroke-width="1.0" />
<text x="199.42" y="2548.8" font-size="17" text-anchor="middle" textLength="126.55" lengthAdjust="spacingAndGlyphs">08/28 07:25:43</text>
<text x="405.47" y="2548.8" font-size="17" text-anchor="middle" textLength="126.55" lengthAdjust="spacingAndGlyphs">08/28 07:25:53</text>
<text x="611.53" y="2548.8" font-size="17" text-anchor="middle" textLength="126.55" lengthAdjust="spacingAndGlyphs">08/28 07:26:03</text>
<text x="817.58" y="2548.8" font-size="17" text-anchor="middle" textLength="126.67" lengthAdjust="spacingAndGlyphs">08/28 07:26:13</text>
<text x="1023.63" y="2548.8" font-size="17" text-anchor="middle" textLength="126.67" lengthAdjust="spacingAndGlyphs">08/28 07:26:23</text>
<text x="1229.68" y="2548.8" font-size="17" text-anchor="middle" textLength="126.67" lengthAdjust="spacingAndGlyphs">08/28 07:26:33</text>
<text x="1435.74" y="2548.8" font-size="17" text-anchor="middle" textLength="126.55" lengthAdjust="spacingAndGlyphs">08/28 07:26:43</text>
<text x="1641.79" y="2548.8" font-size="17" text-anchor="middle" textLength="126.55" lengthAdjust="spacingAndGlyphs">08/28 07:26:53</text>
<text x="107.3" y="2533" font-size="17" text-anchor="end" textLength="25.05" lengthAdjust="spacingAndGlyphs">0.0</text>
<text x="107.3" y="2488.6" font-size="17" text-anchor="end" textLength="25.05" lengthAdjust="spacingAndGlyphs">0.5</text>
<text x="107.3" y="2444.2" font-size="17" text-anchor="end" textLength="25.18" lengthAdjust="spacingAndGlyphs">1.0</text>
<text x="107.3" y="2399.8" font-size="17" text-anchor="end" textLength="25.18" lengthAdjust="spacingAndGlyphs">1.5</text>
<text x="107.3" y="2355.4" font-size="17" text-anchor="end" textLength="25.18" lengthAdjust="spacingAndGlyphs">2.0</text>
<text x="107.3" y="2311" font-size="17" text-anchor="end" textLength="25.18" lengthAdjust="spacingAndGlyphs">2.5</text>
<text x="900" y="2296.2" font-size="24.2" text-anchor="middle" textLength="142.9" lengthAdjust="spacingAndGlyphs">Plasma Beta</text>
<polyline points="117,2386.99 137.61,2424.18 158.22,2397.56 178.83,2416.35 199.44,2433.97 220.05,2448.85 240.66,2385.04 261.27,2406.57 281.88,2398.35 302.49,2396.39 323.1,2382.69 343.71,2407.74 364.32,2315.75 384.93,2363.9 405.54,2367.42 426.15,2421.05 446.76,2402.65 467.37,2422.23 487.98,2465.29 508.59,2469.59 529.2,2457.46 549.81,2459.42 570.42,2468.42 591.03,2464.9 611.64,2471.16 632.25,2464.11 652.86,2469.59 673.47,2473.9 694.08,2471.16 714.69,2482.12 735.3,2478.6 755.91,2477.81 776.52,2475.86 797.13,2478.6 817.74,2480.95 838.35,2470.77 858.96,2469.59 879.57,2481.34 900.18,2471.94 920.79,2475.07 941.4,2479.38 962.01,2476.25 982.62,2476.25 1003.23,2482.12 1023.84,2470.77 1044.45,2475.86 1065.06,2473.51 1085.67,2472.33 1106.28,2481.73 1126.89,2480.55 1147.5,2475.86 1168.11,2484.86 1188.72,2479.18 1209.33,2469.99 1229.94,2473.9 1250.55,2475.47 1271.16,2475.47 1291.77,2478.6 1312.38,2487.6 1332.99,2480.55 1353.6,2484.86 1374.21,2481.73 1394.82,2478.6 1415.43,2481.73 1436.04,2482.51 1456.65,2477.81 1477.26,2477.42 1497.87,2477.42 1518.48,2473.51 1539.09,2466.07 1559.7,2471.94 1580.31,2482.9 1600.92,2478.99 1621.53,2482.9 1642.14,2488.38 1662.75,2478.99 1683.36,2469.2" fill="none" stroke="#0000ff" stroke-width="2.0" stroke-linejoin="round" />
<line x1="199.5" y1="2861" x2="199.5" y2="2852.7" stroke="#000" stroke-width="1.0" />
<line x1="199.5" y1="2639" x2="199.5" y2="2647.3" stroke="#000" stroke-width="1.0" />
<line x1="405.5" y1="2861" x2="405.5" y2="2852.7" stroke="#000" stroke-width="1.0" />
<line x1="405.5" y1="2639" x2="405.5" y2="2647.3" stroke="#000" stroke-width="1.0" />
<line x1="612.5" y1="2861" x2="612.5" y2="2852.7" stroke="#000" stroke-width="1.0" />
<line x1="612.5" y1="2639" x2="612.5" y2="2647.3" stroke="#000" stroke-width="1.0" />
<line x1="818.5" y1="2861" x2="818.5" y2="2852.7" stroke="#000" stroke-width="1.0" />
<line x1="818.5" y1="2639" x2="818.5" y2="2647.3" stroke="#000" stroke-width="1.0" />
<line x1="1024.5" y1="2861" x2="1024.5" y2="2852.7" stroke="#000" stroke-width="1.0" />
<line x1="1024.5" y1="2639" x2="1024.5" y2="2647.3" stroke="#000" stroke-width="1.0" />
<line x1="1230.5" y1="2861" x2="1230.5" y2="2852.7" stroke="#000" stroke-width="1.0" />
<line x1="1230.5" y1="2639" x2="1230.5" y2="2647.3" stroke="#000" stroke-width="1.0" />
<line x1="1436.5" y1="2861" x2="1436.5" y2="2852.7" stroke="#000" stroke-width="1.0" />
<line x1="1436.5" y1="2639" x2="1436.5" y2="2647.3" stroke="#000" stroke-width="1.0" />
<line x1="1642.5" y1="2861" x2="1642.5" y2="2852.7" stroke="#000" stroke-width="1.0" />
<line x1="1642.5" y1="2639" x2="1642.5" y2="2647.3" stroke="#000" stroke-width="1.0" />
<line x1="117" y1="2861.5" x2="125.3" y2="2861.5" stroke="#000" stroke-width="1.0" />
<line x1="1683" y1="2861.5" x2="1674.7" y2="2861.5" stroke="#000" stroke-width="1.0" />
<line x1="117" y1="2824.5" x2="125.3" y2="2824.5" stroke="#000" stroke-width="1.0" />
<line x1="1683" y1="2824.5" x2="1674.7" y2="2824.5" stroke="#000" stroke-width="1.0" />
<line x1="117" y1="2787.5" x2="125.3" y2="2787.5" stroke="#000" stroke-width="1.0" />
<line x1="1683" y1="2787.5" x2="1674.7" y2="2787.5" stroke="#000" stroke-width="1.0" />
<line x1="117" y1="2750.5" x2="125.3" y2="2750.5" stroke="#000" stroke-width="1.0" />
<line x1="1683" y1="2750.5" x2="1674.7" y2="2750.5" stroke="#000" stroke-width="1.0" />
<line x1="117" y1="2713.5" x2="125.3" y2="2713.5" stroke="#000" stroke-width="1.0" />
<line x1="1683" y1="2713.5" x2="1674.7" y2="2713.5" stroke="#000" stroke-width="1.0" />
<line x1="117" y1="2676.5" x2="125.3" y2="2676.5" stroke="#000" stroke-width="1.0" />
<line x1="1683" y1="2676.5" x2="1674.7" y2="2676.5" stroke="#000" stroke-width="1.0" />
<line x1="117" y1="2639.5" x2="125.3" y2="2639.5" stroke="#000" stroke-width="1.0" />
<line x1="1683" y1="2639.5" x2="1674.7" y2="2639.5" stroke="#000" stroke-width="1.0" />
<text x="199.42" y="2881.8" font-size="17" text-anchor="middle" textLength="126.55" lengthAdjust="spacingAndGlyphs">08/28 07:25:43</text>
<text x="405.47" y="2881.8" font-size="17" text-anchor="middle" textLength="126.55" lengthAdjust="spacingAndGlyphs">08/28 07:25:53</text>
<text x="611.53" y="2881.8" font-size="17" text-anchor="middle" textLength="126.55" lengthAdjust="spacingAndGlyphs">08/28 07:26:03</text>
<text x="817.58" y="2881.8" font-size="17" text-anchor="middle" textLength="126.67" lengthAdjust="spacingAndGlyphs">08/28 07:26:13</text>
<text x="1023.63" y="2881.8" font-size="17" text-anchor="middle" textLength="126.67" lengthAdjust="spacingAndGlyphs">08/28 07:26:23</text>
<text x="1229.68" y="2881.8" font-size="17" text-anchor="middle" textLength="126.67" lengthAdjust="spacingAndGlyphs">08/28 07:26:33</text>
<text x="1435.74" y="2881.8" font-size="17" text-anchor="middle" textLength="126.55" lengthAdjust="spacingAndGlyphs">08/28 07:26:43</text>
<text x="1641.79" y="2881.8" font-size="17" text-anchor="middle" textLength="126.55" lengthAdjust="spacingAndGlyphs">08/28 07:26:53</text>
<text x="107.3" y="2866" font-size="17" text-anchor="end" textLength="30.43" lengthAdjust="spacingAndGlyphs">100</text>
<text x="107.3" y="2829" font-size="17" text-anchor="end" textLength="30.55" lengthAdjust="spacingAndGlyphs">120</text>
<text x="107.3" y="2792" font-size="17" text-anchor="end" textLength="30.43" lengthAdjust="spacingAndGlyphs">140</text>
<text x="107.3" y="2755" font-size="17" text-anchor="end" textLength="30.43" lengthAdjust="spacingAndGlyphs">160</text>
<text x="107.3" y="2718" font-size="17" text-anchor="end" textLength="30.43" lengthAdjust="spacingAndGlyphs">180</text>
<text x="107.3" y="2681" font-size="17" text-anchor="end" textLength="30.43" lengthAdjust="spacingAndGlyphs">200</text>
<text x="107.3" y="2644" font-size="17" text-anchor="end" textLength="30.55" lengthAdjust="spacingAndGlyphs">220</text>
<text x="900" y="2629.2" font-size="24.2" text-anchor="middle" textLength="268.8" lengthAdjust="spacingAndGlyphs">Proton Number Density</text>
<polyline points="117,2692.59 137.61,2797.5 158.22,2750.14 178.83,2779.11 199.44,2808.07 220.05,2808.86 240.66,2716.08 261.27,2770.1 281.88,2756.4 302.49,2743.09 323.1,2729.39 343.71,2690.63 364.32,2661.67 384.93,2707.47 405.54,2732.13 426.15,2756.79 446.76,2683.98 467.37,2786.94 487.98,2811.6 508.59,2811.6 529.2,2801.03 549.81,2795.16 570.42,2806.9 591.03,2796.72 611.64,2811.21 632.25,2791.24 652.86,2813.16 673.47,2817.08 694.08,2813.55 714.69,2834.69 735.3,2828.82 755.91,2828.04 776.52,2816.69 797.13,2822.17 817.74,2824.91 838.35,2816.3 858.96,2819.82 879.57,2826.86 900.18,2819.82 920.79,2820.21 941.4,2826.86 962.01,2814.73 982.62,2825.3 1003.23,2834.69 1023.84,2817.47 1044.45,2826.86 1065.06,2811.6 1085.67,2816.69 1106.28,2824.91 1126.89,2826.08 1147.5,2816.3 1168.11,2828.82 1188.72,2824.91 1209.33,2810.81 1229.94,2814.34 1250.55,2813.95 1271.16,2814.34 1291.77,2815.12 1312.38,2827.65 1332.99,2821.78 1353.6,2829.21 1374.21,2825.3 1394.82,2818.64 1415.43,2829.61 1436.04,2820.99 1456.65,2815.9 1477.26,2814.34 1497.87,2815.51 1518.48,2812.38 1539.09,2794.76 1559.7,2806.9 1580.31,2820.99 1600.92,2819.82 1621.53,2817.47 1642.14,2828.04 1662.75,2820.6 1683.36,2816.69" fill="none" stroke="#0000ff" stroke-width="2.0" stroke-linejoin="round" />
<line x1="199.5" y1="3195" x2="199.5" y2="3186.7" stroke="#000" stroke-width="1.0" />
<line x1="199.5" y1="2973" x2="199.5" y2="2981.3" stroke="#000" stroke-width="1.0" />
<line x1="405.5" y1="3195" x2="405.5" y2="3186.7" stroke="#000" stroke-width="1.0" />
<line x1="405.5" y1="2973" x2="405.5" y2="2981.3" stroke="#000" stroke-width="1.0" />
<line x1="612.5" y1="3195" x2="612.5" y2="3186.7" stroke="#000" stroke-width="1.0" />
<line x1="612.5" y1="2973" x2="612.5" y2="2981.3" stroke="#000" stroke-width="1.0" />
<line x1="818.5" y1="3195" x2="818.5" y2="3186.7" stroke="#000" stroke-width="1.0" />
<line x1="818.5" y1="2973" x2="818.5" y2="2981.3" stroke="#000" stroke-width="1.0" />
<line x1="1024.5" y1="3195" x2="1024.5" y2="3186.7" stroke="#000" stroke-width="1.0" />
<line x1="1024.5" y1="2973" x2="1024.5" y2="2981.3" stroke="#000" stroke-width="1.0" />
<line x1="1230.5" y1="3195" x2="1230.5" y2="3186.7" stroke="#000" stroke-width="1.0" />
<line x1="1230.5" y1="2973" x2="1230.5" y2="2981.3" stroke="#000" stroke-width="1.0" />
<line x1="1436.5" y1="3195" x2="1436.5" y2="3186.7" stroke="#000" stroke-width="1.0" />
<line x1="1436.5" y1="2973" x2="1436.5" y2="2981.3" stroke="#000" stroke-width="1.0" />
<line x1="1642.5" y1="3195" x2="1642.5" y2="3186.7" stroke="#000" stroke-width="1.0" />
<line x1="1642.5" y1="2973" x2="1642.5" y2="2981.3" stroke="#000" stroke-width="1.0" />
<line x1="117" y1="3195.5" x2="125.3" y2="3195.5" stroke="#000" stroke-width="1.0" />
<line x1="1683" y1="3195.5" x2="1674.7" y2="3195.5" stroke="#000" stroke-width="1.0" />
<line x1="117" y1="3151.5" x2="125.3" y2="3151.5" stroke="#000" stroke-width="1.0" />
<line x1="1683" y1="3151.5" x2="1674.7" y2="3151.5" stroke="#000" stroke-width="1.0" />
<line x1="117" y1="3106.5" x2="125.3" y2="3106.5" stroke="#000" stroke-width="1.0" />
<line x1="1683" y1="3106.5" x2="1674.7" y2="3106.5" stroke="#000" stroke-width="1.0" />
<line x1="117" y1="3062.5" x2="125.3" y2="3062.5" stroke="#000" stroke-width="1.0" />
<line x1="1683" y1="3062.5" x2="1674.7" y2="3062.5" stroke="#000" stroke-width="1.0" />
<line x1="117" y1="3017.5" x2="125.3" y2="3017.5" stroke="#000" stroke-width="1.0" />
<line x1="1683" y1="3017.5" x2="1674.7" y2="3017.5" stroke="#000" stroke-width="1.0" />
<line x1="117" y1="2973.5" x2="125.3" y2="2973.5" stroke="#000" stroke-width="1.0" />
<line x1="1683" y1="2973.5" x2="1674.7" y2="2973.5" stroke="#000" stroke-width="1.0" />
<text x="199.42" y="3215.8" font-size="17" text-anchor="middle" textLength="126.55" lengthAdjust="spacingAndGlyphs">08/28 07:25:43</text>
<text x="405.47" y="3215.8" font-size="17" text-anchor="middle" textLength="126.55" lengthAdjust="spacingAndGlyphs">08/28 07:25:53</text>
<text x="611.53" y="3215.8" font-size="17" text-anchor="middle" textLength="126.55" lengthAdjust="spacingAndGlyphs">08/28 07:26:03</text>
<text x="817.58" y="3215.8" font-size="17" text-anchor="middle" textLength="126.67" lengthAdjust="spacingAndGlyphs">08/28 07:26:13</text>
<text x="1023.63" y="3215.8" font-size="17" text-anchor="middle" textLength="126.67" lengthAdjust="spacingAndGlyphs">08/28 07:26:23</text>
<text x="1229.68" y="3215.8" font-size="17" text-anchor="middle" textLength="126.67" lengthAdjust="spacingAndGlyphs">08/28 07:26:33</text>
<text x="1435.74" y="3215.8" font-size="17" text-anchor="middle" textLength="126.55" lengthAdjust="spacingAndGlyphs">08/28 07:26:43</text>
<text x="1641.79" y="3215.8" font-size="17" text-anchor="middle" textLength="126.55" lengthAdjust="spacingAndGlyphs">08/28 07:26:53</text>
<text x="107.3" y="3200" font-size="17" text-anchor="end" textLength="35.67" lengthAdjust="spacingAndGlyphs">0.20</text>
<text x="107.3" y="3155.6" font-size="17" text-anchor="end" textLength="35.67" lengthAdjust="spacingAndGlyphs">0.25</text>
<text x="107.3" y="3111.2" font-size="17" text-anchor="end" textLength="35.67" lengthAdjust="spacingAndGlyphs">0.30</text>
<text x="107.3" y="3066.8" font-size="17" text-anchor="end" textLength="35.67" lengthAdjust="spacingAndGlyphs">0.35</text>
<text x="107.3" y="3022.4" font-size="17" text-anchor="end" textLength="35.55" lengthAdjust="spacingAndGlyphs">0.40</text>
<text x="107.3" y="2978" font-size="17" text-anchor="end" textLength="35.55" lengthAdjust="spacingAndGlyphs">0.45</text>
<polyline points="117,3113.89 137.61,3113.89 158.22,3110.37 178.83,3121.72 199.44,3133.07 220.05,3176.52 240.66,3121.33 261.27,3118.98 281.88,3111.93 302.49,3104.49 323.1,3035.99 343.71,3089.62 364.32,3045.38 384.93,3016.02 405.54,3038.73 426.15,3061.43 446.76,3085.7 467.37,3034.03 487.98,3081.01 508.59,3094.32 529.2,3046.17 549.81,3055.56 570.42,3088.83 591.03,3075.92 611.64,3086.09 632.25,3068.48 652.86,3068.48 673.47,3088.44 694.08,3072.78 714.69,3115.45 735.3,3111.93 755.91,3113.89 776.52,3107.23 797.13,3115.85 817.74,3124.85 838.35,3082.18 858.96,3059.48 879.57,3112.32 900.18,3079.44 920.79,3098.23 941.4,3111.15 962.01,3106.45 982.62,3124.46 1003.23,3142.86 1023.84,3115.85 1044.45,3116.63 1065.06,3120.94 1085.67,3103.32 1106.28,3134.64 1126.89,3126.81 1147.5,3109.58 1168.11,3128.76 1188.72,3108.8 1209.33,3089.62 1229.94,3102.93 1250.55,3105.28 1271.16,3095.1 1291.77,3108.02 1312.38,3142.47 1332.99,3108.8 1353.6,3127.2 1374.21,3110.37 1394.82,3104.89 1415.43,3107.63 1436.04,3120.94 1456.65,3097.84 1477.26,3104.49 1497.87,3106.84 1518.48,3088.05 1539.09,3072 1559.7,3087.27 1580.31,3133.46 1600.92,3109.58 1621.53,3124.46 1642.14,3146.77 1662.75,3115.85 1683.36,3108.02" fill="none" stroke="#0000ff" stroke-width="2.0" stroke-linejoin="round" />
<g clip-path="url(#c_tp)">
<polyline points="520.1,270.6 463.2,389.3 401.8,324.2 351.3,393.2 315.4,441.4 283.4,487.4 260.5,335.4 241.3,388.6 221.4,364.3 200.2,335.6 180.5,234.3 173.6,210 164.3,128.1 154.3,142.5 162.6,235.2 181.3,220.2 193.3,180.3" fill="none" stroke="#ff0000" stroke-width="2.0" stroke-linejoin="round" />
<circle cx="520.1" cy="270.6" r="6.1" fill="#ff0000" stroke="#000" stroke-width="1"/><circle cx="463.2" cy="389.3" r="6.1" fill="#ff0000" stroke="#000" stroke-width="1"/><circle cx="401.8" cy="324.2" r="6.1" fill="#ff0000" stroke="#000" stroke-width="1"/><circle cx="351.3" cy="393.2" r="6.1" fill="#ff0000" stroke="#000" stroke-width="1"/><circle cx="315.4" cy="441.4" r="6.1" fill="#ff0000" stroke="#000" stroke-width="1"/><circle cx="283.4" cy="487.4" r="6.1" fill="#ff0000" stroke="#000" stroke-width="1"/><circle cx="260.5" cy="335.4" r="6.1" fill="#ff0000" stroke="#000" stroke-width="1"/><circle cx="241.3" cy="388.6" r="6.1" fill="#ff0000" stroke="#000" stroke-width="1"/><circle cx="221.4" cy="364.3" r="6.1" fill="#ff0000" stroke="#000" stroke-width="1"/><circle cx="200.2" cy="335.6" r="6.1" fill="#ff0000" stroke="#000" stroke-width="1"/><circle cx="180.5" cy="234.3" r="6.1" fill="#ff0000" stroke="#000" stroke-width="1"/><circle cx="173.6" cy="210" r="6.1" fill="#ff0000" stroke="#000" stroke-width="1"/><circle cx="164.3" cy="128.1" r="6.1" fill="#ff0000" stroke="#000" stroke-width="1"/><circle cx="154.3" cy="142.5" r="6.1" fill="#ff0000" stroke="#000" stroke-width="1"/><circle cx="162.6" cy="235.2" r="6.1" fill="#ff0000" stroke="#000" stroke-width="1"/><circle cx="181.3" cy="220.2" r="6.1" fill="#ff0000" stroke="#000" stroke-width="1"/><circle cx="193.3" cy="180.3" r="6.1" fill="#ff0000" stroke="#000" stroke-width="1"/>
<polyline points="193.3,180.3 201.5,261.7 204.1,326.6 204.1,316.8 205,261.3 208.4,254 214.3,300.2 226.4,269 242.4,298.9 258.4,248 275.3,277.1 294.4,299.7 317.4,277.9 338,353.8 356.6,338.76 372.28,352.49 384.39,340.37 393.28,356.53 399.26,367.36 406.21,308.87 412.35,288.67 418.33,321.79 418.33,332.3 412.19,343.61 417.52,349.26 415.09,362.19 411.86,372.69 410.25,386.42 410.25,413.89 410.25,386.42 415.09,362.19 424.79,360.57 431.25,367.84 436.1,338.76 443.37,354.11 452.26,337.95 460.34,305.64 466.8,320.18 473.26,317.75 481.34,304.83 488.29,319.37 494.27,365.42 500.41,325.03 505.25,352.49 508.81,325.83 512.04,316.14 515.27,328.26 523.35,332.3 526.58,349.26 533.37,355.72 532.24,335.53 531.43,318.56 527.39,316.14 519.31,317.75 518.5,304.83 519.31,295.94 516.08,295.13 519.31,281.4 519.31,258.78" fill="none" stroke="#0000ff" stroke-width="2.0" stroke-linejoin="round" />
<path d="M193.3,174.2 L187.2,186.4 L199.4,186.4 Z" fill="#0000ff" stroke="#000" stroke-width="1"/><path d="M201.5,255.6 L195.4,267.8 L207.6,267.8 Z" fill="#0000ff" stroke="#000" stroke-width="1"/><path d="M204.1,320.5 L198,332.7 L210.2,332.7 Z" fill="#0000ff" stroke="#000" stroke-width="1"/><path d="M204.1,310.7 L198,322.9 L210.2,322.9 Z" fill="#0000ff" stroke="#000" stroke-width="1"/><path d="M205,255.2 L198.9,267.4 L211.1,267.4 Z" fill="#0000ff" stroke="#000" stroke-width="1"/><path d="M208.4,247.9 L202.3,260.1 L214.5,260.1 Z" fill="#0000ff" stroke="#000" stroke-width="1"/><path d="M214.3,294.1 L208.2,306.3 L220.4,306.3 Z" fill="#0000ff" stroke="#000" stroke-width="1"/><path d="M226.4,262.9 L220.3,275.1 L232.5,275.1 Z" fill="#0000ff" stroke="#000" stroke-width="1"/><path d="M242.4,292.8 L236.3,305 L248.5,305 Z" fill="#0000ff" stroke="#000" stroke-width="1"/><path d="M258.4,241.9 L252.3,254.1 L264.5,254.1 Z" fill="#0000ff" stroke="#000" stroke-width="1"/><path d="M275.3,271 L269.2,283.2 L281.4,283.2 Z" fill="#0000ff" stroke="#000" stroke-width="1"/><path d="M294.4,293.6 L288.3,305.8 L300.5,305.8 Z" fill="#0000ff" stroke="#000" stroke-width="1"/><path d="M317.4,271.8 L311.3,284 L323.5,284 Z" fill="#0000ff" stroke="#000" stroke-width="1"/><path d="M338,347.7 L331.9,359.9 L344.1,359.9 Z" fill="#0000ff" stroke="#000" stroke-width="1"/><path d="M356.6,332.66 L350.5,344.86 L362.7,344.86 Z" fill="#0000ff" stroke="#000" stroke-width="1"/><path d="M372.28,346.39 L366.18,358.59 L378.38,358.59 Z" fill="#0000ff" stroke="#000" stroke-width="1"/><path d="M384.39,334.27 L378.29,346.47 L390.49,346.47 Z" fill="#0000ff" stroke="#000" stroke-width="1"/><path d="M393.28,350.43 L387.18,362.63 L399.38,362.63 Z" fill="#0000ff" stroke="#000" stroke-width="1"/><path d="M399.26,361.26 L393.16,373.46 L405.36,373.46 Z" fill="#0000ff" stroke="#000" stroke-width="1"/><path d="M406.21,302.77 L400.11,314.97 L412.31,314.97 Z" fill="#0000ff" stroke="#000" stroke-width="1"/><path d="M412.35,282.57 L406.25,294.77 L418.45,294.77 Z" fill="#0000ff" stroke="#000" stroke-width="1"/><path d="M418.33,315.69 L412.23,327.89 L424.43,327.89 Z" fill="#0000ff" stroke="#000" stroke-width="1"/><path d="M418.33,326.2 L412.23,338.4 L424.43,338.4 Z" fill="#0000ff" stroke="#000" stroke-width="1"/><path d="M412.19,337.51 L406.09,349.71 L418.29,349.71 Z" fill="#0000ff" stroke="#000" stroke-width="1"/><path d="M417.52,343.16 L411.42,355.36 L423.62,355.36 Z" fill="#0000ff" stroke="#000" stroke-width="1"/><path d="M415.09,356.09 L408.99,368.29 L421.19,368.29 Z" fill="#0000ff" stroke="#000" stroke-width="1"/><path d="M411.86,366.59 L405.76,378.79 L417.96,378.79 Z" fill="#0000ff" stroke="#000" stroke-width="1"/><path d="M410.25,380.32 L404.15,392.52 L416.35,392.52 Z" fill="#0000ff" stroke="#000" stroke-width="1"/><path d="M410.25,407.79 L404.15,419.99 L416.35,419.99 Z" fill="#0000ff" stroke="#000" stroke-width="1"/><path d="M410.25,380.32 L404.15,392.52 L416.35,392.52 Z" fill="#0000ff" stroke="#000" stroke-width="1"/><path d="M415.09,356.09 L408.99,368.29 L421.19,368.29 Z" fill="#0000ff" stroke="#000" stroke-width="1"/><path d="M424.79,354.47 L418.69,366.67 L430.89,366.67 Z" fill="#0000ff" stroke="#000" stroke-width="1"/><path d="M431.25,361.74 L425.15,373.94 L437.35,373.94 Z" fill="#0000ff" stroke="#000" stroke-width="1"/><path d="M436.1,332.66 L430,344.86 L442.2,344.86 Z" fill="#0000ff" stroke="#000" stroke-width="1"/><path d="M443.37,348.01 L437.27,360.21 L449.47,360.21 Z" fill="#0000ff" stroke="#000" stroke-width="1"/><path d="M452.26,331.85 L446.16,344.05 L458.36,344.05 Z" fill="#0000ff" stroke="#000" stroke-width="1"/><path d="M460.34,299.54 L454.24,311.74 L466.44,311.74 Z" fill="#0000ff" stroke="#000" stroke-width="1"/><path d="M466.8,314.08 L460.7,326.28 L472.9,326.28 Z" fill="#0000ff" stroke="#000" stroke-width="1"/><path d="M473.26,311.65 L467.16,323.85 L479.36,323.85 Z" fill="#0000ff" stroke="#000" stroke-width="1"/><path d="M481.34,298.73 L475.24,310.93 L487.44,310.93 Z" fill="#0000ff" stroke="#000" stroke-width="1"/><path d="M488.29,313.27 L482.19,325.47 L494.39,325.47 Z" fill="#0000ff" stroke="#000" stroke-width="1"/><path d="M494.27,359.32 L488.17,371.52 L500.37,371.52 Z" fill="#0000ff" stroke="#000" stroke-width="1"/><path d="M500.41,318.93 L494.31,331.13 L506.51,331.13 Z" fill="#0000ff" stroke="#000" stroke-width="1"/><path d="M505.25,346.39 L499.15,358.59 L511.35,358.59 Z" fill="#0000ff" stroke="#000" stroke-width="1"/><path d="M508.81,319.73 L502.71,331.93 L514.91,331.93 Z" fill="#0000ff" stroke="#000" stroke-width="1"/><path d="M512.04,310.04 L505.94,322.24 L518.14,322.24 Z" fill="#0000ff" stroke="#000" stroke-width="1"/><path d="M515.27,322.16 L509.17,334.36 L521.37,334.36 Z" fill="#0000ff" stroke="#000" stroke-width="1"/><path d="M523.35,326.2 L517.25,338.4 L529.45,338.4 Z" fill="#0000ff" stroke="#000" stroke-width="1"/><path d="M526.58,343.16 L520.48,355.36 L532.68,355.36 Z" fill="#0000ff" stroke="#000" stroke-width="1"/><path d="M533.37,349.62 L527.27,361.82 L539.47,361.82 Z" fill="#0000ff" stroke="#000" stroke-width="1"/><path d="M532.24,329.43 L526.14,341.63 L538.34,341.63 Z" fill="#0000ff" stroke="#000" stroke-width="1"/><path d="M531.43,312.46 L525.33,324.66 L537.53,324.66 Z" fill="#0000ff" stroke="#000" stroke-width="1"/><path d="M527.39,310.04 L521.29,322.24 L533.49,322.24 Z" fill="#0000ff" stroke="#000" stroke-width="1"/><path d="M519.31,311.65 L513.21,323.85 L525.41,323.85 Z" fill="#0000ff" stroke="#000" stroke-width="1"/><path d="M518.5,298.73 L512.4,310.93 L524.6,310.93 Z" fill="#0000ff" stroke="#000" stroke-width="1"/><path d="M519.31,289.84 L513.21,302.04 L525.41,302.04 Z" fill="#0000ff" stroke="#000" stroke-width="1"/><path d="M516.08,289.03 L509.98,301.23 L522.18,301.23 Z" fill="#0000ff" stroke="#000" stroke-width="1"/><path d="M519.31,275.3 L513.21,287.5 L525.41,287.5 Z" fill="#0000ff" stroke="#000" stroke-width="1"/><path d="M519.31,252.68 L513.21,264.88 L525.41,264.88 Z" fill="#0000ff" stroke="#000" stroke-width="1"/>
</g>
<rect x="413" y="91" width="150.7" height="46.7" fill="#fff" stroke="#000" stroke-width="1.5"/>
<line x1="423.4" y1="103.1" x2="444.3" y2="103.1" stroke="#ff0000" stroke-width="2.0" />
<circle cx="423.4" cy="103.1" r="6.1" fill="#ff0000" stroke="#000" stroke-width="1"/><circle cx="444.3" cy="103.1" r="6.1" fill="#ff0000" stroke="#000" stroke-width="1"/>
<line x1="423.4" y1="125.1" x2="444.3" y2="125.1" stroke="#0000ff" stroke-width="2.0" />
<path d="M423.4,119 L417.3,131.2 L429.5,131.2 Z" fill="#0000ff" stroke="#000" stroke-width="1"/><path d="M444.3,119 L438.2,131.2 L450.4,131.2 Z" fill="#0000ff" stroke="#000" stroke-width="1"/>
<text x="460.9" y="107.6" font-size="15.2" text-anchor="start" textLength="91.1" lengthAdjust="spacingAndGlyphs">1st half path</text>
<text x="460.9" y="129.7" font-size="15.2" text-anchor="start" textLength="95.9" lengthAdjust="spacingAndGlyphs">2nd half path</text>
<g clip-path="url(#c_h1)">
<polyline points="944.1,477.9 974.2,452.9 943.7,446.3 964.1,395.5 975.8,373.2 965.1,341.5 927.3,335.6 937.5,327 937.5,323.1 945.3,312.1 946.1,314.8 887.7,296.4 887.3,255.4 901.8,271.7 908.3,230.2 889,249.5 932.2,238.4 977,216.2" fill="none" stroke="#0000ff" stroke-width="2.0" stroke-linejoin="round" />
<circle cx="944.1" cy="477.9" r="3.7" fill="#0000ff"/><circle cx="974.2" cy="452.9" r="3.7" fill="#0000ff"/><circle cx="943.7" cy="446.3" r="3.7" fill="#0000ff"/><circle cx="964.1" cy="395.5" r="3.7" fill="#0000ff"/><circle cx="975.8" cy="373.2" r="3.7" fill="#0000ff"/><circle cx="965.1" cy="341.5" r="3.7" fill="#0000ff"/><circle cx="927.3" cy="335.6" r="3.7" fill="#0000ff"/><circle cx="937.5" cy="327" r="3.7" fill="#0000ff"/><circle cx="937.5" cy="323.1" r="3.7" fill="#0000ff"/><circle cx="945.3" cy="312.1" r="3.7" fill="#0000ff"/><circle cx="946.1" cy="314.8" r="3.7" fill="#0000ff"/><circle cx="887.7" cy="296.4" r="3.7" fill="#0000ff"/><circle cx="887.3" cy="255.4" r="3.7" fill="#0000ff"/><circle cx="901.8" cy="271.7" r="3.7" fill="#0000ff"/><circle cx="908.3" cy="230.2" r="3.7" fill="#0000ff"/><circle cx="889" cy="249.5" r="3.7" fill="#0000ff"/><circle cx="932.2" cy="238.4" r="3.7" fill="#0000ff"/><circle cx="977" cy="216.2" r="3.7" fill="#0000ff"/>
<polyline points="978.4,215.5 977.3,225.7 986.4,220 990.9,215.5 1000.6,216.6 1000.6,209.8 993.2,208.1 994.4,193.3 983.5,195.6 972.7,211.5 967,206.9 963.6,195 947.7,184.7 961.9,182.5 957.3,176.2 949.4,167.1 964.2,167.1 968.7,176.2 975.6,176.8 979.5,189.9 978.4,215.5 974.4,187 981.8,176.8 986.4,175.6 989.8,181.3 984.7,185.3 987.5,196.7 979,201.3 969.9,184.2 976.7,181.9 971,189.9 979,205 983,190 975,195 985,205 972,198 980,210 976,200" fill="none" stroke="#0000ff" stroke-width="2.0" stroke-linejoin="round" />
<circle cx="978.4" cy="215.5" r="3.7" fill="#0000ff"/><circle cx="977.3" cy="225.7" r="3.7" fill="#0000ff"/><circle cx="986.4" cy="220" r="3.7" fill="#0000ff"/><circle cx="990.9" cy="215.5" r="3.7" fill="#0000ff"/><circle cx="1000.6" cy="216.6" r="3.7" fill="#0000ff"/><circle cx="1000.6" cy="209.8" r="3.7" fill="#0000ff"/><circle cx="993.2" cy="208.1" r="3.7" fill="#0000ff"/><circle cx="994.4" cy="193.3" r="3.7" fill="#0000ff"/><circle cx="983.5" cy="195.6" r="3.7" fill="#0000ff"/><circle cx="972.7" cy="211.5" r="3.7" fill="#0000ff"/><circle cx="967" cy="206.9" r="3.7" fill="#0000ff"/><circle cx="963.6" cy="195" r="3.7" fill="#0000ff"/><circle cx="947.7" cy="184.7" r="3.7" fill="#0000ff"/><circle cx="961.9" cy="182.5" r="3.7" fill="#0000ff"/><circle cx="957.3" cy="176.2" r="3.7" fill="#0000ff"/><circle cx="949.4" cy="167.1" r="3.7" fill="#0000ff"/><circle cx="964.2" cy="167.1" r="3.7" fill="#0000ff"/><circle cx="968.7" cy="176.2" r="3.7" fill="#0000ff"/><circle cx="975.6" cy="176.8" r="3.7" fill="#0000ff"/><circle cx="979.5" cy="189.9" r="3.7" fill="#0000ff"/><circle cx="978.4" cy="215.5" r="3.7" fill="#0000ff"/><circle cx="974.4" cy="187" r="3.7" fill="#0000ff"/><circle cx="981.8" cy="176.8" r="3.7" fill="#0000ff"/><circle cx="986.4" cy="175.6" r="3.7" fill="#0000ff"/><circle cx="989.8" cy="181.3" r="3.7" fill="#0000ff"/><circle cx="984.7" cy="185.3" r="3.7" fill="#0000ff"/><circle cx="987.5" cy="196.7" r="3.7" fill="#0000ff"/><circle cx="979" cy="201.3" r="3.7" fill="#0000ff"/><circle cx="969.9" cy="184.2" r="3.7" fill="#0000ff"/><circle cx="976.7" cy="181.9" r="3.7" fill="#0000ff"/><circle cx="971" cy="189.9" r="3.7" fill="#0000ff"/><circle cx="979" cy="205" r="3.7" fill="#0000ff"/><circle cx="983" cy="190" r="3.7" fill="#0000ff"/><circle cx="975" cy="195" r="3.7" fill="#0000ff"/><circle cx="985" cy="205" r="3.7" fill="#0000ff"/><circle cx="972" cy="198" r="3.7" fill="#0000ff"/><circle cx="980" cy="210" r="3.7" fill="#0000ff"/><circle cx="976" cy="200" r="3.7" fill="#0000ff"/>
<polyline points="787.3,228.1 804.4,224.4 821.2,219.6 840.3,173.5 848.5,173.5 847.5,182.5 787.3,228.1" fill="none" stroke="#ff0000" stroke-width="2.0" stroke-linejoin="round" />
<circle cx="787.3" cy="228.1" r="3.7" fill="#ff0000"/><circle cx="804.4" cy="224.4" r="3.7" fill="#ff0000"/><circle cx="821.2" cy="219.6" r="3.7" fill="#ff0000"/><circle cx="840.3" cy="173.5" r="3.7" fill="#ff0000"/><circle cx="848.5" cy="173.5" r="3.7" fill="#ff0000"/><circle cx="847.5" cy="182.5" r="3.7" fill="#ff0000"/><circle cx="787.3" cy="228.1" r="3.7" fill="#ff0000"/>
<polyline points="847.5,182.5 860.4,272.5 904.3,125.3 909.5,220.4 914.1,314 891.2,204.2 932.2,298.2 895.8,338.3 913.2,339.5 931.2,339.5 890.1,452.2 985.2,388.4" fill="none" stroke="#ff0000" stroke-width="2.0" stroke-linejoin="round" />
<circle cx="847.5" cy="182.5" r="3.7" fill="#ff0000"/><circle cx="860.4" cy="272.5" r="3.7" fill="#ff0000"/><circle cx="904.3" cy="125.3" r="3.7" fill="#ff0000"/><circle cx="909.5" cy="220.4" r="3.7" fill="#ff0000"/><circle cx="914.1" cy="314" r="3.7" fill="#ff0000"/><circle cx="891.2" cy="204.2" r="3.7" fill="#ff0000"/><circle cx="932.2" cy="298.2" r="3.7" fill="#ff0000"/><circle cx="895.8" cy="338.3" r="3.7" fill="#ff0000"/><circle cx="913.2" cy="339.5" r="3.7" fill="#ff0000"/><circle cx="931.2" cy="339.5" r="3.7" fill="#ff0000"/><circle cx="890.1" cy="452.2" r="3.7" fill="#ff0000"/><circle cx="985.2" cy="388.4" r="3.7" fill="#ff0000"/>
<polyline points="847.5,182.5 829.3,317.4 831.7,347.8" fill="none" stroke="#ff0000" stroke-width="2.0" stroke-linejoin="round" />
<circle cx="847.5" cy="182.5" r="3.7" fill="#ff0000"/><circle cx="829.3" cy="317.4" r="3.7" fill="#ff0000"/><circle cx="831.7" cy="347.8" r="3.7" fill="#ff0000"/>
<polyline points="773.5,298.2 774.4,310.6 785.4,286.2 795.4,306.1 818.3,312.1 821.3,331.3 827,335.3 831.7,347.8" fill="none" stroke="#ff0000" stroke-width="2.0" stroke-linejoin="round" />
<circle cx="773.5" cy="298.2" r="3.7" fill="#ff0000"/><circle cx="774.4" cy="310.6" r="3.7" fill="#ff0000"/><circle cx="785.4" cy="286.2" r="3.7" fill="#ff0000"/><circle cx="795.4" cy="306.1" r="3.7" fill="#ff0000"/><circle cx="818.3" cy="312.1" r="3.7" fill="#ff0000"/><circle cx="821.3" cy="331.3" r="3.7" fill="#ff0000"/><circle cx="827" cy="335.3" r="3.7" fill="#ff0000"/><circle cx="831.7" cy="347.8" r="3.7" fill="#ff0000"/>
<polyline points="773.5,298.2 795.4,312.4 783.1,346.3 805.3,343.3 831.7,350 823.3,354.2 840,360" fill="none" stroke="#ff0000" stroke-width="2.0" stroke-linejoin="round" />
<circle cx="773.5" cy="298.2" r="3.7" fill="#ff0000"/><circle cx="795.4" cy="312.4" r="3.7" fill="#ff0000"/><circle cx="783.1" cy="346.3" r="3.7" fill="#ff0000"/><circle cx="805.3" cy="343.3" r="3.7" fill="#ff0000"/><circle cx="831.7" cy="350" r="3.7" fill="#ff0000"/><circle cx="823.3" cy="354.2" r="3.7" fill="#ff0000"/><circle cx="840" cy="360" r="3.7" fill="#ff0000"/>
<polyline points="831.7,347.8 852.7,339.3 835,352 851.7,348.8 840,370 851.7,358.2 857.6,365.2 870.1,391.1 845,370 870.1,396.6 850,375 833.2,391.1 840,372 829.3,363.2 838,385 845.7,390.6 848,368 836,378 855,372 842,366 850,382 836,365 858,378 846,360 838,392 853,385 843,374 848,380 840,384 852,370 836,372 846,388 842,378 856,380 839,360 849,364" fill="none" stroke="#ff0000" stroke-width="2.0" stroke-linejoin="round" />
<circle cx="831.7" cy="347.8" r="3.7" fill="#ff0000"/><circle cx="852.7" cy="339.3" r="3.7" fill="#ff0000"/><circle cx="835" cy="352" r="3.7" fill="#ff0000"/><circle cx="851.7" cy="348.8" r="3.7" fill="#ff0000"/><circle cx="840" cy="370" r="3.7" fill="#ff0000"/><circle cx="851.7" cy="358.2" r="3.7" fill="#ff0000"/><circle cx="857.6" cy="365.2" r="3.7" fill="#ff0000"/><circle cx="870.1" cy="391.1" r="3.7" fill="#ff0000"/><circle cx="845" cy="370" r="3.7" fill="#ff0000"/><circle cx="870.1" cy="396.6" r="3.7" fill="#ff0000"/><circle cx="850" cy="375" r="3.7" fill="#ff0000"/><circle cx="833.2" cy="391.1" r="3.7" fill="#ff0000"/><circle cx="840" cy="372" r="3.7" fill="#ff0000"/><circle cx="829.3" cy="363.2" r="3.7" fill="#ff0000"/><circle cx="838" cy="385" r="3.7" fill="#ff0000"/><circle cx="845.7" cy="390.6" r="3.7" fill="#ff0000"/><circle cx="848" cy="368" r="3.7" fill="#ff0000"/><circle cx="836" cy="378" r="3.7" fill="#ff0000"/><circle cx="855" cy="372" r="3.7" fill="#ff0000"/><circle cx="842" cy="366" r="3.7" fill="#ff0000"/><circle cx="850" cy="382" r="3.7" fill="#ff0000"/><circle cx="836" cy="365" r="3.7" fill="#ff0000"/><circle cx="858" cy="378" r="3.7" fill="#ff0000"/><circle cx="846" cy="360" r="3.7" fill="#ff0000"/><circle cx="838" cy="392" r="3.7" fill="#ff0000"/><circle cx="853" cy="385" r="3.7" fill="#ff0000"/><circle cx="843" cy="374" r="3.7" fill="#ff0000"/><circle cx="848" cy="380" r="3.7" fill="#ff0000"/><circle cx="840" cy="384" r="3.7" fill="#ff0000"/><circle cx="852" cy="370" r="3.7" fill="#ff0000"/><circle cx="836" cy="372" r="3.7" fill="#ff0000"/><circle cx="846" cy="388" r="3.7" fill="#ff0000"/><circle cx="842" cy="378" r="3.7" fill="#ff0000"/><circle cx="856" cy="380" r="3.7" fill="#ff0000"/><circle cx="839" cy="360" r="3.7" fill="#ff0000"/><circle cx="849" cy="364" r="3.7" fill="#ff0000"/>
</g>
<g clip-path="url(#c_h2)">
<polyline points="1532.7,476 1539.2,451.4 1545.7,444.3 1558.6,393.6 1547,370 1547.3,339.3 1539.9,332.8 1532.7,321.5 1542.4,311.8 1543.1,296.9 1543.1,255.4 1531.7,269.6 1534.5,232.3 1541.4,238.3 1535.7,250.2 1541.4,238.3 1543.6,215.5 1526.6,218.9 1527.7,196.1" fill="none" stroke="#0000ff" stroke-width="2.0" stroke-linejoin="round" />
<circle cx="1532.7" cy="476" r="3.7" fill="#0000ff"/><circle cx="1539.2" cy="451.4" r="3.7" fill="#0000ff"/><circle cx="1545.7" cy="444.3" r="3.7" fill="#0000ff"/><circle cx="1558.6" cy="393.6" r="3.7" fill="#0000ff"/><circle cx="1547" cy="370" r="3.7" fill="#0000ff"/><circle cx="1547.3" cy="339.3" r="3.7" fill="#0000ff"/><circle cx="1539.9" cy="332.8" r="3.7" fill="#0000ff"/><circle cx="1532.7" cy="321.5" r="3.7" fill="#0000ff"/><circle cx="1542.4" cy="311.8" r="3.7" fill="#0000ff"/><circle cx="1543.1" cy="296.9" r="3.7" fill="#0000ff"/><circle cx="1543.1" cy="255.4" r="3.7" fill="#0000ff"/><circle cx="1531.7" cy="269.6" r="3.7" fill="#0000ff"/><circle cx="1534.5" cy="232.3" r="3.7" fill="#0000ff"/><circle cx="1541.4" cy="238.3" r="3.7" fill="#0000ff"/><circle cx="1535.7" cy="250.2" r="3.7" fill="#0000ff"/><circle cx="1541.4" cy="238.3" r="3.7" fill="#0000ff"/><circle cx="1543.6" cy="215.5" r="3.7" fill="#0000ff"/><circle cx="1526.6" cy="218.9" r="3.7" fill="#0000ff"/><circle cx="1527.7" cy="196.1" r="3.7" fill="#0000ff"/>
<polyline points="1527.7,196.1 1534.5,193.3 1528.8,187.6 1525.4,176.8 1530.5,176.2 1536.8,183 1540.2,178.5 1545.9,184.2 1549.3,176.8 1551,168.8 1563.6,167.1 1561.3,169.4 1555,180.8 1556.2,187.6 1561.3,196.1 1553.9,193.3 1547.1,192.1 1542.5,187.6 1549.3,197.8 1542.5,205.8 1552.8,206.9 1558.5,209.8 1559,215.5 1556.2,225.2 1549.3,218.3 1543.6,215.5 1532.3,203.5 1538,190 1550,186 1544,198 1536,178 1554,200 1531,185" fill="none" stroke="#0000ff" stroke-width="2.0" stroke-linejoin="round" />
<circle cx="1527.7" cy="196.1" r="3.7" fill="#0000ff"/><circle cx="1534.5" cy="193.3" r="3.7" fill="#0000ff"/><circle cx="1528.8" cy="187.6" r="3.7" fill="#0000ff"/><circle cx="1525.4" cy="176.8" r="3.7" fill="#0000ff"/><circle cx="1530.5" cy="176.2" r="3.7" fill="#0000ff"/><circle cx="1536.8" cy="183" r="3.7" fill="#0000ff"/><circle cx="1540.2" cy="178.5" r="3.7" fill="#0000ff"/><circle cx="1545.9" cy="184.2" r="3.7" fill="#0000ff"/><circle cx="1549.3" cy="176.8" r="3.7" fill="#0000ff"/><circle cx="1551" cy="168.8" r="3.7" fill="#0000ff"/><circle cx="1563.6" cy="167.1" r="3.7" fill="#0000ff"/><circle cx="1561.3" cy="169.4" r="3.7" fill="#0000ff"/><circle cx="1555" cy="180.8" r="3.7" fill="#0000ff"/><circle cx="1556.2" cy="187.6" r="3.7" fill="#0000ff"/><circle cx="1561.3" cy="196.1" r="3.7" fill="#0000ff"/><circle cx="1553.9" cy="193.3" r="3.7" fill="#0000ff"/><circle cx="1547.1" cy="192.1" r="3.7" fill="#0000ff"/><circle cx="1542.5" cy="187.6" r="3.7" fill="#0000ff"/><circle cx="1549.3" cy="197.8" r="3.7" fill="#0000ff"/><circle cx="1542.5" cy="205.8" r="3.7" fill="#0000ff"/><circle cx="1552.8" cy="206.9" r="3.7" fill="#0000ff"/><circle cx="1558.5" cy="209.8" r="3.7" fill="#0000ff"/><circle cx="1559" cy="215.5" r="3.7" fill="#0000ff"/><circle cx="1556.2" cy="225.2" r="3.7" fill="#0000ff"/><circle cx="1549.3" cy="218.3" r="3.7" fill="#0000ff"/><circle cx="1543.6" cy="215.5" r="3.7" fill="#0000ff"/><circle cx="1532.3" cy="203.5" r="3.7" fill="#0000ff"/><circle cx="1538" cy="190" r="3.7" fill="#0000ff"/><circle cx="1550" cy="186" r="3.7" fill="#0000ff"/><circle cx="1544" cy="198" r="3.7" fill="#0000ff"/><circle cx="1536" cy="178" r="3.7" fill="#0000ff"/><circle cx="1554" cy="200" r="3.7" fill="#0000ff"/><circle cx="1531" cy="185" r="3.7" fill="#0000ff"/>
<polyline points="1325.3,388.4 1518.2,451.7 1448.7,339.3 1477.8,339.3 1507.5,339.3 1458.4,297.9 1452.5,204.4 1366.3,125.4 1531.1,272.4 1515.2,173.3 1480.4,173.3 1494.1,219.5 1501.3,224.6 1508.1,228.6 1505.5,182.5 1524,334.4" fill="none" stroke="#ff0000" stroke-width="2.0" stroke-linejoin="round" />
<circle cx="1325.3" cy="388.4" r="3.7" fill="#ff0000"/><circle cx="1518.2" cy="451.7" r="3.7" fill="#ff0000"/><circle cx="1448.7" cy="339.3" r="3.7" fill="#ff0000"/><circle cx="1477.8" cy="339.3" r="3.7" fill="#ff0000"/><circle cx="1507.5" cy="339.3" r="3.7" fill="#ff0000"/><circle cx="1458.4" cy="297.9" r="3.7" fill="#ff0000"/><circle cx="1452.5" cy="204.4" r="3.7" fill="#ff0000"/><circle cx="1366.3" cy="125.4" r="3.7" fill="#ff0000"/><circle cx="1531.1" cy="272.4" r="3.7" fill="#ff0000"/><circle cx="1515.2" cy="173.3" r="3.7" fill="#ff0000"/><circle cx="1480.4" cy="173.3" r="3.7" fill="#ff0000"/><circle cx="1494.1" cy="219.5" r="3.7" fill="#ff0000"/><circle cx="1501.3" cy="224.6" r="3.7" fill="#ff0000"/><circle cx="1508.1" cy="228.6" r="3.7" fill="#ff0000"/><circle cx="1505.5" cy="182.5" r="3.7" fill="#ff0000"/><circle cx="1524" cy="334.4" r="3.7" fill="#ff0000"/>
<polyline points="1366.3,125.4 1452.5,204.4 1522.6,285.5 1575.5,308.9 1555.6,298.1 1550.5,311.8" fill="none" stroke="#ff0000" stroke-width="2.0" stroke-linejoin="round" />
<circle cx="1366.3" cy="125.4" r="3.7" fill="#ff0000"/><circle cx="1452.5" cy="204.4" r="3.7" fill="#ff0000"/><circle cx="1522.6" cy="285.5" r="3.7" fill="#ff0000"/><circle cx="1575.5" cy="308.9" r="3.7" fill="#ff0000"/><circle cx="1555.6" cy="298.1" r="3.7" fill="#ff0000"/><circle cx="1550.5" cy="311.8" r="3.7" fill="#ff0000"/>
<polyline points="1366.3,125.4 1458.8,220.6 1550.5,311.8 1575.7,346.4 1523.7,347.4" fill="none" stroke="#ff0000" stroke-width="2.0" stroke-linejoin="round" />
<circle cx="1366.3" cy="125.4" r="3.7" fill="#ff0000"/><circle cx="1458.8" cy="220.6" r="3.7" fill="#ff0000"/><circle cx="1550.5" cy="311.8" r="3.7" fill="#ff0000"/><circle cx="1575.7" cy="346.4" r="3.7" fill="#ff0000"/><circle cx="1523.7" cy="347.4" r="3.7" fill="#ff0000"/>
<polyline points="1513.5,306 1522.6,285.5" fill="none" stroke="#ff0000" stroke-width="2.0" stroke-linejoin="round" />
<circle cx="1513.5" cy="306" r="3.7" fill="#ff0000"/><circle cx="1522.6" cy="285.5" r="3.7" fill="#ff0000"/>
<polyline points="1513.5,306 1510.1,312.1 1517.2,331.2 1524,334.4 1523.7,347.4 1540.8,339.3 1561.8,347.4 1557,355.4" fill="none" stroke="#ff0000" stroke-width="2.0" stroke-linejoin="round" />
<circle cx="1513.5" cy="306" r="3.7" fill="#ff0000"/><circle cx="1510.1" cy="312.1" r="3.7" fill="#ff0000"/><circle cx="1517.2" cy="331.2" r="3.7" fill="#ff0000"/><circle cx="1524" cy="334.4" r="3.7" fill="#ff0000"/><circle cx="1523.7" cy="347.4" r="3.7" fill="#ff0000"/><circle cx="1540.8" cy="339.3" r="3.7" fill="#ff0000"/><circle cx="1561.8" cy="347.4" r="3.7" fill="#ff0000"/><circle cx="1557" cy="355.4" r="3.7" fill="#ff0000"/>
<polyline points="1508.4,339.2 1524.5,335.3 1517.4,331.4 1525.2,351.3 1540.5,339.2 1553.4,342.7 1576.1,346.2 1524.5,348.2 1563.2,347.4 1555.8,353.7 1537,367 1575.4,359.9 1544.8,370.9 1569.9,367 1540.1,362.3 1512.3,365.4 1546.4,366.2 1519.4,362.7 1533.9,367 1503.3,371.3 1515.1,392 1538.6,374.8 1515.8,376.4 1543.2,367.8 1516.6,380.3 1549.5,360.7 1528.4,382.6 1555.8,365.4 1533.9,379.5 1560.5,377.9 1586.3,391.3 1544,379.5 1548.3,384.2 1531.5,370.9 1553.4,390.5 1540.9,354.5 1556.2,396.4 1550,372 1536,372 1542,376 1547,369 1539,369 1529,376 1552,378" fill="none" stroke="#ff0000" stroke-width="2.0" stroke-linejoin="round" />
<circle cx="1508.4" cy="339.2" r="3.7" fill="#ff0000"/><circle cx="1524.5" cy="335.3" r="3.7" fill="#ff0000"/><circle cx="1517.4" cy="331.4" r="3.7" fill="#ff0000"/><circle cx="1525.2" cy="351.3" r="3.7" fill="#ff0000"/><circle cx="1540.5" cy="339.2" r="3.7" fill="#ff0000"/><circle cx="1553.4" cy="342.7" r="3.7" fill="#ff0000"/><circle cx="1576.1" cy="346.2" r="3.7" fill="#ff0000"/><circle cx="1524.5" cy="348.2" r="3.7" fill="#ff0000"/><circle cx="1563.2" cy="347.4" r="3.7" fill="#ff0000"/><circle cx="1555.8" cy="353.7" r="3.7" fill="#ff0000"/><circle cx="1537" cy="367" r="3.7" fill="#ff0000"/><circle cx="1575.4" cy="359.9" r="3.7" fill="#ff0000"/><circle cx="1544.8" cy="370.9" r="3.7" fill="#ff0000"/><circle cx="1569.9" cy="367" r="3.7" fill="#ff0000"/><circle cx="1540.1" cy="362.3" r="3.7" fill="#ff0000"/><circle cx="1512.3" cy="365.4" r="3.7" fill="#ff0000"/><circle cx="1546.4" cy="366.2" r="3.7" fill="#ff0000"/><circle cx="1519.4" cy="362.7" r="3.7" fill="#ff0000"/><circle cx="1533.9" cy="367" r="3.7" fill="#ff0000"/><circle cx="1503.3" cy="371.3" r="3.7" fill="#ff0000"/><circle cx="1515.1" cy="392" r="3.7" fill="#ff0000"/><circle cx="1538.6" cy="374.8" r="3.7" fill="#ff0000"/><circle cx="1515.8" cy="376.4" r="3.7" fill="#ff0000"/><circle cx="1543.2" cy="367.8" r="3.7" fill="#ff0000"/><circle cx="1516.6" cy="380.3" r="3.7" fill="#ff0000"/><circle cx="1549.5" cy="360.7" r="3.7" fill="#ff0000"/><circle cx="1528.4" cy="382.6" r="3.7" fill="#ff0000"/><circle cx="1555.8" cy="365.4" r="3.7" fill="#ff0000"/><circle cx="1533.9" cy="379.5" r="3.7" fill="#ff0000"/><circle cx="1560.5" cy="377.9" r="3.7" fill="#ff0000"/><circle cx="1586.3" cy="391.3" r="3.7" fill="#ff0000"/><circle cx="1544" cy="379.5" r="3.7" fill="#ff0000"/><circle cx="1548.3" cy="384.2" r="3.7" fill="#ff0000"/><circle cx="1531.5" cy="370.9" r="3.7" fill="#ff0000"/><circle cx="1553.4" cy="390.5" r="3.7" fill="#ff0000"/><circle cx="1540.9" cy="354.5" r="3.7" fill="#ff0000"/><circle cx="1556.2" cy="396.4" r="3.7" fill="#ff0000"/><circle cx="1550" cy="372" r="3.7" fill="#ff0000"/><circle cx="1536" cy="372" r="3.7" fill="#ff0000"/><circle cx="1542" cy="376" r="3.7" fill="#ff0000"/><circle cx="1547" cy="369" r="3.7" fill="#ff0000"/><circle cx="1539" cy="369" r="3.7" fill="#ff0000"/><circle cx="1529" cy="376" r="3.7" fill="#ff0000"/><circle cx="1552" cy="378" r="3.7" fill="#ff0000"/>
</g>
<g clip-path="url(#c_h3)">
<polyline points="733.43,931.17 894.35,1078.2 864.62,943.13 895.32,957.02 925.04,971.24 883.04,910.17 927.63,841.34 942.17,826.15 946.05,964.13 909.53,718.55 988.05,923.09 1010.67,863.96 1005.83,813.87 1021.34,828.41 991.29,954.44 1011.32,952.17 1031.68,939.25 1055.91,964.78 1062.7,985.13 1032.32,973.82 1044.6,1015.83 1015.52,1001.94 992.9,1006.14" fill="none" stroke="#0000ff" stroke-width="2.0" stroke-linejoin="round" />
<circle cx="733.43" cy="931.17" r="3.7" fill="#0000ff"/><circle cx="894.35" cy="1078.2" r="3.7" fill="#0000ff"/><circle cx="864.62" cy="943.13" r="3.7" fill="#0000ff"/><circle cx="895.32" cy="957.02" r="3.7" fill="#0000ff"/><circle cx="925.04" cy="971.24" r="3.7" fill="#0000ff"/><circle cx="883.04" cy="910.17" r="3.7" fill="#0000ff"/><circle cx="927.63" cy="841.34" r="3.7" fill="#0000ff"/><circle cx="942.17" cy="826.15" r="3.7" fill="#0000ff"/><circle cx="946.05" cy="964.13" r="3.7" fill="#0000ff"/><circle cx="909.53" cy="718.55" r="3.7" fill="#0000ff"/><circle cx="988.05" cy="923.09" r="3.7" fill="#0000ff"/><circle cx="1010.67" cy="863.96" r="3.7" fill="#0000ff"/><circle cx="1005.83" cy="813.87" r="3.7" fill="#0000ff"/><circle cx="1021.34" cy="828.41" r="3.7" fill="#0000ff"/><circle cx="991.29" cy="954.44" r="3.7" fill="#0000ff"/><circle cx="1011.32" cy="952.17" r="3.7" fill="#0000ff"/><circle cx="1031.68" cy="939.25" r="3.7" fill="#0000ff"/><circle cx="1055.91" cy="964.78" r="3.7" fill="#0000ff"/><circle cx="1062.7" cy="985.13" r="3.7" fill="#0000ff"/><circle cx="1032.32" cy="973.82" r="3.7" fill="#0000ff"/><circle cx="1044.6" cy="1015.83" r="3.7" fill="#0000ff"/><circle cx="1015.52" cy="1001.94" r="3.7" fill="#0000ff"/><circle cx="992.9" cy="1006.14" r="3.7" fill="#0000ff"/>
<polyline points="1010.67,863.96 1027.8,872.04 1042.34,881.08 1013.26,831.64" fill="none" stroke="#0000ff" stroke-width="2.0" stroke-linejoin="round" />
<circle cx="1010.67" cy="863.96" r="3.7" fill="#0000ff"/><circle cx="1027.8" cy="872.04" r="3.7" fill="#0000ff"/><circle cx="1042.34" cy="881.08" r="3.7" fill="#0000ff"/><circle cx="1013.26" cy="831.64" r="3.7" fill="#0000ff"/>
<polyline points="992.9,1006.1 992.6,1010.6 981.2,1012 966.3,1009.9 946.4,999.9 943.2,1011.3 947.1,1025.6 952.8,1022.7 954.9,1001.7 962.7,1017 953.5,1017 959.9,1012 972.7,1019.1 947.4,1028.4 965.6,1022.7 958.5,1019.9 979.1,1026.3 969.9,1014.2 979.8,1019.9 951.4,1039.8 972.7,1019.1 952.4,1045.5 976.3,1034.1 998.3,1056.5 970.6,1031.2 988.4,1015.6 991.2,1022.7 991.2,1027.7 970.6,995.3 975.6,989.3 985.5,981.8 984.8,981.9 986.4,973.8 989.7,964.1 991.3,954.4" fill="none" stroke="#0000ff" stroke-width="2.0" stroke-linejoin="round" />
<circle cx="992.9" cy="1006.1" r="3.7" fill="#0000ff"/><circle cx="992.6" cy="1010.6" r="3.7" fill="#0000ff"/><circle cx="981.2" cy="1012" r="3.7" fill="#0000ff"/><circle cx="966.3" cy="1009.9" r="3.7" fill="#0000ff"/><circle cx="946.4" cy="999.9" r="3.7" fill="#0000ff"/><circle cx="943.2" cy="1011.3" r="3.7" fill="#0000ff"/><circle cx="947.1" cy="1025.6" r="3.7" fill="#0000ff"/><circle cx="952.8" cy="1022.7" r="3.7" fill="#0000ff"/><circle cx="954.9" cy="1001.7" r="3.7" fill="#0000ff"/><circle cx="962.7" cy="1017" r="3.7" fill="#0000ff"/><circle cx="953.5" cy="1017" r="3.7" fill="#0000ff"/><circle cx="959.9" cy="1012" r="3.7" fill="#0000ff"/><circle cx="972.7" cy="1019.1" r="3.7" fill="#0000ff"/><circle cx="947.4" cy="1028.4" r="3.7" fill="#0000ff"/><circle cx="965.6" cy="1022.7" r="3.7" fill="#0000ff"/><circle cx="958.5" cy="1019.9" r="3.7" fill="#0000ff"/><circle cx="979.1" cy="1026.3" r="3.7" fill="#0000ff"/><circle cx="969.9" cy="1014.2" r="3.7" fill="#0000ff"/><circle cx="979.8" cy="1019.9" r="3.7" fill="#0000ff"/><circle cx="951.4" cy="1039.8" r="3.7" fill="#0000ff"/><circle cx="972.7" cy="1019.1" r="3.7" fill="#0000ff"/><circle cx="952.4" cy="1045.5" r="3.7" fill="#0000ff"/><circle cx="976.3" cy="1034.1" r="3.7" fill="#0000ff"/><circle cx="998.3" cy="1056.5" r="3.7" fill="#0000ff"/><circle cx="970.6" cy="1031.2" r="3.7" fill="#0000ff"/><circle cx="988.4" cy="1015.6" r="3.7" fill="#0000ff"/><circle cx="991.2" cy="1022.7" r="3.7" fill="#0000ff"/><circle cx="991.2" cy="1027.7" r="3.7" fill="#0000ff"/><circle cx="970.6" cy="995.3" r="3.7" fill="#0000ff"/><circle cx="975.6" cy="989.3" r="3.7" fill="#0000ff"/><circle cx="985.5" cy="981.8" r="3.7" fill="#0000ff"/><circle cx="984.8" cy="981.9" r="3.7" fill="#0000ff"/><circle cx="986.4" cy="973.8" r="3.7" fill="#0000ff"/><circle cx="989.7" cy="964.1" r="3.7" fill="#0000ff"/><circle cx="991.3" cy="954.4" r="3.7" fill="#0000ff"/>
</g>
<g clip-path="url(#c_h4)">
<polyline points="1518.2,964.13 1431.28,718.55 1477.17,923.09 1482.34,828.41 1452.93,813.87 1438.39,863.96 1429.99,872.04 1421.91,881.08" fill="none" stroke="#0000ff" stroke-width="2.0" stroke-linejoin="round" />
<circle cx="1518.2" cy="964.13" r="3.7" fill="#0000ff"/><circle cx="1431.28" cy="718.55" r="3.7" fill="#0000ff"/><circle cx="1477.17" cy="923.09" r="3.7" fill="#0000ff"/><circle cx="1482.34" cy="828.41" r="3.7" fill="#0000ff"/><circle cx="1452.93" cy="813.87" r="3.7" fill="#0000ff"/><circle cx="1438.39" cy="863.96" r="3.7" fill="#0000ff"/><circle cx="1429.99" cy="872.04" r="3.7" fill="#0000ff"/><circle cx="1421.91" cy="881.08" r="3.7" fill="#0000ff"/>
<polyline points="1438.39,863.96 1472.32,832.29 1439.68,964.13 1435.81,985.13 1433.22,991.6" fill="none" stroke="#0000ff" stroke-width="2.0" stroke-linejoin="round" />
<circle cx="1438.39" cy="863.96" r="3.7" fill="#0000ff"/><circle cx="1472.32" cy="832.29" r="3.7" fill="#0000ff"/><circle cx="1439.68" cy="964.13" r="3.7" fill="#0000ff"/><circle cx="1435.81" cy="985.13" r="3.7" fill="#0000ff"/><circle cx="1433.22" cy="991.6" r="3.7" fill="#0000ff"/>
<polyline points="1461.01,826.15 1470.7,910.17 1469.41,971.24 1462.3,957.02 1455.19,943.13 1446.15,1078.2 1426.76,1026.49 1422.23,1002.91 1397.03,931.17" fill="none" stroke="#0000ff" stroke-width="2.0" stroke-linejoin="round" />
<circle cx="1461.01" cy="826.15" r="3.7" fill="#0000ff"/><circle cx="1470.7" cy="910.17" r="3.7" fill="#0000ff"/><circle cx="1469.41" cy="971.24" r="3.7" fill="#0000ff"/><circle cx="1462.3" cy="957.02" r="3.7" fill="#0000ff"/><circle cx="1455.19" cy="943.13" r="3.7" fill="#0000ff"/><circle cx="1446.15" cy="1078.2" r="3.7" fill="#0000ff"/><circle cx="1426.76" cy="1026.49" r="3.7" fill="#0000ff"/><circle cx="1422.23" cy="1002.91" r="3.7" fill="#0000ff"/><circle cx="1397.03" cy="931.17" r="3.7" fill="#0000ff"/>
<polyline points="1415.77,939.25 1412.22,952.17 1424.5,955.4 1427.73,965.75 1426.11,973.82 1435.81,981.9 1437.42,985.13 1462.3,989.01 1455.19,994.83 1464.24,1006.14 1467.15,1013.57 1469.73,1018.09 1477.17,1023.26 1468.12,1027.14 1469.73,1039.42 1470.7,1045.56 1467.15,1056.22 1469.73,1030.37 1456.81,1027.14 1444.85,1034.25 1451.96,1004.52 1440.65,1014.22 1431.93,1017.45 1426.76,1026.49 1435.81,1004.52 1432.57,993.21 1442.27,1009.37 1455.19,1017.45 1466.5,1020.68 1448.73,1020.68 1439.04,1001.29 1447.11,1012.6 1451.96,1023.91" fill="none" stroke="#0000ff" stroke-width="2.0" stroke-linejoin="round" />
<circle cx="1415.77" cy="939.25" r="3.7" fill="#0000ff"/><circle cx="1412.22" cy="952.17" r="3.7" fill="#0000ff"/><circle cx="1424.5" cy="955.4" r="3.7" fill="#0000ff"/><circle cx="1427.73" cy="965.75" r="3.7" fill="#0000ff"/><circle cx="1426.11" cy="973.82" r="3.7" fill="#0000ff"/><circle cx="1435.81" cy="981.9" r="3.7" fill="#0000ff"/><circle cx="1437.42" cy="985.13" r="3.7" fill="#0000ff"/><circle cx="1462.3" cy="989.01" r="3.7" fill="#0000ff"/><circle cx="1455.19" cy="994.83" r="3.7" fill="#0000ff"/><circle cx="1464.24" cy="1006.14" r="3.7" fill="#0000ff"/><circle cx="1467.15" cy="1013.57" r="3.7" fill="#0000ff"/><circle cx="1469.73" cy="1018.09" r="3.7" fill="#0000ff"/><circle cx="1477.17" cy="1023.26" r="3.7" fill="#0000ff"/><circle cx="1468.12" cy="1027.14" r="3.7" fill="#0000ff"/><circle cx="1469.73" cy="1039.42" r="3.7" fill="#0000ff"/><circle cx="1470.7" cy="1045.56" r="3.7" fill="#0000ff"/><circle cx="1467.15" cy="1056.22" r="3.7" fill="#0000ff"/><circle cx="1469.73" cy="1030.37" r="3.7" fill="#0000ff"/><circle cx="1456.81" cy="1027.14" r="3.7" fill="#0000ff"/><circle cx="1444.85" cy="1034.25" r="3.7" fill="#0000ff"/><circle cx="1451.96" cy="1004.52" r="3.7" fill="#0000ff"/><circle cx="1440.65" cy="1014.22" r="3.7" fill="#0000ff"/><circle cx="1431.93" cy="1017.45" r="3.7" fill="#0000ff"/><circle cx="1426.76" cy="1026.49" r="3.7" fill="#0000ff"/><circle cx="1435.81" cy="1004.52" r="3.7" fill="#0000ff"/><circle cx="1432.57" cy="993.21" r="3.7" fill="#0000ff"/><circle cx="1442.27" cy="1009.37" r="3.7" fill="#0000ff"/><circle cx="1455.19" cy="1017.45" r="3.7" fill="#0000ff"/><circle cx="1466.5" cy="1020.68" r="3.7" fill="#0000ff"/><circle cx="1448.73" cy="1020.68" r="3.7" fill="#0000ff"/><circle cx="1439.04" cy="1001.29" r="3.7" fill="#0000ff"/><circle cx="1447.11" cy="1012.6" r="3.7" fill="#0000ff"/><circle cx="1451.96" cy="1023.91" r="3.7" fill="#0000ff"/>
<polyline points="1432,1002.8 1432,1017.7 1437,1022.7 1442.7,1007 1446.3,1003.5 1449.8,1012 1445.6,1017 1442.7,1022.7 1451.2,1028.4 1456.9,1029.1 1455.5,1009.9 1464,1013.5 1467.6,1018.4 1439.9,1012 1449.1,1022.7 1454.1,1019.9 1460.5,1025.6 1444.1,1000 1435.6,995.7 1434.2,991.4 1455.5,995" fill="none" stroke="#0000ff" stroke-width="2.0" stroke-linejoin="round" />
<circle cx="1432" cy="1002.8" r="3.7" fill="#0000ff"/><circle cx="1432" cy="1017.7" r="3.7" fill="#0000ff"/><circle cx="1437" cy="1022.7" r="3.7" fill="#0000ff"/><circle cx="1442.7" cy="1007" r="3.7" fill="#0000ff"/><circle cx="1446.3" cy="1003.5" r="3.7" fill="#0000ff"/><circle cx="1449.8" cy="1012" r="3.7" fill="#0000ff"/><circle cx="1445.6" cy="1017" r="3.7" fill="#0000ff"/><circle cx="1442.7" cy="1022.7" r="3.7" fill="#0000ff"/><circle cx="1451.2" cy="1028.4" r="3.7" fill="#0000ff"/><circle cx="1456.9" cy="1029.1" r="3.7" fill="#0000ff"/><circle cx="1455.5" cy="1009.9" r="3.7" fill="#0000ff"/><circle cx="1464" cy="1013.5" r="3.7" fill="#0000ff"/><circle cx="1467.6" cy="1018.4" r="3.7" fill="#0000ff"/><circle cx="1439.9" cy="1012" r="3.7" fill="#0000ff"/><circle cx="1449.1" cy="1022.7" r="3.7" fill="#0000ff"/><circle cx="1454.1" cy="1019.9" r="3.7" fill="#0000ff"/><circle cx="1460.5" cy="1025.6" r="3.7" fill="#0000ff"/><circle cx="1444.1" cy="1000" r="3.7" fill="#0000ff"/><circle cx="1435.6" cy="995.7" r="3.7" fill="#0000ff"/><circle cx="1434.2" cy="991.4" r="3.7" fill="#0000ff"/><circle cx="1455.5" cy="995" r="3.7" fill="#0000ff"/>
</g>
<rect x="1007" y="91" width="112.9" height="58.3" fill="#fff" stroke="#000" stroke-width="1.5"/>
<line x1="1017.4" y1="107.3" x2="1037.5" y2="107.3" stroke="#0000ff" stroke-width="2.0" />
<circle cx="1017.4" cy="107.3" r="3.7" fill="#0000ff"/><circle cx="1037.5" cy="107.3" r="3.7" fill="#0000ff"/>
<line x1="1017.4" y1="131.4" x2="1037.5" y2="131.4" stroke="#ff0000" stroke-width="2.0" />
<circle cx="1017.4" cy="131.4" r="3.7" fill="#ff0000"/><circle cx="1037.5" cy="131.4" r="3.7" fill="#ff0000"/>
<text x="1054.8" y="110.8" font-size="13.5" text-anchor="start" textLength="13.9" lengthAdjust="spacingAndGlyphs">B/</text>
<path d="M1069.3,104.5 L1071.1,103.3 L1074.1,112.6 L1078.4,99.3 L1109.3,99.3" fill="none" stroke="#000" stroke-width="0.9"/>
<text x="1083.3" y="110.8" font-size="13.5" text-anchor="start" style='font-family:"Liberation Serif", serif;font-style:italic;'>μ</text>
<text x="1091.1" y="113.3" font-size="9.5" text-anchor="start" style='font-family:"Liberation Serif", serif;'>0</text>
<text x="1097.1" y="110.8" font-size="13.5" text-anchor="start" style='font-family:"Liberation Serif", serif;font-style:italic;'>ρ</text>
<text x="1054.8" y="135.8" font-size="13.5" text-anchor="start" textLength="9" lengthAdjust="spacingAndGlyphs">V</text>
<text x="1063.8" y="137.7" font-size="10.2" text-anchor="start" textLength="48.6" lengthAdjust="spacingAndGlyphs" style='font-family:"Liberation Serif", serif;font-style:italic;'>remaining</text>
<rect x="1563" y="91" width="112.9" height="58.3" fill="#fff" stroke="#000" stroke-width="1.5"/>
<line x1="1573.4" y1="107.3" x2="1593.5" y2="107.3" stroke="#0000ff" stroke-width="2.0" />
<circle cx="1573.4" cy="107.3" r="3.7" fill="#0000ff"/><circle cx="1593.5" cy="107.3" r="3.7" fill="#0000ff"/>
<line x1="1573.4" y1="131.4" x2="1593.5" y2="131.4" stroke="#ff0000" stroke-width="2.0" />
<circle cx="1573.4" cy="131.4" r="3.7" fill="#ff0000"/><circle cx="1593.5" cy="131.4" r="3.7" fill="#ff0000"/>
<text x="1610.8" y="110.8" font-size="13.5" text-anchor="start" textLength="13.9" lengthAdjust="spacingAndGlyphs">B/</text>
<path d="M1625.3,104.5 L1627.1,103.3 L1630.1,112.6 L1634.4,99.3 L1665.3,99.3" fill="none" stroke="#000" stroke-width="0.9"/>
<text x="1639.3" y="110.8" font-size="13.5" text-anchor="start" style='font-family:"Liberation Serif", serif;font-style:italic;'>μ</text>
<text x="1647.1" y="113.3" font-size="9.5" text-anchor="start" style='font-family:"Liberation Serif", serif;'>0</text>
<text x="1653.1" y="110.8" font-size="13.5" text-anchor="start" style='font-family:"Liberation Serif", serif;font-style:italic;'>ρ</text>
<text x="1610.8" y="135.8" font-size="13.5" text-anchor="start" textLength="9" lengthAdjust="spacingAndGlyphs">V</text>
<text x="1619.8" y="137.7" font-size="10.2" text-anchor="start" textLength="48.6" lengthAdjust="spacingAndGlyphs" style='font-family:"Liberation Serif", serif;font-style:italic;'>remaining</text>
<text x="686" y="515.9" font-size="20.5" text-anchor="start" style='font-family:"Liberation Serif", serif;font-style:italic;'>λ</text>
<text x="695.3" y="518.5" font-size="13.5" text-anchor="start" style='font-family:"Liberation Serif", serif;'>1</text>
<text x="705" y="515.9" font-size="20.5" text-anchor="start" style='font-family:"Liberation Serif", serif;font-style:italic;'>/</text>
<text x="714" y="515.9" font-size="20.5" text-anchor="start" style='font-family:"Liberation Serif", serif;font-style:italic;'>λ</text>
<text x="723.3" y="518.5" font-size="13.5" text-anchor="start" style='font-family:"Liberation Serif", serif;'>2</text>
<text x="735.5" y="515.9" font-size="20.5" text-anchor="start" textLength="13.8" lengthAdjust="spacingAndGlyphs" style='font-family:"Liberation Serif", serif;'>≈</text>
<text x="757.7" y="515.9" font-size="20.3" text-anchor="start" textLength="50.3" lengthAdjust="spacingAndGlyphs">14.89</text>
<text x="1262" y="515.9" font-size="20.5" text-anchor="start" style='font-family:"Liberation Serif", serif;font-style:italic;'>λ</text>
<text x="1271.3" y="518.5" font-size="13.5" text-anchor="start" style='font-family:"Liberation Serif", serif;'>1</text>
<text x="1281" y="515.9" font-size="20.5" text-anchor="start" style='font-family:"Liberation Serif", serif;font-style:italic;'>/</text>
<text x="1290" y="515.9" font-size="20.5" text-anchor="start" style='font-family:"Liberation Serif", serif;font-style:italic;'>λ</text>
<text x="1299.3" y="518.5" font-size="13.5" text-anchor="start" style='font-family:"Liberation Serif", serif;'>3</text>
<text x="1311.5" y="515.9" font-size="20.5" text-anchor="start" textLength="13.8" lengthAdjust="spacingAndGlyphs" style='font-family:"Liberation Serif", serif;'>≈</text>
<text x="1333.7" y="515.9" font-size="20.3" text-anchor="start" textLength="39" lengthAdjust="spacingAndGlyphs">48.7</text>
<text x="686" y="1094" font-size="20.5" text-anchor="start" style='font-family:"Liberation Serif", serif;font-style:italic;'>λ</text>
<text x="695.3" y="1096.6" font-size="13.5" text-anchor="start" style='font-family:"Liberation Serif", serif;'>1</text>
<text x="705" y="1094" font-size="20.5" text-anchor="start" style='font-family:"Liberation Serif", serif;font-style:italic;'>/</text>
<text x="714" y="1094" font-size="20.5" text-anchor="start" style='font-family:"Liberation Serif", serif;font-style:italic;'>λ</text>
<text x="723.3" y="1096.6" font-size="13.5" text-anchor="start" style='font-family:"Liberation Serif", serif;'>2</text>
<text x="735.5" y="1094" font-size="20.5" text-anchor="start" textLength="13.8" lengthAdjust="spacingAndGlyphs" style='font-family:"Liberation Serif", serif;'>≈</text>
<text x="757.7" y="1094" font-size="20.3" text-anchor="start" textLength="39" lengthAdjust="spacingAndGlyphs">2.07</text>
<text x="1262" y="1094" font-size="20.5" text-anchor="start" style='font-family:"Liberation Serif", serif;font-style:italic;'>λ</text>
<text x="1271.3" y="1096.6" font-size="13.5" text-anchor="start" style='font-family:"Liberation Serif", serif;'>1</text>
<text x="1281" y="1094" font-size="20.5" text-anchor="start" style='font-family:"Liberation Serif", serif;font-style:italic;'>/</text>
<text x="1290" y="1094" font-size="20.5" text-anchor="start" style='font-family:"Liberation Serif", serif;font-style:italic;'>λ</text>
<text x="1299.3" y="1096.6" font-size="13.5" text-anchor="start" style='font-family:"Liberation Serif", serif;'>3</text>
<text x="1311.5" y="1094" font-size="20.5" text-anchor="start" textLength="13.8" lengthAdjust="spacingAndGlyphs" style='font-family:"Liberation Serif", serif;'>≈</text>
<text x="1333.7" y="1094" font-size="20.3" text-anchor="start" textLength="50.3" lengthAdjust="spacingAndGlyphs">12.32</text>
<g clip-path="url(#c_wt)">
<circle cx="356.58" cy="846.26" r="5.1" fill="#ff0000"/><circle cx="377.93" cy="869.32" r="5.1" fill="#ff0000"/><circle cx="401.42" cy="921.85" r="5.1" fill="#ff0000"/><circle cx="403.55" cy="832.17" r="5.1" fill="#ff0000"/><circle cx="421.92" cy="809.96" r="5.1" fill="#ff0000"/><circle cx="429.18" cy="820.21" r="5.1" fill="#ff0000"/><circle cx="432.16" cy="852.67" r="5.1" fill="#ff0000"/><circle cx="427.04" cy="871.03" r="5.1" fill="#ff0000"/><circle cx="428.32" cy="886.83" r="5.1" fill="#ff0000"/><circle cx="435.58" cy="787.33" r="5.1" fill="#ff0000"/><circle cx="435.58" cy="798" r="5.1" fill="#ff0000"/><circle cx="439.85" cy="809.11" r="5.1" fill="#ff0000"/><circle cx="453.94" cy="809.96" r="5.1" fill="#ff0000"/><circle cx="459.07" cy="819.36" r="5.1" fill="#ff0000"/><circle cx="452.66" cy="847.11" r="5.1" fill="#ff0000"/><circle cx="451.81" cy="859.07" r="5.1" fill="#ff0000"/><circle cx="458.21" cy="903.48" r="5.1" fill="#ff0000"/><circle cx="481.27" cy="905.19" r="5.1" fill="#ff0000"/><circle cx="540.21" cy="887.68" r="5.1" fill="#ff0000"/><circle cx="538.07" cy="894.09" r="5.1" fill="#ff0000"/><circle cx="559.42" cy="889.82" r="5.1" fill="#ff0000"/><circle cx="563.69" cy="892.81" r="5.1" fill="#ff0000"/><circle cx="548.75" cy="898.36" r="5.1" fill="#ff0000"/><circle cx="567.96" cy="903.91" r="5.1" fill="#ff0000"/><circle cx="529.53" cy="919.71" r="5.1" fill="#ff0000"/><circle cx="527.39" cy="930.39" r="5.1" fill="#ff0000"/><circle cx="533.8" cy="934.66" r="5.1" fill="#ff0000"/><circle cx="544.48" cy="936.79" r="5.1" fill="#ff0000"/><circle cx="550.88" cy="934.66" r="5.1" fill="#ff0000"/><circle cx="559.42" cy="946.61" r="5.1" fill="#ff0000"/><circle cx="563.69" cy="923.98" r="5.1" fill="#ff0000"/><circle cx="567.96" cy="926.12" r="5.1" fill="#ff0000"/><circle cx="555.15" cy="913.31" r="5.1" fill="#ff0000"/><circle cx="546.61" cy="909.04" r="5.1" fill="#ff0000"/><circle cx="538.07" cy="913.31" r="5.1" fill="#ff0000"/><circle cx="542.34" cy="921.85" r="5.1" fill="#ff0000"/><circle cx="555.15" cy="926.12" r="5.1" fill="#ff0000"/><circle cx="533.8" cy="913.31" r="5.1" fill="#ff0000"/><circle cx="550.88" cy="919.71" r="5.1" fill="#ff0000"/><circle cx="561.56" cy="913.31" r="5.1" fill="#ff0000"/><circle cx="542.34" cy="928.25" r="5.1" fill="#ff0000"/><circle cx="567.96" cy="915.44" r="5.1" fill="#ff0000"/><circle cx="531.67" cy="923.98" r="5.1" fill="#ff0000"/><circle cx="544.48" cy="904.76" r="5.1" fill="#ff0000"/><circle cx="555.15" cy="904.76" r="5.1" fill="#ff0000"/><circle cx="563.69" cy="909.04" r="5.1" fill="#ff0000"/><circle cx="537.9" cy="917.3" r="5.1" fill="#ff0000"/><circle cx="545.9" cy="925.4" r="5.1" fill="#ff0000"/><circle cx="554" cy="917.3" r="5.1" fill="#ff0000"/><circle cx="562.1" cy="922.2" r="5.1" fill="#ff0000"/><circle cx="567" cy="925.4" r="5.1" fill="#ff0000"/><circle cx="550.8" cy="933.5" r="5.1" fill="#ff0000"/><circle cx="542.7" cy="909.2" r="5.1" fill="#ff0000"/><circle cx="557.3" cy="909.2" r="5.1" fill="#ff0000"/><circle cx="533" cy="922.2" r="5.1" fill="#ff0000"/>
<circle cx="333.09" cy="728.4" r="5.1" fill="#008000"/><circle cx="362.98" cy="893.23" r="5.1" fill="#008000"/><circle cx="362.98" cy="908.18" r="5.1" fill="#008000"/><circle cx="282.7" cy="923.98" r="5.1" fill="#008000"/><circle cx="305.33" cy="929.11" r="5.1" fill="#008000"/><circle cx="308.75" cy="964.55" r="5.1" fill="#008000"/><circle cx="264.76" cy="972.24" r="5.1" fill="#008000"/><circle cx="264.76" cy="985.9" r="5.1" fill="#008000"/><circle cx="259.64" cy="1000.85" r="5.1" fill="#008000"/><circle cx="257.08" cy="1045.69" r="5.1" fill="#008000"/><circle cx="256.22" cy="1099.92" r="5.1" fill="#008000"/><circle cx="237.01" cy="976.51" r="5.1" fill="#008000"/><circle cx="228.47" cy="972.24" r="5.1" fill="#008000"/><circle cx="217.79" cy="970.96" r="5.1" fill="#008000"/><circle cx="208.4" cy="973.09" r="5.1" fill="#008000"/><circle cx="211.38" cy="982.91" r="5.1" fill="#008000"/><circle cx="222.06" cy="985.9" r="5.1" fill="#008000"/><circle cx="216.94" cy="991.03" r="5.1" fill="#008000"/><circle cx="229.75" cy="1012.81" r="5.1" fill="#008000"/><circle cx="215.66" cy="1037.15" r="5.1" fill="#008000"/><circle cx="200.71" cy="1041.42" r="5.1" fill="#008000"/><circle cx="190.03" cy="1032.02" r="5.1" fill="#008000"/><circle cx="175.09" cy="1032.02" r="5.1" fill="#008000"/><circle cx="180.64" cy="1034.16" r="5.1" fill="#008000"/><circle cx="183.63" cy="1054.23" r="5.1" fill="#008000"/><circle cx="170.82" cy="1057.65" r="5.1" fill="#008000"/><circle cx="184.91" cy="1073.02" r="5.1" fill="#008000"/><circle cx="209.25" cy="1076.44" r="5.1" fill="#008000"/><circle cx="157.15" cy="1080.71" r="5.1" fill="#008000"/><circle cx="172.1" cy="1081.13" r="5.1" fill="#008000"/><circle cx="166.55" cy="1089.25" r="5.1" fill="#008000"/><circle cx="187.9" cy="1087.11" r="5.1" fill="#008000"/><circle cx="213.52" cy="1087.54" r="5.1" fill="#008000"/><circle cx="160.57" cy="1107.61" r="5.1" fill="#008000"/><circle cx="190.03" cy="1101.2" r="5.1" fill="#008000"/><circle cx="175.09" cy="1114.01" r="5.1" fill="#008000"/><circle cx="194.3" cy="1011.52" r="5.1" fill="#008000"/><circle cx="198.57" cy="1005.12" r="5.1" fill="#008000"/><circle cx="204.98" cy="1007.25" r="5.1" fill="#008000"/><circle cx="200.71" cy="1015.8" r="5.1" fill="#008000"/><circle cx="209.25" cy="1011.52" r="5.1" fill="#008000"/><circle cx="213.52" cy="1017.93" r="5.1" fill="#008000"/><circle cx="196.44" cy="1022.2" r="5.1" fill="#008000"/><circle cx="202.84" cy="1024.34" r="5.1" fill="#008000"/><circle cx="207.11" cy="1026.47" r="5.1" fill="#008000"/><circle cx="217.79" cy="1015.8" r="5.1" fill="#008000"/><circle cx="222.06" cy="1009.39" r="5.1" fill="#008000"/><circle cx="190.03" cy="1016.65" r="5.1" fill="#008000"/><circle cx="211.38" cy="998.71" r="5.1" fill="#008000"/><circle cx="207.11" cy="997.86" r="5.1" fill="#008000"/><circle cx="202.84" cy="1000.85" r="5.1" fill="#008000"/><circle cx="196.44" cy="996.58" r="5.1" fill="#008000"/><circle cx="192.17" cy="1026.47" r="5.1" fill="#008000"/><circle cx="200.71" cy="1032.88" r="5.1" fill="#008000"/><circle cx="213.52" cy="1030.74" r="5.1" fill="#008000"/><circle cx="204.98" cy="1037.15" r="5.1" fill="#008000"/><circle cx="217.79" cy="1007.25" r="5.1" fill="#008000"/><circle cx="224.2" cy="1000.85" r="5.1" fill="#008000"/><circle cx="219.93" cy="1023.48" r="5.1" fill="#008000"/><circle cx="209.25" cy="1022.2" r="5.1" fill="#008000"/><circle cx="202.6" cy="996.9" r="5.1" fill="#008000"/><circle cx="207.5" cy="1003.4" r="5.1" fill="#008000"/><circle cx="201" cy="1013.1" r="5.1" fill="#008000"/><circle cx="213.9" cy="1009.9" r="5.1" fill="#008000"/><circle cx="220.4" cy="1013.1" r="5.1" fill="#008000"/><circle cx="210.7" cy="1019.5" r="5.1" fill="#008000"/><circle cx="197.8" cy="1022.8" r="5.1" fill="#008000"/><circle cx="192.9" cy="1016.3" r="5.1" fill="#008000"/><circle cx="205.9" cy="1006.6" r="5.1" fill="#008000"/>
<circle cx="256.22" cy="665.62" r="5.1" fill="#0000ff"/><circle cx="136.65" cy="880.42" r="5.1" fill="#0000ff"/><circle cx="118.72" cy="926.12" r="5.1" fill="#0000ff"/><circle cx="166.55" cy="946.19" r="5.1" fill="#0000ff"/><circle cx="129.39" cy="1072.59" r="5.1" fill="#0000ff"/><circle cx="193.45" cy="965.83" r="5.1" fill="#0000ff"/><circle cx="222.91" cy="896.22" r="5.1" fill="#0000ff"/><circle cx="241.28" cy="802.28" r="5.1" fill="#0000ff"/><circle cx="248.11" cy="823.63" r="5.1" fill="#0000ff"/><circle cx="255.37" cy="817.22" r="5.1" fill="#0000ff"/><circle cx="278.43" cy="787.33" r="5.1" fill="#0000ff"/><circle cx="307.47" cy="843.27" r="5.1" fill="#0000ff"/><circle cx="315.16" cy="836.44" r="5.1" fill="#0000ff"/><circle cx="326.26" cy="816.37" r="5.1" fill="#0000ff"/><circle cx="340.35" cy="849.25" r="5.1" fill="#0000ff"/><circle cx="254.52" cy="918.86" r="5.1" fill="#0000ff"/><circle cx="247.68" cy="980.78" r="5.1" fill="#0000ff"/><circle cx="323.27" cy="948.32" r="5.1" fill="#0000ff"/><circle cx="345.05" cy="963.27" r="5.1" fill="#0000ff"/><circle cx="353.59" cy="953.02" r="5.1" fill="#0000ff"/><circle cx="354.44" cy="931.24" r="5.1" fill="#0000ff"/><circle cx="356.58" cy="923.13" r="5.1" fill="#0000ff"/><circle cx="358.71" cy="910.74" r="5.1" fill="#0000ff"/><circle cx="365.12" cy="946.61" r="5.1" fill="#0000ff"/><circle cx="366.4" cy="959.43" r="5.1" fill="#0000ff"/><circle cx="368.11" cy="972.24" r="5.1" fill="#0000ff"/><circle cx="372.38" cy="990.17" r="5.1" fill="#0000ff"/><circle cx="382.2" cy="1010.67" r="5.1" fill="#0000ff"/><circle cx="315.16" cy="1013.66" r="5.1" fill="#0000ff"/><circle cx="321.13" cy="1019.21" r="5.1" fill="#0000ff"/><circle cx="323.27" cy="1027.33" r="5.1" fill="#0000ff"/><circle cx="320.28" cy="1034.59" r="5.1" fill="#0000ff"/><circle cx="327.54" cy="1044.41" r="5.1" fill="#0000ff"/><circle cx="321.13" cy="1049.96" r="5.1" fill="#0000ff"/><circle cx="319.43" cy="1062.77" r="5.1" fill="#0000ff"/><circle cx="337.36" cy="1023.48" r="5.1" fill="#0000ff"/><circle cx="337.36" cy="1029.89" r="5.1" fill="#0000ff"/><circle cx="335.23" cy="979.5" r="5.1" fill="#0000ff"/><circle cx="341.63" cy="980.78" r="5.1" fill="#0000ff"/><circle cx="339.5" cy="994.44" r="5.1" fill="#0000ff"/><circle cx="346.76" cy="985.9" r="5.1" fill="#0000ff"/><circle cx="356.58" cy="979.5" r="5.1" fill="#0000ff"/><circle cx="365.12" cy="973.95" r="5.1" fill="#0000ff"/><circle cx="350.17" cy="1000.85" r="5.1" fill="#0000ff"/><circle cx="354.44" cy="1007.25" r="5.1" fill="#0000ff"/><circle cx="356.58" cy="1015.8" r="5.1" fill="#0000ff"/><circle cx="362.98" cy="1011.52" r="5.1" fill="#0000ff"/><circle cx="369.39" cy="1002.98" r="5.1" fill="#0000ff"/><circle cx="375.8" cy="1009.39" r="5.1" fill="#0000ff"/><circle cx="345.9" cy="1005.12" r="5.1" fill="#0000ff"/><circle cx="358.71" cy="998.71" r="5.1" fill="#0000ff"/><circle cx="370.67" cy="986.76" r="5.1" fill="#0000ff"/><circle cx="362.98" cy="985.9" r="5.1" fill="#0000ff"/><circle cx="337.36" cy="1002.98" r="5.1" fill="#0000ff"/><circle cx="335.23" cy="996.58" r="5.1" fill="#0000ff"/><circle cx="371.52" cy="1020.07" r="5.1" fill="#0000ff"/><circle cx="358.71" cy="1026.47" r="5.1" fill="#0000ff"/><circle cx="354.44" cy="1020.07" r="5.1" fill="#0000ff"/><circle cx="386.47" cy="1011.52" r="5.1" fill="#0000ff"/><circle cx="377.93" cy="1007.25" r="5.1" fill="#0000ff"/><circle cx="350.17" cy="1015.8" r="5.1" fill="#0000ff"/><circle cx="341.63" cy="1011.52" r="5.1" fill="#0000ff"/><circle cx="362.98" cy="1024.34" r="5.1" fill="#0000ff"/><circle cx="367.25" cy="1026.47" r="5.1" fill="#0000ff"/><circle cx="356.58" cy="1022.2" r="5.1" fill="#0000ff"/>
<line x1="117" y1="1027.6" x2="571" y2="900" stroke="#000" stroke-width="2.0" stroke-dasharray="12.5 12.5"/>
</g>
<rect x="125.1" y="669" width="137.5" height="71.8" fill="#fff" stroke="#000" stroke-width="2"/>
<text x="128.1" y="686.1" font-size="19" text-anchor="start" textLength="130.3" lengthAdjust="spacingAndGlyphs">slope = 0.283</text>
<text x="128.1" y="708.3" font-size="19" text-anchor="start" style='font-family:"Liberation Serif", serif;font-style:italic;'>r</text>
<text x="142" y="708.3" font-size="19" text-anchor="start" textLength="73" lengthAdjust="spacingAndGlyphs">= 0.532</text>
<text x="128.1" y="729.7" font-size="19" text-anchor="start" style='font-family:"Liberation Serif", serif;font-style:italic;'>M</text>
<text x="144.5" y="732.5" font-size="13" text-anchor="start" style='font-family:"Liberation Serif", serif;font-style:italic;'>A</text>
<text x="163" y="729.7" font-size="19" text-anchor="start" textLength="73" lengthAdjust="spacingAndGlyphs">= 0.483</text>
<rect x="1603.6" y="1311.8" width="72.6" height="69.4" fill="#fff" stroke="#000" stroke-width="1.8"/>
<line x1="1613" y1="1323.7" x2="1636.1" y2="1323.7" stroke="#ff0000" stroke-width="2.0" />
<text x="1651.6" y="1328.7" font-size="13.3" text-anchor="start">Br</text>
<line x1="1613" y1="1345.2" x2="1636.1" y2="1345.2" stroke="#008000" stroke-width="2.0" />
<text x="1651.6" y="1350.2" font-size="13.3" text-anchor="start">Bt</text>
<line x1="1613" y1="1366.7" x2="1636.1" y2="1366.7" stroke="#0000ff" stroke-width="2.0" />
<text x="1651.6" y="1371.7" font-size="13.3" text-anchor="start">Bn</text>
<rect x="1601" y="1646.2" width="75" height="89.5" fill="#fff" stroke="#000" stroke-width="1.8"/>
<line x1="1610.4" y1="1658.1" x2="1633.5" y2="1658.1" stroke="#ff0000" stroke-width="2.0" />
<text x="1649" y="1663.1" font-size="13.3" text-anchor="start">Bx'</text>
<line x1="1610.4" y1="1679.1" x2="1633.5" y2="1679.1" stroke="#008000" stroke-width="2.0" />
<text x="1649" y="1684.1" font-size="13.3" text-anchor="start">By'</text>
<line x1="1610.4" y1="1700.1" x2="1633.5" y2="1700.1" stroke="#0000ff" stroke-width="2.0" />
<text x="1649" y="1705.1" font-size="13.3" text-anchor="start">Bz'</text>
<line x1="1610.4" y1="1721.1" x2="1633.5" y2="1721.1" stroke="#000000" stroke-width="2.0" />
<text x="1649" y="1726.1" font-size="13.3" text-anchor="start">|B|</text>
<rect x="1603.9" y="1978.9" width="72.1" height="69" fill="#fff" stroke="#000" stroke-width="1.8"/>
<line x1="1613.3" y1="1990.8" x2="1636.4" y2="1990.8" stroke="#ff0000" stroke-width="2.0" />
<text x="1651.9" y="1995.8" font-size="13.3" text-anchor="start">Vr</text>
<line x1="1613.3" y1="2012.35" x2="1636.4" y2="2012.35" stroke="#008000" stroke-width="2.0" />
<text x="1651.9" y="2017.35" font-size="13.3" text-anchor="start">Vt</text>
<line x1="1613.3" y1="2033.9" x2="1636.4" y2="2033.9" stroke="#0000ff" stroke-width="2.0" />
<text x="1651.9" y="2038.9" font-size="13.3" text-anchor="start">Vn</text>
<rect x="123.7" y="2979.6" width="71.2" height="26.2" fill="#fff" stroke="#000" stroke-width="1.9"/>
<line x1="134.3" y1="2991.8" x2="155.8" y2="2991.8" stroke="#0000ff" stroke-width="2.0" />
<text x="171" y="2997.5" font-size="14.2" text-anchor="start" textLength="18" lengthAdjust="spacingAndGlyphs">Tp</text>
<text x="61.3" y="1418.5" font-size="17.2" text-anchor="middle" textLength="45" lengthAdjust="spacingAndGlyphs" transform="rotate(-90 61.3 1418.5)">B(nT)</text>
<text x="61" y="1752" font-size="17.2" text-anchor="middle" textLength="45" lengthAdjust="spacingAndGlyphs" transform="rotate(-90 61 1752)">B(nT)</text>
<text x="49" y="2085.5" font-size="17.2" text-anchor="middle" textLength="87" lengthAdjust="spacingAndGlyphs" transform="rotate(-90 49 2085.5)">Vsw(km/s)</text>
<text x="64" y="2752" font-size="17.2" text-anchor="middle" textLength="73.62" lengthAdjust="spacingAndGlyphs" transform="rotate(-90 64 2752)">Np(#/cc)</text>
<g transform="rotate(-90 60 2417)">
<text x="55" y="2418" font-size="17" text-anchor="start" style='font-family:"Liberation Serif", serif;font-style:italic;' fill="#333">β</text>
<text x="64" y="2421" font-size="11.5" text-anchor="start" style='font-family:"Liberation Serif", serif;font-style:italic;' fill="#333">p</text>
</g>
<g transform="rotate(-90 54 3083)">
<text x="17.5" y="3083" font-size="17.2" text-anchor="start" textLength="27" lengthAdjust="spacingAndGlyphs">Tp(</text>
<text x="45" y="3083" font-size="17.5" text-anchor="start" textLength="16" lengthAdjust="spacingAndGlyphs" style='font-family:"Liberation Serif", serif;'>10</text>
<text x="62" y="3076" font-size="12" text-anchor="start" style='font-family:"Liberation Serif", serif;'>6</text>
<text x="69.5" y="3083" font-size="17.5" text-anchor="start" textLength="11" lengthAdjust="spacingAndGlyphs" style='font-family:"Liberation Serif", serif;'>K</text>
<text x="81" y="3083" font-size="17.2" text-anchor="start" textLength="5.5" lengthAdjust="spacingAndGlyphs">)</text>
</g>
<text x="728" y="2961.2" font-size="24.2" text-anchor="start" textLength="282" lengthAdjust="spacingAndGlyphs">Proton Temperature and</text>
<text x="1016" y="2961.2" font-size="23.5" text-anchor="start" style='font-family:"Liberation Serif", serif;font-style:italic;'>T</text>
<text x="1030" y="2964.5" font-size="15.5" text-anchor="start" style='font-family:"Liberation Serif", serif;font-style:italic;'>e</text>
<text x="1039" y="2961.2" font-size="23.5" text-anchor="start" style='font-family:"Liberation Serif", serif;font-style:italic;'>/</text>
<text x="1050" y="2961.2" font-size="23.5" text-anchor="start" style='font-family:"Liberation Serif", serif;font-style:italic;'>T</text>
<text x="1064" y="2964.5" font-size="15.5" text-anchor="start" style='font-family:"Liberation Serif", serif;font-style:italic;'>p</text>
<text x="679.8" y="650" font-size="24.2" text-anchor="start" textLength="280.8" lengthAdjust="spacingAndGlyphs">Hodogram (V2_V1 MVAV</text>
<text x="962.4" y="652.8" font-size="15.5" text-anchor="start" textLength="75.1" lengthAdjust="spacingAndGlyphs" style='font-family:"Liberation Serif", serif;font-style:italic;'>remaining</text>
<text x="1046.1" y="650" font-size="24.2" text-anchor="start" textLength="75.8" lengthAdjust="spacingAndGlyphs">frame)</text>
<text x="1235.8" y="650" font-size="24.2" text-anchor="start" textLength="280.8" lengthAdjust="spacingAndGlyphs">Hodogram (V3_V1 MVAV</text>
<text x="1518.4" y="652.8" font-size="15.5" text-anchor="start" textLength="75.1" lengthAdjust="spacingAndGlyphs" style='font-family:"Liberation Serif", serif;font-style:italic;'>remaining</text>
<text x="1602.1" y="650" font-size="24.2" text-anchor="start" textLength="75.8" lengthAdjust="spacingAndGlyphs">frame)</text>
<text x="307.4" y="1163" font-size="17.2" text-anchor="start" textLength="11.5" lengthAdjust="spacingAndGlyphs">V</text>
<text x="319.5" y="1164.5" font-size="11.5" text-anchor="start" style='font-family:"Liberation Serif", serif;font-style:italic;'>A</text>
<text x="329.2" y="1163" font-size="17.2" text-anchor="start" textLength="51.2" lengthAdjust="spacingAndGlyphs">(km/s)</text>
<g transform="rotate(-90 55 889)">
<text x="-4.8" y="889" font-size="17.2" text-anchor="start" textLength="11.5" lengthAdjust="spacingAndGlyphs">V</text>
<text x="7.7" y="890.8" font-size="11.5" text-anchor="start" textLength="53.8" lengthAdjust="spacingAndGlyphs" style='font-family:"Liberation Serif", serif;font-style:italic;'>remaining</text>
<text x="62.6" y="889" font-size="17.2" text-anchor="start" textLength="50.5" lengthAdjust="spacingAndGlyphs">(km/s)</text>
</g>
<rect x="117" y="1305" width="1566" height="222" fill="none" stroke="#000" stroke-width="2.0"/>
<rect x="117" y="1639" width="1566" height="222" fill="none" stroke="#000" stroke-width="2.0"/>
<rect x="117" y="1972" width="1566" height="222" fill="none" stroke="#000" stroke-width="2.0"/>
<rect x="117" y="2306" width="1566" height="222" fill="none" stroke="#000" stroke-width="2.0"/>
<rect x="117" y="2639" width="1566" height="222" fill="none" stroke="#000" stroke-width="2.0"/>
<rect x="117" y="2973" width="1566" height="222" fill="none" stroke="#000" stroke-width="2.0"/>
<rect x="117" y="84" width="454" height="454" fill="none" stroke="#000" stroke-width="2.0"/>
<rect x="673" y="84" width="454" height="454" fill="none" stroke="#000" stroke-width="2.0"/>
<rect x="1229" y="84" width="454" height="454" fill="none" stroke="#000" stroke-width="2.0"/>
<rect x="117" y="662" width="454" height="454" fill="none" stroke="#000" stroke-width="2.0"/>
<rect x="673" y="662" width="454" height="454" fill="none" stroke="#000" stroke-width="2.0"/>
<rect x="1229" y="662" width="454" height="454" fill="none" stroke="#000" stroke-width="2.0"/></svg></body></html>
